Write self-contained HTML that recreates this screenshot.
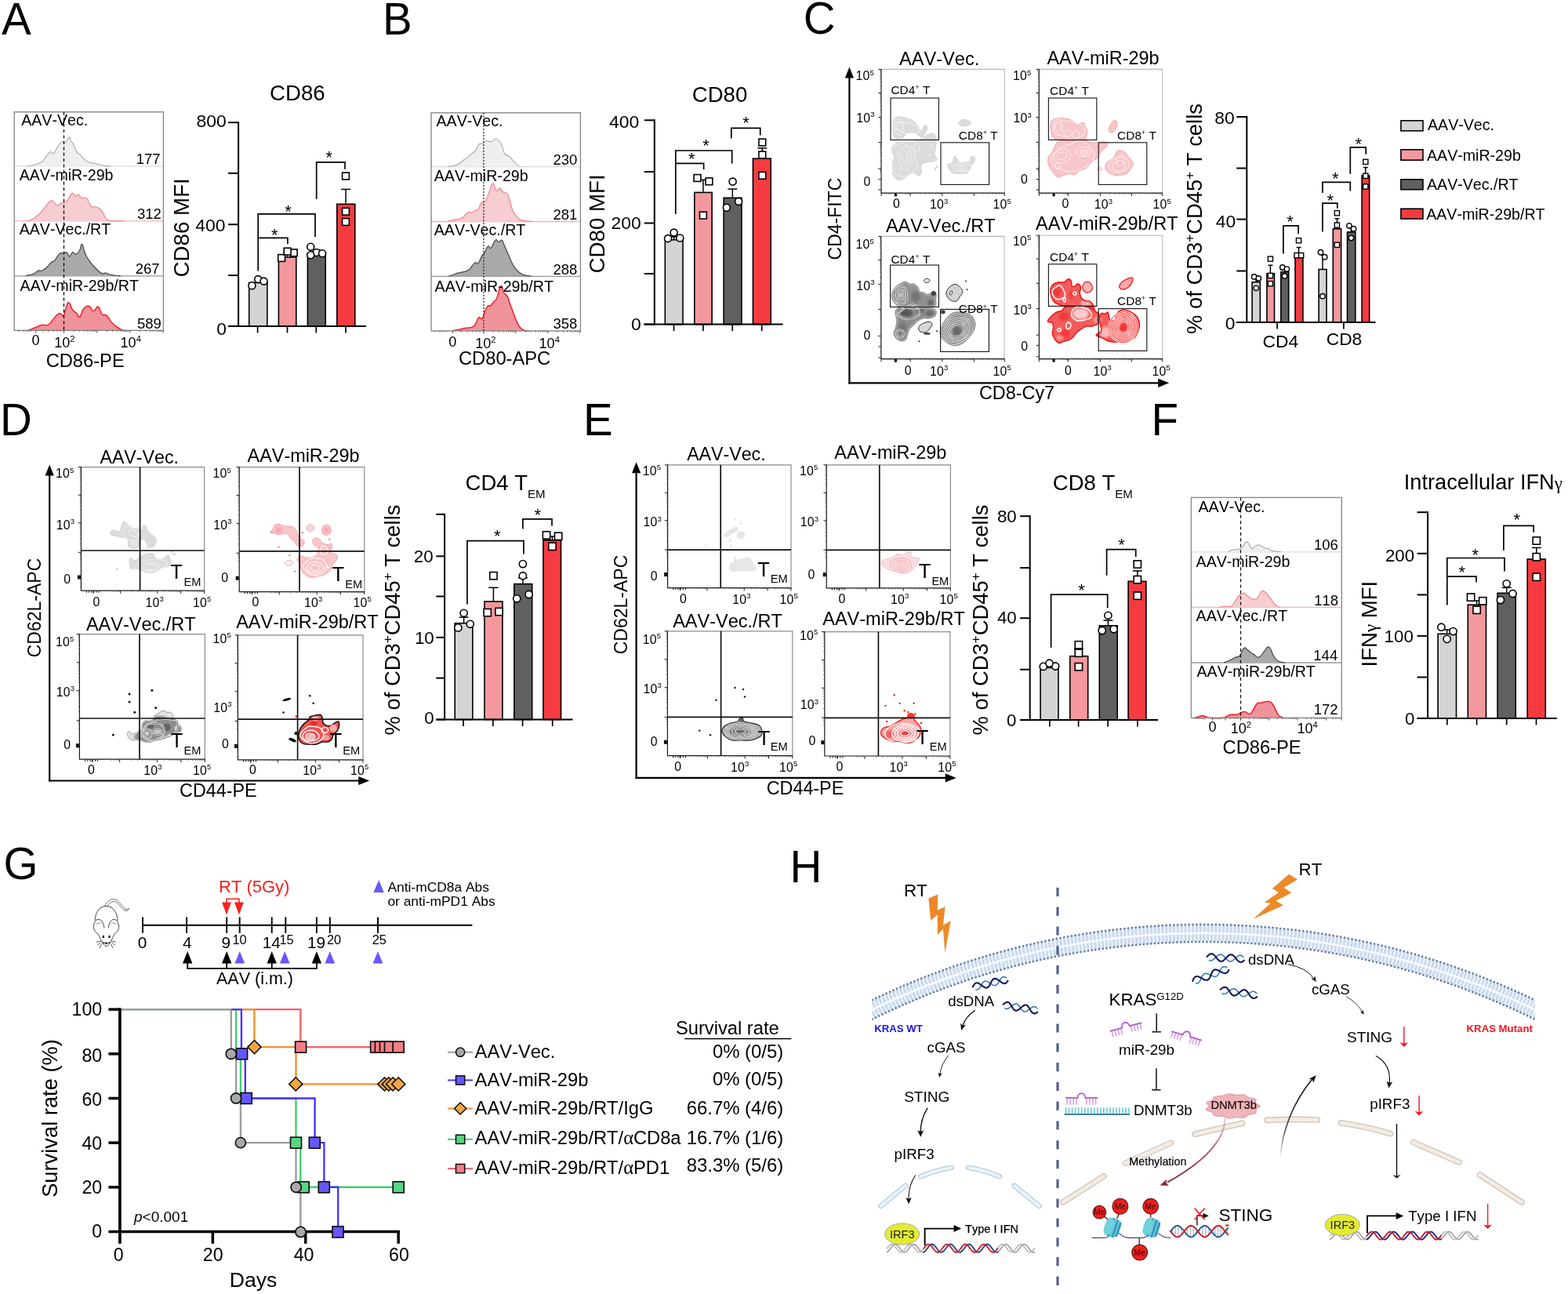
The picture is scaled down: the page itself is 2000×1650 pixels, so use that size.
<!DOCTYPE html>
<html lang="en"><head><meta charset="utf-8"><title>Figure</title>
<style>
html,body{margin:0;padding:0;background:#fff;}
body{width:2000px;height:1650px;overflow:hidden;}
svg{display:block;font-family:'Liberation Sans', Arial, Helvetica, sans-serif;}
text{font-family:'Liberation Sans', Arial, Helvetica, sans-serif;font-kerning:none;}
</style></head><body>
<svg xmlns="http://www.w3.org/2000/svg" width="2000" height="1650" viewBox="0 0 2000 1650">
<defs><filter id="bl1" x="-20%" y="-20%" width="140%" height="140%"><feGaussianBlur stdDeviation="0.7"/></filter><filter id="bl2" x="-30%" y="-30%" width="160%" height="160%"><feGaussianBlur stdDeviation="1.6"/></filter><filter id="bl3" x="-30%" y="-30%" width="160%" height="160%"><feGaussianBlur stdDeviation="2.6"/></filter><linearGradient id="lgO" x1="0" y1="0" x2="1" y2="1"><stop offset="0" stop-color="#e88a2a"/><stop offset="1" stop-color="#ee8a26"/></linearGradient><linearGradient id="lgK" gradientUnits="userSpaceOnUse" x1="1633" y1="1476" x2="1660" y2="1400"><stop offset="0" stop-color="#111" stop-opacity="0"/><stop offset="0.45" stop-color="#111" stop-opacity="0.75"/><stop offset="1" stop-color="#111"/></linearGradient><linearGradient id="lgR" gradientUnits="userSpaceOnUse" x1="1562" y1="1426" x2="1485" y2="1510"><stop offset="0" stop-color="#d88a94" stop-opacity="0.5"/><stop offset="0.35" stop-color="#b04050"/><stop offset="1" stop-color="#8a1c2a"/></linearGradient><clipPath id="cpM"><rect x="1112.4" y="1160" width="845.3" height="160"/></clipPath></defs>
<rect x="0" y="0" width="2000" height="1650" fill="#fff"/>
<text x="1.9" y="44" font-size="56.5">A</text>
<line x1="18.3" y1="211.9" x2="208.4" y2="211.9" stroke="#dcdcdc" stroke-width="1.3"/>
<path d="M35,211.9C37,211.5 38.5,211.6 42.5,210.6C46.5,209.6 46.7,209.6 50,208.1C53.3,206.6 52.7,207.2 55,205C57.3,202.8 56.4,203 58.8,200C61.1,197 61.2,194.9 63.8,193.8C66.2,192.6 65.8,197 68.1,195.6C70.5,194.3 70.3,192.1 72.5,188.8C74.7,185.4 74.4,185.2 76.2,183.1C78.1,181.1 77.4,181.4 79.4,181C81.4,180.6 81.4,183.2 83.8,181.5C86.1,179.8 86.3,175.2 88.1,174.8C90,174.3 89.3,177.8 90.6,180C92,182.2 91.8,180.8 93.1,183.1C94.5,185.5 94.1,185.6 95.6,188.8C97.1,191.9 97.1,192.8 98.8,195C100.4,197.2 99.9,195 101.9,196.9C103.9,198.7 103.4,199.3 106.2,201.9C109.1,204.4 108.8,204.8 112.5,206.5C116.2,208.2 115.3,207 120,208.1C124.7,209.2 124.3,209.6 130,210.6C135.7,211.7 138.2,211.6 141.2,212L141.2,211.9L35.0,211.9Z" fill="#efefef"/>
<path d="M35,211.9C37,211.5 38.5,211.6 42.5,210.6C46.5,209.6 46.7,209.6 50,208.1C53.3,206.6 52.7,207.2 55,205C57.3,202.8 56.4,203 58.8,200C61.1,197 61.2,194.9 63.8,193.8C66.2,192.6 65.8,197 68.1,195.6C70.5,194.3 70.3,192.1 72.5,188.8C74.7,185.4 74.4,185.2 76.2,183.1C78.1,181.1 77.4,181.4 79.4,181C81.4,180.6 81.4,183.2 83.8,181.5C86.1,179.8 86.3,175.2 88.1,174.8C90,174.3 89.3,177.8 90.6,180C92,182.2 91.8,180.8 93.1,183.1C94.5,185.5 94.1,185.6 95.6,188.8C97.1,191.9 97.1,192.8 98.8,195C100.4,197.2 99.9,195 101.9,196.9C103.9,198.7 103.4,199.3 106.2,201.9C109.1,204.4 108.8,204.8 112.5,206.5C116.2,208.2 115.3,207 120,208.1C124.7,209.2 124.3,209.6 130,210.6C135.7,211.7 138.2,211.6 141.2,212" fill="none" stroke="#b4b4b4" stroke-width="1.3" stroke-linejoin="round"/>
<line x1="18.3" y1="281.9" x2="208.4" y2="281.9" stroke="#f3b4ba" stroke-width="1.3"/>
<path d="M33.8,281.9C35.4,281.4 36.3,281.8 40,280C43.7,278.2 44.2,277.5 47.5,275C50.8,272.5 49.5,274 52.5,270.6C55.5,267.3 55.8,266.2 58.8,262.5C61.8,258.8 61.4,258.5 63.8,256.9C66.1,255.3 65,255.1 67.5,256.5C70,257.9 70.5,261.5 73.1,262.2C75.8,263 74.3,260.8 77.5,259.4C80.7,257.9 82,259.2 85,256.9C88,254.5 86.8,253.4 88.8,250.6C90.8,247.9 90.5,246.7 92.5,246.5C94.5,246.3 94.2,249.3 96.2,249.8C98.2,250.2 98,247.5 100,248.1C102,248.8 101.1,251.1 103.8,252.2C106.4,253.4 107.5,251.1 110,252.5C112.5,253.9 111.3,254.6 113.1,257.5C115,260.4 114.2,261.8 116.9,263.5C119.5,265.2 120,262.9 123.1,264C126.3,265.1 126.2,264.9 128.8,267.5C131.2,270.1 130.2,270.2 132.5,273.8C134.8,277.2 133.5,278.6 137.5,280.6C141.5,282.7 142.2,281.1 147.5,281.5C152.8,281.9 154.8,281.9 157.5,282L157.5,281.9L33.8,281.9Z" fill="#f6cdd1"/>
<path d="M33.8,281.9C35.4,281.4 36.3,281.8 40,280C43.7,278.2 44.2,277.5 47.5,275C50.8,272.5 49.5,274 52.5,270.6C55.5,267.3 55.8,266.2 58.8,262.5C61.8,258.8 61.4,258.5 63.8,256.9C66.1,255.3 65,255.1 67.5,256.5C70,257.9 70.5,261.5 73.1,262.2C75.8,263 74.3,260.8 77.5,259.4C80.7,257.9 82,259.2 85,256.9C88,254.5 86.8,253.4 88.8,250.6C90.8,247.9 90.5,246.7 92.5,246.5C94.5,246.3 94.2,249.3 96.2,249.8C98.2,250.2 98,247.5 100,248.1C102,248.8 101.1,251.1 103.8,252.2C106.4,253.4 107.5,251.1 110,252.5C112.5,253.9 111.3,254.6 113.1,257.5C115,260.4 114.2,261.8 116.9,263.5C119.5,265.2 120,262.9 123.1,264C126.3,265.1 126.2,264.9 128.8,267.5C131.2,270.1 130.2,270.2 132.5,273.8C134.8,277.2 133.5,278.6 137.5,280.6C141.5,282.7 142.2,281.1 147.5,281.5C152.8,281.9 154.8,281.9 157.5,282" fill="none" stroke="#ee8a92" stroke-width="1.3" stroke-linejoin="round"/>
<line x1="18.3" y1="351.9" x2="208.4" y2="351.9" stroke="#9a9a9a" stroke-width="1.3"/>
<path d="M32.5,351.5C35.2,350.9 38.2,351 42.5,349.4C46.8,347.7 45.8,346.4 48.8,345.2C51.8,344.1 50.8,346.2 53.8,345C56.8,343.8 56.7,343.6 60,340.6C63.3,337.6 63.8,335.9 66.2,333.8C68.8,331.6 66.7,335.2 69.4,332.5C72,329.8 73.1,326 76.2,323.5C79.4,321 78.9,323.6 81.2,323.1C83.6,322.7 83,320.9 85,321.9C87,322.9 86.8,327 88.8,326.9C90.8,326.8 90.5,322.3 92.5,321.5C94.5,320.7 93.9,324.4 96.2,324C98.6,323.6 99.1,323.3 101.2,320C103.4,316.7 102.7,311.5 104.4,311.5C106,311.5 106,316.1 107.5,320C109,323.9 108,322.5 110,326.2C112,330 112.3,330.4 115,334C117.7,337.6 116.3,336 120,339.8C123.7,343.5 124.8,345.9 128.8,348.1C132.8,350.4 131.3,347.6 135,348.2C138.7,348.9 137.5,349.7 142.5,350.6C147.5,351.6 150.8,351.5 153.8,351.9L153.8,351.9L32.5,351.9Z" fill="#a9a9a9"/>
<path d="M32.5,351.5C35.2,350.9 38.2,351 42.5,349.4C46.8,347.7 45.8,346.4 48.8,345.2C51.8,344.1 50.8,346.2 53.8,345C56.8,343.8 56.7,343.6 60,340.6C63.3,337.6 63.8,335.9 66.2,333.8C68.8,331.6 66.7,335.2 69.4,332.5C72,329.8 73.1,326 76.2,323.5C79.4,321 78.9,323.6 81.2,323.1C83.6,322.7 83,320.9 85,321.9C87,322.9 86.8,327 88.8,326.9C90.8,326.8 90.5,322.3 92.5,321.5C94.5,320.7 93.9,324.4 96.2,324C98.6,323.6 99.1,323.3 101.2,320C103.4,316.7 102.7,311.5 104.4,311.5C106,311.5 106,316.1 107.5,320C109,323.9 108,322.5 110,326.2C112,330 112.3,330.4 115,334C117.7,337.6 116.3,336 120,339.8C123.7,343.5 124.8,345.9 128.8,348.1C132.8,350.4 131.3,347.6 135,348.2C138.7,348.9 137.5,349.7 142.5,350.6C147.5,351.6 150.8,351.5 153.8,351.9" fill="none" stroke="#4c4c4c" stroke-width="1.3" stroke-linejoin="round"/>
<path d="M35,421.9C37.3,420.9 38.8,420.1 43.8,418.1C48.8,416.1 49.1,415.4 53.8,414.4C58.4,413.4 57.6,416.2 61.2,414.4C64.9,412.5 64.2,411.2 67.5,407.5C70.8,403.8 71.1,402.6 73.8,400.6C76.4,398.7 75.5,399.9 77.5,400.2C79.5,400.6 79.2,404.6 81.2,401.9C83.2,399.1 83.2,394.2 85,390C86.8,385.8 86.1,384.9 88.1,386.2C90.1,387.6 90,391.5 92.5,395C95,398.5 95,397 97.5,399.4C100,401.7 99.5,405.1 101.9,403.8C104.2,402.4 103.2,397.9 106.2,394.4C109.2,390.8 109.6,389.8 113.1,390.4C116.6,390.9 116.2,396.3 119.4,396.5C122.5,396.7 122.2,390.1 125,391.2C127.8,392.4 127.5,397.9 130,400.6C132.5,403.4 132,400.2 134.4,401.5C136.7,402.8 136.6,403 138.8,405.6C140.9,408.2 139.5,408.1 142.5,411.2C145.5,414.4 146.3,414.9 150,417.5C153.7,420.1 153.2,419.7 156.2,420.9C159.2,422 159.9,421.6 161.2,421.9L161.2,421.3L35.0,421.3Z" fill="#f1939b"/>
<path d="M35,421.9C37.3,420.9 38.8,420.1 43.8,418.1C48.8,416.1 49.1,415.4 53.8,414.4C58.4,413.4 57.6,416.2 61.2,414.4C64.9,412.5 64.2,411.2 67.5,407.5C70.8,403.8 71.1,402.6 73.8,400.6C76.4,398.7 75.5,399.9 77.5,400.2C79.5,400.6 79.2,404.6 81.2,401.9C83.2,399.1 83.2,394.2 85,390C86.8,385.8 86.1,384.9 88.1,386.2C90.1,387.6 90,391.5 92.5,395C95,398.5 95,397 97.5,399.4C100,401.7 99.5,405.1 101.9,403.8C104.2,402.4 103.2,397.9 106.2,394.4C109.2,390.8 109.6,389.8 113.1,390.4C116.6,390.9 116.2,396.3 119.4,396.5C122.5,396.7 122.2,390.1 125,391.2C127.8,392.4 127.5,397.9 130,400.6C132.5,403.4 132,400.2 134.4,401.5C136.7,402.8 136.6,403 138.8,405.6C140.9,408.2 139.5,408.1 142.5,411.2C145.5,414.4 146.3,414.9 150,417.5C153.7,420.1 153.2,419.7 156.2,420.9C159.2,422 159.9,421.6 161.2,421.9" fill="none" stroke="#f3262c" stroke-width="1.6" stroke-linejoin="round"/>
<rect x="18.3" y="142.8" width="190.1" height="278.5" fill="none" stroke="#8a8a8a" stroke-width="1.4"/>
<line x1="81.5" y1="142.8" x2="81.5" y2="424.3" stroke="#111" stroke-width="1.3" stroke-dasharray="4.2 3.2"/>
<text x="27.2" y="160.4" font-size="19.6">AAV-Vec.</text>
<text x="24.7" y="230.4" font-size="19.6">AAV-miR-29b</text>
<text x="24.7" y="299.4" font-size="19.6">AAV-Vec./RT</text>
<text x="25.6" y="370.6" font-size="19.6">AAV-miR-29b/RT</text>
<text x="204.6" y="209" font-size="18.5" text-anchor="end">177</text>
<text x="205.8" y="279.4" font-size="18.5" text-anchor="end">312</text>
<text x="203.6" y="349.4" font-size="18.5" text-anchor="end">267</text>
<text x="205.8" y="418.8" font-size="18.5" text-anchor="end">589</text>
<path d="M81.5,421.3v3.2M94.2,421.3v1.6M101.6,421.3v1.6M106.9,421.3v1.6M111.0,421.3v1.6M114.3,421.3v1.6M117.2,421.3v1.6M119.6,421.3v1.6M121.8,421.3v1.6M123.7,421.3v3.2M136.4,421.3v1.6M143.8,421.3v1.6M149.1,421.3v1.6M153.2,421.3v1.6M156.5,421.3v1.6M159.4,421.3v1.6M161.8,421.3v1.6M164.0,421.3v1.6M165.9,421.3v3.2M178.6,421.3v1.6M186.0,421.3v1.6M191.3,421.3v1.6M195.4,421.3v1.6M198.7,421.3v1.6M201.6,421.3v1.6M204.0,421.3v1.6M206.2,421.3v1.6M208.1,421.3v3.2M45.6,421.3v3.2M30.0,421.3v1.6M33.0,421.3v1.6M36.0,421.3v1.6M39.0,421.3v1.6M24.0,421.3v1.6M55.0,421.3v1.6M62.0,421.3v1.6M68.0,421.3v1.6M73.0,421.3v1.6M77.0,421.3v1.6" fill="none" stroke="#555" stroke-width="1"/>
<text x="45.6" y="440.2" font-size="18" text-anchor="middle">0</text>
<text x="69.2" y="442.5" font-size="18">10<tspan font-size="11.16" dy="-6.48">2</tspan><tspan dy="6.48" font-size="1">&#8203;</tspan></text>
<text x="153.6" y="442.5" font-size="18">10<tspan font-size="11.16" dy="-6.48">4</tspan><tspan dy="6.48" font-size="1">&#8203;</tspan></text>
<text x="108.7" y="468.4" font-size="23.7" text-anchor="middle">CD86-PE</text>
<rect x="317.7" y="360.4" width="23.1" height="55.5" fill="#d4d4d4" stroke="#000" stroke-width="1.6"/>
<rect x="355.4" y="327.9" width="22.4" height="88" fill="#f3999e" stroke="#000" stroke-width="1.6"/>
<rect x="392.4" y="323" width="22.8" height="92.9" fill="#606060" stroke="#000" stroke-width="1.6"/>
<rect x="429.8" y="260.3" width="23" height="155.6" fill="#f53b40" stroke="#000" stroke-width="1.6"/>
<line x1="441" y1="241.4" x2="441" y2="259.5" stroke="#000" stroke-width="1.5"/>
<line x1="435" y1="241.4" x2="447" y2="241.4" stroke="#000" stroke-width="1.5"/>
<line x1="366.5" y1="322" x2="366.5" y2="327" stroke="#000" stroke-width="1.5"/>
<line x1="361.5" y1="322" x2="371.5" y2="322" stroke="#000" stroke-width="1.5"/>
<line x1="403.7" y1="318.5" x2="403.7" y2="322.2" stroke="#000" stroke-width="1.5"/>
<line x1="398.7" y1="318.5" x2="408.7" y2="318.5" stroke="#000" stroke-width="1.5"/>
<line x1="329.2" y1="357" x2="329.2" y2="359.6" stroke="#000" stroke-width="1.5"/>
<line x1="324.2" y1="357" x2="334.2" y2="357" stroke="#000" stroke-width="1.5"/>
<line x1="304.1" y1="155.2" x2="304.1" y2="416.9" stroke="#000" stroke-width="2"/>
<line x1="290.9" y1="415.9" x2="467" y2="415.9" stroke="#000" stroke-width="2"/>
<line x1="291.1" y1="156.2" x2="304.1" y2="156.2" stroke="#000" stroke-width="2"/>
<text x="288.8" y="162.1" font-size="22.9" text-anchor="end">800</text>
<line x1="291.1" y1="220.9" x2="304.1" y2="220.9" stroke="#000" stroke-width="2"/>
<line x1="291.1" y1="286.2" x2="304.1" y2="286.2" stroke="#000" stroke-width="2"/>
<text x="287.5" y="294.6" font-size="22.9" text-anchor="end">400</text>
<line x1="291.1" y1="351.1" x2="304.1" y2="351.1" stroke="#000" stroke-width="2"/>
<line x1="291.1" y1="415.9" x2="304.1" y2="415.9" stroke="#000" stroke-width="2"/>
<text x="289.1" y="427.2" font-size="22.9" text-anchor="end">0</text>
<line x1="328.6" y1="415.9" x2="328.6" y2="424.4" stroke="#000" stroke-width="1.7"/>
<line x1="366.5" y1="415.9" x2="366.5" y2="424.4" stroke="#000" stroke-width="1.7"/>
<line x1="403.3" y1="415.9" x2="403.3" y2="424.4" stroke="#000" stroke-width="1.7"/>
<line x1="441" y1="415.9" x2="441" y2="424.4" stroke="#000" stroke-width="1.7"/>
<circle cx="321.4" cy="364.2" r="4.5" fill="#fff" stroke="#000" stroke-width="1.6"/>
<circle cx="329.2" cy="356.1" r="4.5" fill="#fff" stroke="#000" stroke-width="1.6"/>
<circle cx="336.6" cy="358.6" r="4.5" fill="#fff" stroke="#000" stroke-width="1.6"/>
<rect x="354.7" y="324.6" width="8.8" height="8.8" fill="#fff" stroke="#000" stroke-width="1.6"/>
<rect x="370.3" y="317.9" width="8.8" height="8.8" fill="#fff" stroke="#000" stroke-width="1.6"/>
<rect x="362.2" y="316.2" width="8.8" height="8.8" fill="#fff" stroke="#000" stroke-width="1.6"/>
<circle cx="403.7" cy="322" r="4.5" fill="#fff" stroke="#000" stroke-width="1.6"/>
<circle cx="396.2" cy="314.8" r="4.5" fill="#fff" stroke="#000" stroke-width="1.6"/>
<circle cx="396.2" cy="325.2" r="4.5" fill="#fff" stroke="#000" stroke-width="1.6"/>
<circle cx="411.1" cy="323.2" r="4.5" fill="#fff" stroke="#000" stroke-width="1.6"/>
<rect x="436.6" y="220.1" width="8.8" height="8.8" fill="#fff" stroke="#000" stroke-width="1.6"/>
<rect x="436.6" y="265.3" width="8.8" height="8.8" fill="#fff" stroke="#000" stroke-width="1.6"/>
<rect x="436.6" y="278.6" width="8.8" height="8.8" fill="#fff" stroke="#000" stroke-width="1.6"/>
<polyline points="329.2,345.6 329.2,272.9 402,272.9 402,302.1" fill="none" stroke="#000" stroke-width="1.7"/>
<polyline points="329.2,303.3 366.9,303.3 366.9,310.9" fill="none" stroke="#000" stroke-width="1.7"/>
<polyline points="403.7,253.8 403.7,206.9 440,206.9 440,215.7" fill="none" stroke="#000" stroke-width="1.7"/>
<text x="350.4" y="306.9" font-size="22" text-anchor="middle">*</text>
<text x="367.6" y="276.5" font-size="22" text-anchor="middle">*</text>
<text x="419.8" y="208.2" font-size="22" text-anchor="middle">*</text>
<text x="241.5" y="290.3" font-size="27.7" text-anchor="middle" transform="rotate(-90 241.5 290.3)">CD86 MFI</text>
<text x="379.4" y="128" font-size="27.6" text-anchor="middle">CD86</text>
<text x="488" y="44" font-size="56.5">B</text>
<line x1="550" y1="212.5" x2="740.4" y2="212.5" stroke="#dcdcdc" stroke-width="1.3"/>
<path d="M571.2,212.5C573.6,212.2 576,212.4 580,211.2C584,210.1 582.9,210.3 586.2,208.1C589.6,206 589.8,205 592.5,203.1C595.2,201.2 593.6,203.2 596.2,201C598.9,198.8 599.8,197.3 602.5,195C605.2,192.7 603.9,195.5 606.2,192.5C608.6,189.5 608.9,186.2 611.2,183.8C613.6,181.2 612.7,184.2 615,183.1C617.3,182.1 617.3,180.4 620,179.8C622.7,179.1 622.7,180.6 625,180.6C627.3,180.7 626.9,181 628.8,180C630.6,179 629.9,177 631.9,176.9C633.9,176.7 634.4,177.9 636.2,179.4C638.1,180.9 637.4,180 638.8,182.5C640.1,185 639.9,185.1 641.2,188.8C642.6,192.4 642.1,193.8 643.8,196.2C645.4,198.8 645.2,196.5 647.5,198.1C649.8,199.8 649.8,199.8 652.5,202.5C655.2,205.2 654.8,205.5 657.5,208.1C660.2,210.7 661.2,211.2 662.5,212.2L662.5,212.5L571.2,212.5Z" fill="#efefef"/>
<path d="M571.2,212.5C573.6,212.2 576,212.4 580,211.2C584,210.1 582.9,210.3 586.2,208.1C589.6,206 589.8,205 592.5,203.1C595.2,201.2 593.6,203.2 596.2,201C598.9,198.8 599.8,197.3 602.5,195C605.2,192.7 603.9,195.5 606.2,192.5C608.6,189.5 608.9,186.2 611.2,183.8C613.6,181.2 612.7,184.2 615,183.1C617.3,182.1 617.3,180.4 620,179.8C622.7,179.1 622.7,180.6 625,180.6C627.3,180.7 626.9,181 628.8,180C630.6,179 629.9,177 631.9,176.9C633.9,176.7 634.4,177.9 636.2,179.4C638.1,180.9 637.4,180 638.8,182.5C640.1,185 639.9,185.1 641.2,188.8C642.6,192.4 642.1,193.8 643.8,196.2C645.4,198.8 645.2,196.5 647.5,198.1C649.8,199.8 649.8,199.8 652.5,202.5C655.2,205.2 654.8,205.5 657.5,208.1C660.2,210.7 661.2,211.2 662.5,212.2" fill="none" stroke="#b4b4b4" stroke-width="1.3" stroke-linejoin="round"/>
<line x1="550" y1="282.5" x2="740.4" y2="282.5" stroke="#f3b4ba" stroke-width="1.3"/>
<path d="M571.2,282.5C573.6,281.8 575.3,281.2 580,280C584.7,278.8 585.1,279.8 588.8,278.1C592.4,276.5 591.4,275.8 593.8,273.8C596.1,271.8 595.3,271.3 597.5,270.6C599.7,270 599.5,271.9 601.9,271.2C604.2,270.6 604.1,269.3 606.2,268.1C608.4,267 608,269.4 610,266.9C612,264.4 611.8,261.2 613.8,258.8C615.8,256.2 615.5,259.2 617.5,257.5C619.5,255.8 619.2,256.7 621.2,252.5C623.2,248.3 623,246.8 625,241.9C627,236.9 626.6,233.7 628.8,234C630.9,234.3 630.8,241.5 633.1,243.1C635.5,244.7 635,239.3 637.5,240C640,240.7 640,243.8 642.5,245.6C645,247.5 644.9,244.4 646.9,246.9C648.9,249.4 648.3,249.8 650,255C651.7,260.2 651.5,261.6 653.1,266.2C654.8,270.9 654.1,269.3 656.2,272.5C658.4,275.7 658.2,275.7 661.2,278.1C664.2,280.5 662.8,280.3 667.5,281.5C672.2,282.7 675.8,282.2 678.8,282.5L678.8,282.5L571.2,282.5Z" fill="#f6cdd1"/>
<path d="M571.2,282.5C573.6,281.8 575.3,281.2 580,280C584.7,278.8 585.1,279.8 588.8,278.1C592.4,276.5 591.4,275.8 593.8,273.8C596.1,271.8 595.3,271.3 597.5,270.6C599.7,270 599.5,271.9 601.9,271.2C604.2,270.6 604.1,269.3 606.2,268.1C608.4,267 608,269.4 610,266.9C612,264.4 611.8,261.2 613.8,258.8C615.8,256.2 615.5,259.2 617.5,257.5C619.5,255.8 619.2,256.7 621.2,252.5C623.2,248.3 623,246.8 625,241.9C627,236.9 626.6,233.7 628.8,234C630.9,234.3 630.8,241.5 633.1,243.1C635.5,244.7 635,239.3 637.5,240C640,240.7 640,243.8 642.5,245.6C645,247.5 644.9,244.4 646.9,246.9C648.9,249.4 648.3,249.8 650,255C651.7,260.2 651.5,261.6 653.1,266.2C654.8,270.9 654.1,269.3 656.2,272.5C658.4,275.7 658.2,275.7 661.2,278.1C664.2,280.5 662.8,280.3 667.5,281.5C672.2,282.7 675.8,282.2 678.8,282.5" fill="none" stroke="#ee8a92" stroke-width="1.3" stroke-linejoin="round"/>
<line x1="550" y1="352.3" x2="740.4" y2="352.3" stroke="#9a9a9a" stroke-width="1.3"/>
<path d="M572.5,352.2C574.2,351.6 575.8,351.1 578.8,350C581.8,348.9 580.8,349 583.8,348.1C586.8,347.3 586.3,347.9 590,346.9C593.7,345.9 594.2,346.5 597.5,344.4C600.8,342.2 600.2,341.3 602.5,338.8C604.8,336.2 604.2,335.6 606.2,334.8C608.2,333.9 607.7,338.1 610,335.6C612.3,333.2 613,329 615,325.6C617,322.3 615.5,326.2 617.5,323.1C619.5,320 620.2,315.8 622.5,314C624.8,312.2 623.8,318.3 626.2,316.2C628.8,314.2 629.2,308.3 631.9,306.2C634.5,304.2 634.1,308.5 636.2,308.5C638.4,308.5 638.2,305.2 640,306.2C641.8,307.3 641.1,308.2 643.1,312.5C645.1,316.8 645.3,317.5 647.5,322.5C649.7,327.5 648.9,326.4 651.2,331.2C653.6,336.1 653.2,336.3 656.2,340.6C659.2,345 659.2,344.8 662.5,347.5C665.8,350.2 664.8,349.4 668.8,350.6C672.8,351.9 675.2,351.8 677.5,352.2L677.5,352.3L572.5,352.3Z" fill="#a9a9a9"/>
<path d="M572.5,352.2C574.2,351.6 575.8,351.1 578.8,350C581.8,348.9 580.8,349 583.8,348.1C586.8,347.3 586.3,347.9 590,346.9C593.7,345.9 594.2,346.5 597.5,344.4C600.8,342.2 600.2,341.3 602.5,338.8C604.8,336.2 604.2,335.6 606.2,334.8C608.2,333.9 607.7,338.1 610,335.6C612.3,333.2 613,329 615,325.6C617,322.3 615.5,326.2 617.5,323.1C619.5,320 620.2,315.8 622.5,314C624.8,312.2 623.8,318.3 626.2,316.2C628.8,314.2 629.2,308.3 631.9,306.2C634.5,304.2 634.1,308.5 636.2,308.5C638.4,308.5 638.2,305.2 640,306.2C641.8,307.3 641.1,308.2 643.1,312.5C645.1,316.8 645.3,317.5 647.5,322.5C649.7,327.5 648.9,326.4 651.2,331.2C653.6,336.1 653.2,336.3 656.2,340.6C659.2,345 659.2,344.8 662.5,347.5C665.8,350.2 664.8,349.4 668.8,350.6C672.8,351.9 675.2,351.8 677.5,352.2" fill="none" stroke="#4c4c4c" stroke-width="1.3" stroke-linejoin="round"/>
<path d="M576.2,421.9C578.2,421.5 579.4,421.5 583.8,420.6C588.1,419.7 587.5,419.5 592.5,418.5C597.5,417.5 598.7,418.5 602.5,416.9C606.3,415.3 604.7,415.7 606.9,412.5C609,409.3 608.5,406.7 610.6,405C612.8,403.3 612.8,408.6 615,406.2C617.2,403.9 616.8,400.6 618.8,396.2C620.8,391.9 620.7,391.7 622.5,390C624.3,388.3 623.6,391.2 625.6,389.8C627.6,388.2 627.8,387 630,384.4C632.2,381.8 631.4,385.2 633.8,380C636.1,374.8 636.4,366.8 638.8,365C641.1,363.2 640.3,369.8 642.5,373.1C644.7,376.5 644.9,374 646.9,377.5C648.9,381 648.2,381.2 650,386.2C651.8,391.2 651.8,390.9 653.8,396.2C655.8,401.6 655.5,401.4 657.5,406.2C659.5,411.1 659.2,411 661.2,414.4C663.2,417.8 662.7,417.1 665,419C667.3,420.9 667.3,420.7 670,421.5C672.7,422.3 673.7,422 675,422.1L675.0,421.9L576.2,421.9Z" fill="#f1939b"/>
<path d="M576.2,421.9C578.2,421.5 579.4,421.5 583.8,420.6C588.1,419.7 587.5,419.5 592.5,418.5C597.5,417.5 598.7,418.5 602.5,416.9C606.3,415.3 604.7,415.7 606.9,412.5C609,409.3 608.5,406.7 610.6,405C612.8,403.3 612.8,408.6 615,406.2C617.2,403.9 616.8,400.6 618.8,396.2C620.8,391.9 620.7,391.7 622.5,390C624.3,388.3 623.6,391.2 625.6,389.8C627.6,388.2 627.8,387 630,384.4C632.2,381.8 631.4,385.2 633.8,380C636.1,374.8 636.4,366.8 638.8,365C641.1,363.2 640.3,369.8 642.5,373.1C644.7,376.5 644.9,374 646.9,377.5C648.9,381 648.2,381.2 650,386.2C651.8,391.2 651.8,390.9 653.8,396.2C655.8,401.6 655.5,401.4 657.5,406.2C659.5,411.1 659.2,411 661.2,414.4C663.2,417.8 662.7,417.1 665,419C667.3,420.9 667.3,420.7 670,421.5C672.7,422.3 673.7,422 675,422.1" fill="none" stroke="#f3262c" stroke-width="1.6" stroke-linejoin="round"/>
<rect x="550" y="143.8" width="190.4" height="278.1" fill="none" stroke="#8a8a8a" stroke-width="1.4"/>
<line x1="616.9" y1="143.8" x2="616.9" y2="424.9" stroke="#333" stroke-width="1.3" stroke-dasharray="2.2 1.8"/>
<text x="556.5" y="161.3" font-size="19.6">AAV-Vec.</text>
<text x="553.8" y="231" font-size="19.6">AAV-miR-29b</text>
<text x="553.8" y="300.3" font-size="19.6">AAV-Vec./RT</text>
<text x="554.6" y="371.5" font-size="19.6">AAV-miR-29b/RT</text>
<text x="736.3" y="209.6" font-size="18.5" text-anchor="end">230</text>
<text x="736.3" y="280" font-size="18.5" text-anchor="end">281</text>
<text x="736.3" y="350.3" font-size="18.5" text-anchor="end">288</text>
<text x="736.3" y="419" font-size="18.5" text-anchor="end">358</text>
<path d="M616.9,421.9v3.2M629.2,421.9v1.6M636.5,421.9v1.6M641.6,421.9v1.6M645.6,421.9v1.6M648.8,421.9v1.6M651.5,421.9v1.6M653.9,421.9v1.6M656.0,421.9v1.6M657.9,421.9v3.2M670.2,421.9v1.6M677.5,421.9v1.6M682.6,421.9v1.6M686.6,421.9v1.6M689.8,421.9v1.6M692.5,421.9v1.6M694.9,421.9v1.6M697.0,421.9v1.6M698.9,421.9v3.2M711.2,421.9v1.6M718.5,421.9v1.6M723.6,421.9v1.6M727.6,421.9v1.6M730.8,421.9v1.6M733.5,421.9v1.6M735.9,421.9v1.6M738.0,421.9v1.6M739.9,421.9v3.2M577.3,421.9v3.2M560.0,421.9v1.6M563.0,421.9v1.6M566.0,421.9v1.6M569.0,421.9v1.6M555.0,421.9v1.6M588.0,421.9v1.6M596.0,421.9v1.6M603.0,421.9v1.6M608.0,421.9v1.6M612.0,421.9v1.6" fill="none" stroke="#555" stroke-width="1"/>
<text x="577.3" y="442" font-size="18" text-anchor="middle">0</text>
<text x="606.3" y="443.5" font-size="18">10<tspan font-size="11.16" dy="-6.48">2</tspan><tspan dy="6.48" font-size="1">&#8203;</tspan></text>
<text x="687.6" y="443.5" font-size="18">10<tspan font-size="11.16" dy="-6.48">4</tspan><tspan dy="6.48" font-size="1">&#8203;</tspan></text>
<text x="643.6" y="465" font-size="23.7" text-anchor="middle">CD80-APC</text>
<rect x="848.3" y="305.8" width="22.7" height="107.8" fill="#d4d4d4" stroke="#000" stroke-width="1.6"/>
<rect x="885.8" y="245.4" width="22.3" height="168.2" fill="#f3999e" stroke="#000" stroke-width="1.6"/>
<rect x="923.1" y="252.3" width="22.8" height="161.3" fill="#606060" stroke="#000" stroke-width="1.6"/>
<rect x="960.4" y="202.2" width="22.8" height="211.4" fill="#f53b40" stroke="#000" stroke-width="1.6"/>
<line x1="896.9" y1="229.4" x2="896.9" y2="244.6" stroke="#000" stroke-width="1.5"/>
<line x1="890.9" y1="229.4" x2="902.9" y2="229.4" stroke="#000" stroke-width="1.5"/>
<line x1="934.3" y1="241" x2="934.3" y2="251.5" stroke="#000" stroke-width="1.5"/>
<line x1="928.3" y1="241" x2="940.3" y2="241" stroke="#000" stroke-width="1.5"/>
<line x1="972.3" y1="188.8" x2="972.3" y2="201.4" stroke="#000" stroke-width="1.5"/>
<line x1="966.3" y1="188.8" x2="978.3" y2="188.8" stroke="#000" stroke-width="1.5"/>
<line x1="859.6" y1="302" x2="859.6" y2="305" stroke="#000" stroke-width="1.5"/>
<line x1="854.6" y1="302" x2="864.6" y2="302" stroke="#000" stroke-width="1.5"/>
<line x1="834.8" y1="152.3" x2="834.8" y2="414.6" stroke="#000" stroke-width="2"/>
<line x1="821.2" y1="413.6" x2="998.6" y2="413.6" stroke="#000" stroke-width="2"/>
<line x1="821.8" y1="153.3" x2="834.8" y2="153.3" stroke="#000" stroke-width="2"/>
<text x="815.2" y="163" font-size="22.9" text-anchor="end">400</text>
<line x1="821.8" y1="219" x2="834.8" y2="219" stroke="#000" stroke-width="2"/>
<line x1="821.8" y1="284.5" x2="834.8" y2="284.5" stroke="#000" stroke-width="2"/>
<text x="817.8" y="292.4" font-size="22.9" text-anchor="end">200</text>
<line x1="821.8" y1="349" x2="834.8" y2="349" stroke="#000" stroke-width="2"/>
<line x1="821.8" y1="413.6" x2="834.8" y2="413.6" stroke="#000" stroke-width="2"/>
<text x="817.8" y="421.4" font-size="22.9" text-anchor="end">0</text>
<line x1="859.5" y1="413.6" x2="859.5" y2="422.1" stroke="#000" stroke-width="1.7"/>
<line x1="896.9" y1="413.6" x2="896.9" y2="422.1" stroke="#000" stroke-width="1.7"/>
<line x1="934.2" y1="413.6" x2="934.2" y2="422.1" stroke="#000" stroke-width="1.7"/>
<line x1="971.7" y1="413.6" x2="971.7" y2="422.1" stroke="#000" stroke-width="1.7"/>
<circle cx="852" cy="304.1" r="4.5" fill="#fff" stroke="#000" stroke-width="1.6"/>
<circle cx="867.3" cy="303.5" r="4.5" fill="#fff" stroke="#000" stroke-width="1.6"/>
<circle cx="859.6" cy="296.6" r="4.5" fill="#fff" stroke="#000" stroke-width="1.6"/>
<rect x="885.1" y="222.6" width="8.8" height="8.8" fill="#fff" stroke="#000" stroke-width="1.6"/>
<rect x="900" y="226.9" width="8.8" height="8.8" fill="#fff" stroke="#000" stroke-width="1.6"/>
<rect x="892.5" y="270.2" width="8.8" height="8.8" fill="#fff" stroke="#000" stroke-width="1.6"/>
<circle cx="934.6" cy="231.6" r="4.5" fill="#fff" stroke="#000" stroke-width="1.6"/>
<circle cx="942.1" cy="256.9" r="4.5" fill="#fff" stroke="#000" stroke-width="1.6"/>
<circle cx="926.8" cy="264.8" r="4.5" fill="#fff" stroke="#000" stroke-width="1.6"/>
<rect x="967.9" y="177.1" width="8.8" height="8.8" fill="#fff" stroke="#000" stroke-width="1.6"/>
<rect x="967.9" y="193.1" width="8.8" height="8.8" fill="#fff" stroke="#000" stroke-width="1.6"/>
<rect x="967.9" y="219.4" width="8.8" height="8.8" fill="#fff" stroke="#000" stroke-width="1.6"/>
<polyline points="861.8,272.9 861.8,192 933.7,192 933.7,208.6" fill="none" stroke="#000" stroke-width="1.7"/>
<polyline points="861.8,208.3 897.6,208.3 897.6,216.1" fill="none" stroke="#000" stroke-width="1.7"/>
<polyline points="932.8,176.4 932.8,163.3 969.7,163.3 969.7,172.5" fill="none" stroke="#000" stroke-width="1.7"/>
<text x="882.2" y="209.5" font-size="22" text-anchor="middle">*</text>
<text x="900.5" y="192.9" font-size="22" text-anchor="middle">*</text>
<text x="951.5" y="164.3" font-size="22" text-anchor="middle">*</text>
<text x="771.5" y="285.4" font-size="27.7" text-anchor="middle" transform="rotate(-90 771.5 285.4)">CD80 MFI</text>
<text x="918" y="129.6" font-size="27.6" text-anchor="middle">CD80</text>
<text x="1024.7" y="43.2" font-size="56.5">C</text>
<line x1="1083.4" y1="98.6" x2="1083.4" y2="489.4" stroke="#000" stroke-width="2.2"/>
<polygon points="1083.4,85.6 1077.8,99.6 1089,99.6" fill="#000"/>
<line x1="1082.3" y1="488.3" x2="1478.2" y2="488.3" stroke="#000" stroke-width="2.2"/>
<polygon points="1491.2,488.3 1477.2,482.7 1477.2,493.9" fill="#000"/>
<text x="1073" y="279" font-size="23" text-anchor="middle" transform="rotate(-90 1073 279)">CD4-FITC</text>
<text x="1297" y="509" font-size="23.4" text-anchor="middle">CD8-Cy7</text>
<path d="M1139.2,154.4C1139.9,152.2 1141.2,150.5 1142.8,149.6C1144.4,148.7 1146.6,148.8 1148.8,149C1151,149.2 1153.6,150.1 1156,150.8C1158.4,151.5 1161.2,152.2 1163.2,153.2C1165.2,154.2 1166.6,155.2 1168,156.8C1169.4,158.4 1170.4,161.1 1171.6,162.8C1172.8,164.5 1174,167.4 1175.2,167C1176.4,166.6 1177.7,161.6 1178.8,160.4C1179.9,159.2 1181.2,159 1181.8,159.8C1182.4,160.6 1182.7,163.5 1182.4,165.2C1182.1,166.9 1181.2,168.4 1180,170C1178.8,171.6 1177.2,174.8 1175.2,174.8C1173.2,174.8 1170.2,171 1168,170C1165.8,169 1164,168.8 1162,168.8C1160,168.8 1157.6,169 1156,170C1154.4,171 1154.4,173.7 1152.4,174.8C1150.4,175.9 1146.1,177 1144,176.6C1141.9,176.2 1140.7,174.7 1139.8,172.4C1138.9,170.1 1138.7,165.8 1138.6,162.8C1138.5,159.8 1138.5,156.6 1139.2,154.4Z" fill="#dcdcdc" stroke="#cfcfcf" stroke-width="0.8" stroke-linejoin="round"/>
<path d="M1136.8,191.6C1137,188.8 1139.2,185 1141.6,183.2C1144,181.4 1147.8,181 1151.2,180.8C1154.6,180.6 1159.2,182.2 1162,182C1164.8,181.8 1165.8,180.4 1168,179.6C1170.2,178.8 1173,178.4 1175.2,177.2C1177.4,176 1179.2,173.6 1181.2,172.4C1183.2,171.2 1185.4,170.2 1187.2,170C1189,169.8 1190.8,169.6 1192,171.2C1193.2,172.8 1194.2,176.6 1194.4,179.6C1194.6,182.6 1193.6,186.2 1193.2,189.2C1192.8,192.2 1191.6,195.4 1192,197.6C1192.4,199.8 1195.8,201 1195.6,202.4C1195.4,203.8 1193.2,205.2 1190.8,206C1188.4,206.8 1183.8,206.4 1181.2,207.2C1178.6,208 1176.2,208.6 1175.2,210.8C1174.2,213 1175.8,218.2 1175.2,220.4C1174.6,222.6 1173.2,224 1171.6,224C1170,224 1167.8,220.6 1165.6,220.4C1163.4,220.2 1160.8,221.4 1158.4,222.8C1156,224.2 1153.6,227.8 1151.2,228.8C1148.8,229.8 1146,229.8 1144,228.8C1142,227.8 1140.2,226 1139.2,222.8C1138.2,219.6 1137.8,213.4 1138,209.6C1138.2,205.8 1140.6,203 1140.4,200C1140.2,197 1136.6,194.4 1136.8,191.6Z" fill="#dcdcdc" stroke="#cfcfcf" stroke-width="0.8" stroke-linejoin="round"/>
<path d="M1208.8,209.6C1209.4,208 1213.4,208.9 1214.8,207.2C1216.2,205.5 1216.2,200.2 1217.2,199.4C1218.2,198.6 1219.6,201.1 1220.8,202.4C1222,203.7 1222.6,206.4 1224.4,207.2C1226.2,208 1229.6,207.4 1231.6,207.2C1233.6,207 1235.2,207.2 1236.4,206C1237.6,204.8 1237.8,201 1238.8,200C1239.8,199 1241.6,199.2 1242.4,200C1243.2,200.8 1244.2,202.8 1243.6,204.8C1243,206.8 1240.4,209.4 1238.8,212C1237.2,214.6 1236.2,218.8 1234,220.4C1231.8,222 1228.6,221.5 1225.6,221.6C1222.6,221.7 1218.4,221.8 1216,221C1213.6,220.2 1212.4,218.7 1211.2,216.8C1210,214.9 1208.2,211.2 1208.8,209.6Z" fill="#dcdcdc" stroke="#cfcfcf" stroke-width="0.8" stroke-linejoin="round"/>
<path d="M1238.4,156.6C1238.4,157.4 1238.2,158.4 1237.3,159.1C1236.4,159.7 1234.5,160.2 1232.9,160.5C1231.4,160.7 1229.3,160.9 1227.8,160.6C1226.2,160.4 1224.3,159.8 1223.4,159.1C1222.6,158.4 1222.6,157.4 1222.7,156.6C1222.9,155.8 1223.5,155 1224.3,154.3C1225.1,153.6 1226.2,152.6 1227.6,152.3C1229.1,152 1231.3,152.4 1232.9,152.8C1234.4,153.1 1235.9,153.6 1236.8,154.2C1237.8,154.9 1238.3,155.8 1238.4,156.6Z" fill="#dcdcdc" stroke="#cfcfcf" stroke-width="0.8" stroke-linejoin="round"/>
<path d="M1152.6,161.6C1152.7,163.6 1152.7,166.2 1152,167.9C1151.4,169.6 1149.8,171.2 1148.5,171.7C1147.3,172.2 1145.7,171.6 1144.4,170.9C1143.2,170.2 1141.8,169.1 1141.1,167.6C1140.3,166 1139.9,163.6 1139.9,161.6C1139.8,159.6 1140.2,157.2 1140.9,155.5C1141.7,153.8 1143,151.9 1144.3,151.5C1145.5,151 1147.1,151.8 1148.3,152.5C1149.5,153.3 1150.6,154.5 1151.3,156.1C1152.1,157.6 1152.5,159.6 1152.6,161.6Z" fill="none" stroke="#f6f6f6" stroke-width="0.8" stroke-linejoin="round"/>
<path d="M1150.8,161C1150.8,162.2 1150.5,163.8 1150,164.6C1149.5,165.5 1148.5,165.8 1147.7,166.1C1147,166.3 1146.3,166.4 1145.5,166.1C1144.8,165.9 1143.8,165.4 1143.4,164.6C1142.9,163.7 1142.6,162.2 1142.7,161C1142.7,159.8 1143,158.4 1143.5,157.5C1143.9,156.6 1144.8,156 1145.5,155.7C1146.2,155.3 1147.1,155.1 1147.9,155.4C1148.6,155.7 1149.3,156.6 1149.8,157.6C1150.3,158.5 1150.7,159.8 1150.8,161Z" fill="none" stroke="#f6f6f6" stroke-width="0.8" stroke-linejoin="round"/>
<path d="M1172.6,167.3C1172.3,168.6 1170.9,169.9 1168.7,170.4C1166.5,171 1162.9,171.1 1159.6,170.6C1156.3,170.2 1151.8,169.2 1148.8,167.9C1145.7,166.7 1142.9,164.7 1141.2,163C1139.5,161.4 1137.8,159.2 1138.4,158.1C1139,157 1142.6,156.7 1145,156.2C1147.4,155.8 1149.6,155.2 1152.6,155.4C1155.7,155.7 1160.2,156.5 1163.2,157.7C1166.2,158.9 1169,161 1170.6,162.6C1172.1,164.2 1172.9,166 1172.6,167.3Z" fill="none" stroke="#f6f6f6" stroke-width="0.8" stroke-linejoin="round"/>
<path d="M1162.6,200.6C1163,203 1163.4,205.8 1163,207.9C1162.6,210 1161.4,211.8 1160.2,213.2C1159.1,214.6 1157.7,216 1156.2,216.4C1154.8,216.7 1152.8,216.3 1151.4,215.1C1150.1,213.9 1148.9,211.3 1148.1,209.3C1147.2,207.3 1146.7,205.3 1146.2,202.9C1145.6,200.6 1144.5,197.4 1144.9,195.4C1145.3,193.3 1147.1,191.8 1148.3,190.6C1149.5,189.5 1150.8,188.8 1152.3,188.3C1153.8,187.8 1155.8,186.7 1157.2,187.5C1158.6,188.4 1160,191.5 1160.9,193.6C1161.8,195.8 1162.3,198.2 1162.6,200.6Z" fill="none" stroke="#f6f6f6" stroke-width="0.8" stroke-linejoin="round"/>
<path d="M1159.3,201.1C1159.5,202.7 1159.2,204.6 1158.9,206.1C1158.5,207.5 1157.8,209.2 1157,209.9C1156.1,210.5 1154.8,210.4 1153.8,209.9C1152.8,209.5 1151.7,208.4 1150.9,207.1C1150.1,205.9 1149.3,204.3 1149,202.5C1148.6,200.8 1148.3,198.4 1148.7,196.8C1149.1,195.2 1150.2,193.8 1151.2,193.1C1152.2,192.4 1153.6,192.1 1154.7,192.6C1155.8,193.2 1156.8,194.9 1157.6,196.3C1158.4,197.7 1159.1,199.5 1159.3,201.1Z" fill="none" stroke="#f6f6f6" stroke-width="0.8" stroke-linejoin="round"/>
<path d="M1156.8,201.2C1156.8,202.4 1156.5,203.9 1156.1,204.8C1155.6,205.6 1154.8,206.2 1154.2,206.2C1153.6,206.2 1152.8,205.6 1152.3,204.8C1151.9,203.9 1151.6,202.4 1151.6,201.2C1151.6,200 1151.9,198.5 1152.3,197.6C1152.8,196.8 1153.6,196.2 1154.2,196.2C1154.8,196.2 1155.6,196.8 1156.1,197.6C1156.5,198.5 1156.8,200 1156.8,201.2Z" fill="none" stroke="#f6f6f6" stroke-width="0.8" stroke-linejoin="round"/>
<path d="M1149.9,215.6C1149.9,216 1149.8,216.5 1149.6,216.9C1149.4,217.2 1149,217.5 1148.7,217.7C1148.4,217.8 1148,217.8 1147.7,217.7C1147.4,217.5 1147,217.2 1146.8,216.9C1146.7,216.5 1146.5,216 1146.5,215.6C1146.5,215.2 1146.7,214.7 1146.8,214.3C1147,214 1147.4,213.7 1147.7,213.6C1148,213.4 1148.4,213.4 1148.7,213.6C1149,213.7 1149.4,214 1149.6,214.3C1149.8,214.7 1149.9,215.2 1149.9,215.6Z" fill="none" stroke="#f6f6f6" stroke-width="0.8" stroke-linejoin="round"/>
<path d="M1173,188C1173,189 1172.8,190.2 1172.3,191C1171.9,191.8 1171.1,192.5 1170.4,192.8C1169.7,193.1 1168.7,193.1 1168,192.8C1167.3,192.5 1166.5,191.8 1166.1,191C1165.7,190.2 1165.4,189 1165.4,188C1165.4,187 1165.7,185.8 1166.1,185C1166.5,184.2 1167.3,183.5 1168,183.2C1168.7,182.9 1169.7,182.9 1170.4,183.2C1171.1,183.5 1171.9,184.2 1172.3,185C1172.8,185.8 1173,187 1173,188Z" fill="none" stroke="#f6f6f6" stroke-width="0.8" stroke-linejoin="round"/>
<path d="M1190.8,186.6C1190.8,187 1190.6,187.6 1190.3,188C1190.1,188.4 1189.6,188.7 1189.1,188.8C1188.7,189 1188.1,189 1187.7,188.8C1187.2,188.7 1186.7,188.4 1186.5,188C1186.2,187.6 1186,187 1186,186.6C1186,186.1 1186.2,185.5 1186.5,185.2C1186.7,184.8 1187.2,184.4 1187.7,184.3C1188.1,184.1 1188.7,184.1 1189.1,184.3C1189.6,184.4 1190.1,184.8 1190.3,185.2C1190.6,185.5 1190.8,186.1 1190.8,186.6Z" fill="none" stroke="#f6f6f6" stroke-width="0.8" stroke-linejoin="round"/>
<path d="M1187.1,197.6C1187.1,197.9 1186.9,198.2 1186.7,198.5C1186.5,198.7 1186.1,198.9 1185.8,199C1185.4,199.1 1184.9,199.1 1184.6,199C1184.2,198.9 1183.8,198.7 1183.6,198.5C1183.4,198.2 1183.2,197.9 1183.2,197.6C1183.2,197.3 1183.4,197 1183.6,196.8C1183.8,196.5 1184.2,196.3 1184.6,196.2C1184.9,196.1 1185.4,196.1 1185.8,196.2C1186.1,196.3 1186.5,196.5 1186.7,196.8C1186.9,197 1187.1,197.3 1187.1,197.6Z" fill="none" stroke="#f6f6f6" stroke-width="0.8" stroke-linejoin="round"/>
<path d="M1166.8,201.7C1167.6,205.2 1170,209.3 1169.7,212.2C1169.3,215.1 1166.1,216.7 1164.6,219.1C1163.1,221.5 1162.6,225.6 1160.7,226.7C1158.9,227.7 1155.8,226 1153.5,225.4C1151.2,224.8 1149.2,224.4 1146.9,223.3C1144.6,222.2 1141,221.2 1139.5,218.7C1138.1,216.1 1138.6,211.3 1138,207.9C1137.5,204.4 1135.9,200.9 1136.1,197.9C1136.4,194.8 1137.9,191.8 1139.3,189.5C1140.7,187.2 1142.5,185.2 1144.5,184C1146.4,182.8 1148.9,181.9 1151.2,182.4C1153.4,182.8 1155.6,185 1157.9,186.5C1160.1,188 1163.4,188.8 1164.9,191.4C1166.4,193.9 1166,198.3 1166.8,201.7Z" fill="none" stroke="#f6f6f6" stroke-width="0.8" stroke-linejoin="round"/>
<path d="M1238.7,213.8C1238.7,214.8 1238.2,216 1237.2,216.8C1236.1,217.7 1234.2,218.4 1232.5,218.8C1230.8,219.2 1228.6,219.4 1226.8,219.3C1225,219.3 1223.3,218.8 1221.6,218.4C1219.9,218 1217.7,217.5 1216.7,216.8C1215.7,216 1215.5,214.8 1215.5,213.8C1215.4,212.8 1215.6,211.6 1216.5,210.8C1217.5,210 1219.5,209.4 1221.2,208.9C1222.9,208.4 1225,207.8 1226.8,207.8C1228.7,207.8 1230.6,208.5 1232.3,209C1234,209.5 1236.1,210 1237.2,210.8C1238.2,211.6 1238.7,212.8 1238.7,213.8Z" fill="none" stroke="#f6f6f6" stroke-width="0.8" stroke-linejoin="round"/>
<path d="M1233.9,213.8C1233.9,214.5 1233.2,215.3 1232.4,215.8C1231.6,216.4 1230.4,217.1 1229.1,217.3C1227.8,217.5 1226,217.3 1224.7,217.1C1223.3,216.9 1221.8,216.5 1221,215.9C1220.1,215.4 1219.7,214.5 1219.7,213.8C1219.7,213.1 1220.4,212.4 1221.2,211.8C1222.1,211.2 1223.3,210.6 1224.6,210.4C1225.9,210.2 1227.6,210.3 1228.9,210.5C1230.3,210.8 1231.8,211.2 1232.6,211.7C1233.4,212.2 1233.9,213.1 1233.9,213.8Z" fill="none" stroke="#f6f6f6" stroke-width="0.8" stroke-linejoin="round"/>
<path d="M1230.2,213.8C1230.2,214.1 1229.9,214.5 1229.5,214.8C1229.1,215.1 1228.5,215.3 1227.8,215.4C1227.2,215.5 1226.4,215.5 1225.8,215.4C1225.1,215.3 1224.5,215.1 1224.1,214.8C1223.7,214.5 1223.4,214.1 1223.4,213.8C1223.4,213.5 1223.7,213.1 1224.1,212.8C1224.5,212.6 1225.1,212.3 1225.8,212.2C1226.4,212.1 1227.2,212.1 1227.8,212.2C1228.5,212.3 1229.1,212.6 1229.5,212.8C1229.9,213.1 1230.2,213.5 1230.2,213.8Z" fill="none" stroke="#f6f6f6" stroke-width="0.8" stroke-linejoin="round"/>
<line x1="1192" y1="217" x2="1196" y2="211" stroke="#bdbdbd" stroke-width="1.3"/>
<path d="M1341.2,154.4C1342.4,152.8 1345,151.4 1347.2,150.8C1349.4,150.2 1351.6,150.4 1354.4,150.6C1357.2,150.8 1361.4,151.2 1364,152C1366.6,152.8 1368.4,154.4 1370,155.6C1371.6,156.8 1371.6,159.1 1373.6,159.2C1375.6,159.3 1380.2,155.8 1382,156.2C1383.8,156.6 1383.6,159.9 1384.4,161.6C1385.2,163.3 1386.6,164.2 1386.8,166.4C1387,168.6 1386.4,172.8 1385.6,174.8C1384.8,176.8 1383.6,177.6 1382,178.4C1380.4,179.2 1379,179.5 1376,179.6C1373,179.7 1368,179.2 1364,179C1360,178.8 1355.4,178.9 1352,178.4C1348.6,177.9 1345.5,177.8 1343.6,176C1341.7,174.2 1341.2,170.2 1340.6,167.6C1340,165 1339.9,162.6 1340,160.4C1340.1,158.2 1340,156 1341.2,154.4Z" fill="#f7c6ca" stroke="#f3a3a9" stroke-width="0.9" stroke-linejoin="round"/>
<path d="M1337.6,200C1338.6,197.6 1340.8,195.6 1342.4,192.8C1344,190 1345.6,185.4 1347.2,183.2C1348.8,181 1349.2,180.2 1352,179.6C1354.8,179 1360,179.5 1364,179.6C1368,179.7 1372.4,180.2 1376,180.2C1379.6,180.2 1382.8,179.3 1385.6,179.6C1388.4,179.9 1390.4,181.6 1392.8,182C1395.2,182.4 1397.6,182.2 1400,182C1402.4,181.8 1405.1,180.7 1407.2,180.8C1409.3,180.9 1412,181.4 1412.6,182.6C1413.2,183.8 1412.1,186.3 1410.8,188C1409.5,189.7 1406.6,190.6 1404.8,192.8C1403,195 1401.6,199.2 1400,201.2C1398.4,203.2 1396.8,203.4 1395.2,204.8C1393.6,206.2 1392,208 1390.4,209.6C1388.8,211.2 1388,213 1385.6,214.4C1383.2,215.8 1378.4,216.6 1376,218C1373.6,219.4 1373.2,222.2 1371.2,222.8C1369.2,223.4 1366.6,221.4 1364,221.6C1361.4,221.8 1358,223.3 1355.6,224C1353.2,224.7 1351.6,226.4 1349.6,225.8C1347.6,225.2 1345.4,222.5 1343.6,220.4C1341.8,218.3 1340,215.4 1338.8,213.2C1337.6,211 1336.6,209.4 1336.4,207.2C1336.2,205 1336.6,202.4 1337.6,200Z" fill="#f7c6ca" stroke="#f3a3a9" stroke-width="0.9" stroke-linejoin="round"/>
<path d="M1409.6,212C1409.8,210 1411.4,207.8 1413.2,206C1415,204.2 1418.6,203.2 1420.4,201.2C1422.2,199.2 1422.8,195.6 1424,194C1425.2,192.4 1425.8,191.6 1427.6,191.6C1429.4,191.6 1433,192.8 1434.8,194C1436.6,195.2 1437,197 1438.4,198.8C1439.8,200.6 1442,203 1443.2,204.8C1444.4,206.6 1445.8,207.8 1445.6,209.6C1445.4,211.4 1443.2,213.8 1442,215.6C1440.8,217.4 1440,219.2 1438.4,220.4C1436.8,221.6 1434.8,222.2 1432.4,222.8C1430,223.4 1426.6,224.2 1424,224C1421.4,223.8 1418.8,222.6 1416.8,221.6C1414.8,220.6 1413.2,219.6 1412,218C1410.8,216.4 1409.4,214 1409.6,212Z" fill="#f7c6ca" stroke="#f3a3a9" stroke-width="0.9" stroke-linejoin="round"/>
<path d="M1423.8,163.2C1423.1,164.7 1422.1,166.5 1421.1,167.4C1420.1,168.4 1418.7,168.9 1417.8,169C1416.8,169.2 1415.7,168.9 1415.1,168.1C1414.5,167.3 1414.1,165.8 1414.3,164.3C1414.4,162.9 1415.2,161 1416,159.6C1416.7,158.1 1417.6,156.9 1418.6,155.8C1419.7,154.7 1421.1,153.2 1422,153.1C1423,153 1423.8,154.1 1424.3,155C1424.8,155.9 1425.1,157.2 1425,158.6C1424.9,159.9 1424.4,161.7 1423.8,163.2Z" fill="#f7c6ca" stroke="#f3a3a9" stroke-width="0.9" stroke-linejoin="round"/>
<path d="M1355.3,161.6C1355.4,163.7 1355.3,166.5 1354.7,168.3C1354.1,170.1 1352.7,171.8 1351.5,172.3C1350.4,172.8 1349,172.2 1347.8,171.5C1346.7,170.7 1345.4,169.6 1344.8,167.9C1344.1,166.3 1343.7,163.7 1343.7,161.6C1343.6,159.5 1344,156.9 1344.6,155.1C1345.3,153.3 1346.5,151.4 1347.7,150.9C1348.8,150.3 1350.3,151.2 1351.3,152C1352.4,152.8 1353.4,154.1 1354.1,155.7C1354.7,157.3 1355.1,159.5 1355.3,161.6Z" fill="none" stroke="#fff4f4" stroke-width="0.9" stroke-linejoin="round"/>
<path d="M1352.7,161.6C1352.8,162.9 1352.5,164.7 1352.1,165.7C1351.8,166.7 1351.1,167.3 1350.5,167.6C1349.9,167.9 1349.3,168 1348.7,167.6C1348.1,167.3 1347.5,166.6 1347.1,165.6C1346.7,164.6 1346.5,162.9 1346.5,161.6C1346.5,160.3 1346.8,158.7 1347.1,157.7C1347.5,156.6 1348.1,155.8 1348.7,155.4C1349.3,155 1350,154.9 1350.5,155.3C1351.1,155.6 1351.7,156.6 1352.1,157.7C1352.4,158.7 1352.7,160.3 1352.7,161.6Z" fill="none" stroke="#fff4f4" stroke-width="0.9" stroke-linejoin="round"/>
<path d="M1366.3,170C1366.3,171 1365.8,172.3 1365,173C1364.2,173.7 1362.7,174.1 1361.6,174.2C1360.5,174.2 1359,173.7 1358.2,173C1357.4,172.3 1356.7,171 1356.7,170C1356.8,169 1357.5,167.8 1358.4,167.2C1359.2,166.5 1360.5,166 1361.6,166C1362.7,166 1364.3,166.3 1365.1,166.9C1365.9,167.6 1366.3,169 1366.3,170Z" fill="none" stroke="#fff4f4" stroke-width="0.9" stroke-linejoin="round"/>
<path d="M1376.5,171.8C1376.5,173.1 1375.9,174.6 1375.3,175.5C1374.6,176.4 1373.4,177.1 1372.4,177.1C1371.5,177.2 1370.2,176.4 1369.5,175.5C1368.9,174.6 1368.4,173 1368.4,171.8C1368.4,170.6 1368.8,169 1369.5,168C1370.1,167.1 1371.4,166.2 1372.4,166.2C1373.4,166.2 1374.8,166.9 1375.5,167.9C1376.1,168.8 1376.5,170.5 1376.5,171.8Z" fill="none" stroke="#fff4f4" stroke-width="0.9" stroke-linejoin="round"/>
<path d="M1383.9,168.7C1383.6,170.3 1382.4,172 1380.8,173.1C1379.2,174.2 1376.5,174.6 1374.2,175.4C1371.8,176.2 1369.4,178 1366.7,177.8C1364.1,177.6 1361,175.4 1358.2,174.4C1355.4,173.4 1352.4,173 1349.9,171.8C1347.5,170.6 1344.3,168.7 1343.5,167C1342.8,165.4 1345.1,163.6 1345.6,162C1346.1,160.3 1345.4,158.4 1346.6,157.1C1347.8,155.7 1350.2,154.4 1352.8,154C1355.3,153.5 1358.8,154.3 1361.7,154.5C1364.6,154.8 1367.4,154.7 1370.2,155.3C1373.1,155.9 1376.6,157 1378.7,158.4C1380.7,159.7 1381.9,161.8 1382.8,163.5C1383.7,165.3 1384.3,167.1 1383.9,168.7Z" fill="none" stroke="#fff4f4" stroke-width="0.9" stroke-linejoin="round"/>
<path d="M1365.4,194.8C1366,196 1366.1,197.9 1365.6,199.4C1365.2,200.9 1364.1,202.6 1362.7,204C1361.4,205.3 1359.4,206.7 1357.5,207.4C1355.6,208.1 1353.3,208.1 1351.4,208C1349.5,207.9 1347,207.7 1345.9,206.7C1344.8,205.8 1345.1,203.8 1344.7,202.3C1344.3,200.9 1343.6,199.7 1343.8,198.2C1344,196.8 1344.6,194.7 1345.9,193.5C1347.1,192.2 1349.5,191.4 1351.4,190.7C1353.4,190 1355.8,189.1 1357.5,189.3C1359.2,189.5 1360.3,191.1 1361.6,192C1363,193 1364.7,193.6 1365.4,194.8Z" fill="none" stroke="#fff4f4" stroke-width="0.9" stroke-linejoin="round"/>
<path d="M1361,196.4C1361.3,197.3 1361.2,198.6 1360.7,199.5C1360.2,200.5 1358.9,201.5 1357.8,202.2C1356.7,202.8 1355.2,203.3 1354,203.4C1352.8,203.4 1351.7,203.1 1350.7,202.7C1349.7,202.3 1348.4,201.9 1348,201.1C1347.6,200.4 1348,199.1 1348.5,198.1C1349,197.1 1349.8,195.9 1350.8,195.3C1351.9,194.6 1353.5,194.3 1354.8,194.2C1356.1,194 1357.7,193.8 1358.7,194.2C1359.7,194.6 1360.6,195.5 1361,196.4Z" fill="none" stroke="#fff4f4" stroke-width="0.9" stroke-linejoin="round"/>
<path d="M1391.3,193.4C1391.3,194.4 1390.5,195.5 1389.7,196.5C1389,197.5 1388.2,198.8 1386.9,199.3C1385.7,199.8 1383.6,199.5 1382,199.4C1380.4,199.4 1378.5,199.6 1377.2,199.2C1375.8,198.7 1374.6,197.6 1373.9,196.6C1373.3,195.7 1373.3,194.5 1373.3,193.4C1373.2,192.3 1372.9,191 1373.7,190.1C1374.4,189.2 1376.3,188.8 1377.6,188.2C1379,187.7 1380.5,186.9 1382,186.9C1383.5,186.9 1385.1,187.6 1386.4,188.2C1387.7,188.8 1388.8,189.5 1389.6,190.4C1390.5,191.2 1391.2,192.4 1391.3,193.4Z" fill="none" stroke="#fff4f4" stroke-width="0.9" stroke-linejoin="round"/>
<path d="M1387.3,194C1387.3,194.7 1387.2,195.6 1386.7,196.1C1386.1,196.6 1385,196.9 1384,197.1C1383.1,197.3 1381.9,197.5 1381.1,197.3C1380.2,197.1 1379.4,196.4 1378.9,195.9C1378.4,195.4 1378,194.7 1377.9,194C1377.9,193.3 1378,192.4 1378.5,191.9C1379.1,191.4 1380.2,191.1 1381.2,190.9C1382.1,190.7 1383.2,190.6 1384.1,190.8C1385,191 1385.9,191.5 1386.5,192C1387,192.6 1387.2,193.3 1387.3,194Z" fill="none" stroke="#fff4f4" stroke-width="0.9" stroke-linejoin="round"/>
<path d="M1384.8,194C1384.8,194.3 1384.6,194.7 1384.4,195C1384.1,195.3 1383.7,195.5 1383.3,195.6C1382.9,195.7 1382.3,195.7 1381.9,195.6C1381.5,195.5 1381.1,195.3 1380.9,195C1380.6,194.7 1380.4,194.3 1380.4,194C1380.4,193.7 1380.6,193.3 1380.9,193C1381.1,192.8 1381.5,192.5 1381.9,192.4C1382.3,192.3 1382.9,192.3 1383.3,192.4C1383.7,192.5 1384.1,192.8 1384.4,193C1384.6,193.3 1384.8,193.7 1384.8,194Z" fill="none" stroke="#fff4f4" stroke-width="0.9" stroke-linejoin="round"/>
<path d="M1351.6,211.4C1351.6,212.3 1351.4,213.4 1351.1,214.1C1350.8,214.8 1350.3,215.5 1349.8,215.7C1349.3,216 1348.7,216 1348.2,215.7C1347.7,215.5 1347.2,214.8 1346.9,214.1C1346.6,213.4 1346.4,212.3 1346.4,211.4C1346.4,210.5 1346.6,209.4 1346.9,208.7C1347.2,208 1347.7,207.3 1348.2,207.1C1348.7,206.8 1349.3,206.8 1349.8,207.1C1350.3,207.3 1350.8,208 1351.1,208.7C1351.4,209.4 1351.6,210.5 1351.6,211.4Z" fill="none" stroke="#fff4f4" stroke-width="0.9" stroke-linejoin="round"/>
<path d="M1395.2,192.9C1396.2,194.9 1395.9,197.6 1395.5,200.1C1395.1,202.5 1394.9,205.7 1392.8,207.9C1390.8,210.1 1386.4,211.7 1383.2,213.2C1380,214.8 1376.9,216.4 1373.5,217.4C1370.1,218.4 1366,219.3 1362.8,219.1C1359.6,218.9 1357,217.2 1354.2,216.3C1351.4,215.3 1348,214.8 1345.9,213.3C1343.8,211.8 1342.3,209.6 1341.5,207.3C1340.6,205.1 1339.7,202.3 1340.8,199.9C1342,197.6 1346.1,195.5 1348.5,193.4C1350.8,191.2 1352.2,188.8 1354.9,187.2C1357.5,185.6 1361.2,185.2 1364.5,184C1367.9,182.8 1371.7,180.4 1375.1,180C1378.5,179.7 1382.5,180.7 1385,182C1387.4,183.3 1387.9,186.1 1389.6,188C1391.3,189.8 1394.2,190.9 1395.2,192.9Z" fill="none" stroke="#fff4f4" stroke-width="0.9" stroke-linejoin="round"/>
<path d="M1439.3,206.3C1439.9,207.9 1440.3,209.7 1439.8,211.4C1439.3,213.1 1438,215.3 1436.4,216.5C1434.7,217.8 1432.1,218.6 1430.1,219.2C1428,219.7 1426,219.9 1424,219.9C1422,219.9 1419.6,219.8 1418.1,219C1416.7,218.2 1415.9,216.6 1415.2,215.1C1414.4,213.6 1413.4,211.8 1413.9,210.2C1414.3,208.5 1416,206.5 1417.6,205C1419.2,203.6 1421.5,202.3 1423.7,201.6C1425.8,200.9 1428.3,200.5 1430.4,200.6C1432.5,200.7 1434.9,201.2 1436.4,202.1C1437.9,203.1 1438.8,204.8 1439.3,206.3Z" fill="none" stroke="#fff4f4" stroke-width="0.9" stroke-linejoin="round"/>
<path d="M1435.1,208.5C1435.5,209.4 1436,210.6 1435.7,211.7C1435.4,212.8 1434.4,214.1 1433.3,215.1C1432.2,216.1 1430.7,217.3 1429.3,217.7C1427.9,218.1 1426.1,217.8 1424.8,217.6C1423.4,217.4 1422,217.3 1421.1,216.7C1420.1,216.1 1419.5,215.2 1419.1,214.3C1418.8,213.3 1418.8,212.2 1419.1,211.2C1419.3,210.1 1419.7,208.6 1420.6,207.7C1421.6,206.8 1423.6,206.5 1425,206C1426.5,205.5 1428.1,204.7 1429.4,204.7C1430.7,204.8 1432,205.5 1432.9,206.1C1433.8,206.8 1434.6,207.6 1435.1,208.5Z" fill="none" stroke="#fff4f4" stroke-width="0.9" stroke-linejoin="round"/>
<path d="M1433,206.3C1432.5,207.7 1432,209.4 1431.1,210.3C1430.2,211.3 1428.9,211.8 1427.8,212C1426.8,212.1 1425.4,212 1424.7,211.3C1424.1,210.5 1424,208.7 1423.9,207.3C1423.9,206 1424.1,204.6 1424.5,203.2C1424.9,201.9 1425.6,200.2 1426.5,199.3C1427.4,198.3 1428.8,197.7 1429.8,197.6C1430.8,197.6 1431.7,198.4 1432.4,199.1C1433.1,199.8 1434,200.9 1434.1,202.1C1434.2,203.3 1433.5,204.9 1433,206.3Z" fill="none" stroke="#fff4f4" stroke-width="0.9" stroke-linejoin="round"/>
<path d="M1405.6,215.6C1405.6,216 1405.4,216.4 1405.1,216.7C1404.7,217 1404.1,217.2 1403.6,217.3C1403,217.4 1402.3,217.4 1401.7,217.3C1401.2,217.2 1400.6,217 1400.2,216.7C1399.9,216.4 1399.6,216 1399.6,215.6C1399.6,215.3 1399.9,214.8 1400.2,214.5C1400.6,214.3 1401.2,214 1401.7,213.9C1402.3,213.8 1403,213.8 1403.6,213.9C1404.1,214 1404.7,214.3 1405.1,214.5C1405.4,214.8 1405.6,215.3 1405.6,215.6Z" fill="none" stroke="#f19aa0" stroke-width="0.9" stroke-linejoin="round"/>
<path d="M1207,373.2C1207.4,371 1209.3,367.8 1211.2,366C1213.1,364.2 1216.2,362.4 1218.4,362.4C1220.6,362.4 1222.8,364.4 1224.4,366C1226,367.6 1228,370 1228,372C1228,374 1225.6,376.1 1224.4,378C1223.2,379.9 1222.4,382.4 1220.8,383.4C1219.2,384.4 1216.8,384.7 1214.8,384C1212.8,383.3 1210.1,381 1208.8,379.2C1207.5,377.4 1206.6,375.4 1207,373.2Z" fill="#d2d2d2" stroke="#2a2a2a" stroke-width="1" stroke-linejoin="round"/>
<path d="M1171.6,417.6C1172,415.9 1174.2,414 1176.4,412.8C1178.6,411.6 1182.7,410.3 1184.8,410.4C1186.9,410.5 1188.8,412 1189,413.4C1189.2,414.8 1187.3,417.1 1186,418.8C1184.7,420.5 1183.2,422.9 1181.2,423.6C1179.2,424.3 1175.6,424 1174,423C1172.4,422 1171.2,419.3 1171.6,417.6Z" fill="#d6d6d6" stroke="#2a2a2a" stroke-width="1" stroke-linejoin="round"/>
<path d="M1138,374.4C1138.6,371.6 1140.8,368.2 1142.8,366C1144.8,363.8 1148,362.3 1150,361.2C1152,360.1 1153,359.2 1154.8,359.4C1156.6,359.6 1159,361.9 1160.8,362.4C1162.6,362.9 1164,361.8 1165.6,362.4C1167.2,363 1169.2,364.4 1170.4,366C1171.6,367.6 1171.6,370.8 1172.8,372C1174,373.2 1176,372.6 1177.6,373.2C1179.2,373.8 1180.8,375.4 1182.4,375.6C1184,375.8 1185.8,375 1187.2,374.4C1188.6,373.8 1189.7,371.8 1190.8,372C1191.9,372.2 1193.4,374 1193.8,375.6C1194.2,377.2 1193.3,379.4 1193.2,381.6C1193.1,383.8 1194.2,387.2 1193.2,388.8C1192.2,390.4 1190.4,390.8 1187.2,391.2C1184,391.6 1177.2,391.4 1174,391.2C1170.8,391 1169.6,390.5 1168,390C1166.4,389.5 1165.8,388.2 1164.4,388.2C1163,388.2 1161.8,389.5 1159.6,390C1157.4,390.5 1153.8,391.4 1151.2,391.2C1148.6,391 1146,390.2 1144,388.8C1142,387.4 1140.2,385.2 1139.2,382.8C1138.2,380.4 1137.4,377.2 1138,374.4Z" fill="#909090" stroke-linejoin="round"/>
<path d="M1142.8,396C1143.4,394.4 1144.2,393.2 1146.4,392.4C1148.6,391.6 1152.4,391.3 1156,391.2C1159.6,391.1 1164,391.6 1168,391.8C1172,392 1176.4,392.1 1180,392.4C1183.6,392.7 1187.3,392.8 1189.6,393.6C1191.9,394.4 1193.4,395.6 1193.8,397.2C1194.2,398.8 1193.5,401.8 1192,403.2C1190.5,404.6 1187.2,405.2 1184.8,405.6C1182.4,406 1180,405 1177.6,405.6C1175.2,406.2 1172.6,407.6 1170.4,409.2C1168.2,410.8 1166.2,413.4 1164.4,415.2C1162.6,417 1160.8,418 1159.6,420C1158.4,422 1158,425 1157.2,427.2C1156.4,429.4 1156.2,432 1154.8,433.2C1153.4,434.4 1150.8,434.8 1148.8,434.4C1146.8,434 1144.2,432.4 1142.8,430.8C1141.4,429.2 1140.4,427 1140.4,424.8C1140.4,422.6 1142.2,420.2 1142.8,417.6C1143.4,415 1144,411.8 1144,409.2C1144,406.6 1143,404.2 1142.8,402C1142.6,399.8 1142.2,397.6 1142.8,396Z" fill="#8a8a8a" stroke-linejoin="round"/>
<path d="M1199.2,424.8C1199,422.2 1200.6,419 1201.6,416.4C1202.6,413.8 1203.6,411.6 1205.2,409.2C1206.8,406.8 1209,403.8 1211.2,402C1213.4,400.2 1215.6,398.9 1218.4,398.4C1221.2,397.9 1225,398.6 1228,399C1231,399.4 1234.2,399.7 1236.4,400.8C1238.6,401.9 1240,403.4 1241.2,405.6C1242.4,407.8 1243.6,411.2 1243.6,414C1243.6,416.8 1242.6,419.6 1241.2,422.4C1239.8,425.2 1237.4,428.3 1235.2,430.8C1233,433.3 1230.8,435.8 1228,437.4C1225.2,439 1221.4,440.3 1218.4,440.4C1215.4,440.5 1212.6,439.4 1210,438C1207.4,436.6 1204.6,434.2 1202.8,432C1201,429.8 1199.4,427.4 1199.2,424.8Z" fill="#a0a0a0" stroke-linejoin="round"/>
<ellipse cx="1156" cy="399.01" rx="8.4" ry="4.8" fill="#4a4a4a" filter="url(#bl2)" opacity="0.8"/>
<ellipse cx="1174" cy="396.01" rx="4.8" ry="3.36" fill="#555" filter="url(#bl2)" opacity="0.7"/>
<ellipse cx="1187.21" cy="385.8" rx="4.2" ry="3.6" fill="#555" filter="url(#bl2)" opacity="0.7"/>
<ellipse cx="1151.2" cy="417.61" rx="4.8" ry="6" fill="#666" filter="url(#bl2)" opacity="0.6"/>
<ellipse cx="1220.81" cy="422.41" rx="6" ry="6.6" fill="#5a5a5a" filter="url(#bl2)" opacity="0.8"/>
<ellipse cx="1168" cy="378" rx="6" ry="7.2" fill="#666" filter="url(#bl2)" opacity="0.6"/>
<ellipse cx="1186.01" cy="399.61" rx="4.8" ry="3.6" fill="#555" filter="url(#bl2)" opacity="0.6"/>
<ellipse cx="1148.2" cy="425.41" rx="3" ry="3" fill="#777" filter="url(#bl2)" opacity="0.6"/>
<ellipse cx="1148.8" cy="376.2" rx="3.36" ry="3.6" fill="#cfcfcf" filter="url(#bl2)" opacity="0.9"/>
<path d="M1138,374.4C1138.6,371.6 1140.8,368.2 1142.8,366C1144.8,363.8 1148,362.3 1150,361.2C1152,360.1 1153,359.2 1154.8,359.4C1156.6,359.6 1159,361.9 1160.8,362.4C1162.6,362.9 1164,361.8 1165.6,362.4C1167.2,363 1169.2,364.4 1170.4,366C1171.6,367.6 1171.6,370.8 1172.8,372C1174,373.2 1176,372.6 1177.6,373.2C1179.2,373.8 1180.8,375.4 1182.4,375.6C1184,375.8 1185.8,375 1187.2,374.4C1188.6,373.8 1189.7,371.8 1190.8,372C1191.9,372.2 1193.4,374 1193.8,375.6C1194.2,377.2 1193.3,379.4 1193.2,381.6C1193.1,383.8 1194.2,387.2 1193.2,388.8C1192.2,390.4 1190.4,390.8 1187.2,391.2C1184,391.6 1177.2,391.4 1174,391.2C1170.8,391 1169.6,390.5 1168,390C1166.4,389.5 1165.8,388.2 1164.4,388.2C1163,388.2 1161.8,389.5 1159.6,390C1157.4,390.5 1153.8,391.4 1151.2,391.2C1148.6,391 1146,390.2 1144,388.8C1142,387.4 1140.2,385.2 1139.2,382.8C1138.2,380.4 1137.4,377.2 1138,374.4Z" fill="none" stroke="#d0d0d0" stroke-width="2.4" opacity="0.9"/>
<path d="M1138,374.4C1138.6,371.6 1140.8,368.2 1142.8,366C1144.8,363.8 1148,362.3 1150,361.2C1152,360.1 1153,359.2 1154.8,359.4C1156.6,359.6 1159,361.9 1160.8,362.4C1162.6,362.9 1164,361.8 1165.6,362.4C1167.2,363 1169.2,364.4 1170.4,366C1171.6,367.6 1171.6,370.8 1172.8,372C1174,373.2 1176,372.6 1177.6,373.2C1179.2,373.8 1180.8,375.4 1182.4,375.6C1184,375.8 1185.8,375 1187.2,374.4C1188.6,373.8 1189.7,371.8 1190.8,372C1191.9,372.2 1193.4,374 1193.8,375.6C1194.2,377.2 1193.3,379.4 1193.2,381.6C1193.1,383.8 1194.2,387.2 1193.2,388.8C1192.2,390.4 1190.4,390.8 1187.2,391.2C1184,391.6 1177.2,391.4 1174,391.2C1170.8,391 1169.6,390.5 1168,390C1166.4,389.5 1165.8,388.2 1164.4,388.2C1163,388.2 1161.8,389.5 1159.6,390C1157.4,390.5 1153.8,391.4 1151.2,391.2C1148.6,391 1146,390.2 1144,388.8C1142,387.4 1140.2,385.2 1139.2,382.8C1138.2,380.4 1137.4,377.2 1138,374.4Z" fill="none" stroke="#333" stroke-width="0.9" stroke-dasharray="1.1 0.7"/>
<path d="M1142.8,396C1143.4,394.4 1144.2,393.2 1146.4,392.4C1148.6,391.6 1152.4,391.3 1156,391.2C1159.6,391.1 1164,391.6 1168,391.8C1172,392 1176.4,392.1 1180,392.4C1183.6,392.7 1187.3,392.8 1189.6,393.6C1191.9,394.4 1193.4,395.6 1193.8,397.2C1194.2,398.8 1193.5,401.8 1192,403.2C1190.5,404.6 1187.2,405.2 1184.8,405.6C1182.4,406 1180,405 1177.6,405.6C1175.2,406.2 1172.6,407.6 1170.4,409.2C1168.2,410.8 1166.2,413.4 1164.4,415.2C1162.6,417 1160.8,418 1159.6,420C1158.4,422 1158,425 1157.2,427.2C1156.4,429.4 1156.2,432 1154.8,433.2C1153.4,434.4 1150.8,434.8 1148.8,434.4C1146.8,434 1144.2,432.4 1142.8,430.8C1141.4,429.2 1140.4,427 1140.4,424.8C1140.4,422.6 1142.2,420.2 1142.8,417.6C1143.4,415 1144,411.8 1144,409.2C1144,406.6 1143,404.2 1142.8,402C1142.6,399.8 1142.2,397.6 1142.8,396Z" fill="none" stroke="#d0d0d0" stroke-width="2.4" opacity="0.9"/>
<path d="M1142.8,396C1143.4,394.4 1144.2,393.2 1146.4,392.4C1148.6,391.6 1152.4,391.3 1156,391.2C1159.6,391.1 1164,391.6 1168,391.8C1172,392 1176.4,392.1 1180,392.4C1183.6,392.7 1187.3,392.8 1189.6,393.6C1191.9,394.4 1193.4,395.6 1193.8,397.2C1194.2,398.8 1193.5,401.8 1192,403.2C1190.5,404.6 1187.2,405.2 1184.8,405.6C1182.4,406 1180,405 1177.6,405.6C1175.2,406.2 1172.6,407.6 1170.4,409.2C1168.2,410.8 1166.2,413.4 1164.4,415.2C1162.6,417 1160.8,418 1159.6,420C1158.4,422 1158,425 1157.2,427.2C1156.4,429.4 1156.2,432 1154.8,433.2C1153.4,434.4 1150.8,434.8 1148.8,434.4C1146.8,434 1144.2,432.4 1142.8,430.8C1141.4,429.2 1140.4,427 1140.4,424.8C1140.4,422.6 1142.2,420.2 1142.8,417.6C1143.4,415 1144,411.8 1144,409.2C1144,406.6 1143,404.2 1142.8,402C1142.6,399.8 1142.2,397.6 1142.8,396Z" fill="none" stroke="#333" stroke-width="0.9" stroke-dasharray="1.1 0.7"/>
<path d="M1199.2,424.8C1199,422.2 1200.6,419 1201.6,416.4C1202.6,413.8 1203.6,411.6 1205.2,409.2C1206.8,406.8 1209,403.8 1211.2,402C1213.4,400.2 1215.6,398.9 1218.4,398.4C1221.2,397.9 1225,398.6 1228,399C1231,399.4 1234.2,399.7 1236.4,400.8C1238.6,401.9 1240,403.4 1241.2,405.6C1242.4,407.8 1243.6,411.2 1243.6,414C1243.6,416.8 1242.6,419.6 1241.2,422.4C1239.8,425.2 1237.4,428.3 1235.2,430.8C1233,433.3 1230.8,435.8 1228,437.4C1225.2,439 1221.4,440.3 1218.4,440.4C1215.4,440.5 1212.6,439.4 1210,438C1207.4,436.6 1204.6,434.2 1202.8,432C1201,429.8 1199.4,427.4 1199.2,424.8Z" fill="none" stroke="#d0d0d0" stroke-width="2.4" opacity="0.9"/>
<path d="M1199.2,424.8C1199,422.2 1200.6,419 1201.6,416.4C1202.6,413.8 1203.6,411.6 1205.2,409.2C1206.8,406.8 1209,403.8 1211.2,402C1213.4,400.2 1215.6,398.9 1218.4,398.4C1221.2,397.9 1225,398.6 1228,399C1231,399.4 1234.2,399.7 1236.4,400.8C1238.6,401.9 1240,403.4 1241.2,405.6C1242.4,407.8 1243.6,411.2 1243.6,414C1243.6,416.8 1242.6,419.6 1241.2,422.4C1239.8,425.2 1237.4,428.3 1235.2,430.8C1233,433.3 1230.8,435.8 1228,437.4C1225.2,439 1221.4,440.3 1218.4,440.4C1215.4,440.5 1212.6,439.4 1210,438C1207.4,436.6 1204.6,434.2 1202.8,432C1201,429.8 1199.4,427.4 1199.2,424.8Z" fill="none" stroke="#333" stroke-width="0.9" stroke-dasharray="1.1 0.7"/>
<path d="M1156.7,376.2C1156.8,378.1 1157.1,380.5 1156.5,382.2C1155.9,383.9 1154.5,385.7 1153.2,386.5C1151.9,387.3 1150.2,387.2 1148.8,387.2C1147.4,387.1 1145.8,387 1144.6,386.1C1143.4,385.2 1142.3,383.5 1141.6,381.9C1140.9,380.2 1140.3,378.1 1140.2,376.2C1140.1,374.3 1140.4,371.8 1141.2,370.2C1142,368.7 1143.6,367.7 1144.9,367C1146.1,366.2 1147.4,365.9 1148.8,365.7C1150.2,365.5 1152,365 1153.2,365.8C1154.4,366.6 1155.4,368.8 1156,370.6C1156.6,372.3 1156.6,374.3 1156.7,376.2Z" fill="none" stroke="#ffffff" stroke-width="2.2" stroke-linejoin="round"/>
<path d="M1156.7,376.2C1156.8,378.1 1157.1,380.5 1156.5,382.2C1155.9,383.9 1154.5,385.7 1153.2,386.5C1151.9,387.3 1150.2,387.2 1148.8,387.2C1147.4,387.1 1145.8,387 1144.6,386.1C1143.4,385.2 1142.3,383.5 1141.6,381.9C1140.9,380.2 1140.3,378.1 1140.2,376.2C1140.1,374.3 1140.4,371.8 1141.2,370.2C1142,368.7 1143.6,367.7 1144.9,367C1146.1,366.2 1147.4,365.9 1148.8,365.7C1150.2,365.5 1152,365 1153.2,365.8C1154.4,366.6 1155.4,368.8 1156,370.6C1156.6,372.3 1156.6,374.3 1156.7,376.2Z" fill="none" stroke="#222" stroke-width="0.8" stroke-linejoin="round"/>
<path d="M1154.1,376.2C1154.1,377.5 1153.7,379.3 1153.1,380.3C1152.4,381.3 1151.3,381.9 1150.3,382.2C1149.3,382.5 1148.3,382.6 1147.3,382.2C1146.4,381.9 1145.2,381.2 1144.6,380.2C1144,379.2 1143.6,377.5 1143.6,376.2C1143.7,374.9 1144.1,373.3 1144.7,372.3C1145.3,371.2 1146.3,370.4 1147.3,370C1148.2,369.6 1149.4,369.5 1150.4,369.9C1151.3,370.2 1152.3,371.2 1152.9,372.3C1153.5,373.3 1154.1,374.9 1154.1,376.2Z" fill="none" stroke="#ffffff" stroke-width="2.2" stroke-linejoin="round"/>
<path d="M1154.1,376.2C1154.1,377.5 1153.7,379.3 1153.1,380.3C1152.4,381.3 1151.3,381.9 1150.3,382.2C1149.3,382.5 1148.3,382.6 1147.3,382.2C1146.4,381.9 1145.2,381.2 1144.6,380.2C1144,379.2 1143.6,377.5 1143.6,376.2C1143.7,374.9 1144.1,373.3 1144.7,372.3C1145.3,371.2 1146.3,370.4 1147.3,370C1148.2,369.6 1149.4,369.5 1150.4,369.9C1151.3,370.2 1152.3,371.2 1152.9,372.3C1153.5,373.3 1154.1,374.9 1154.1,376.2Z" fill="none" stroke="#222" stroke-width="0.8" stroke-linejoin="round"/>
<path d="M1173,397.7C1173.1,398.8 1173.7,399.9 1173,400.9C1172.4,401.9 1170.5,402.9 1169,403.8C1167.4,404.7 1165.8,405.7 1163.9,406.3C1161.9,406.8 1159.3,407.3 1157.3,407.2C1155.4,407.1 1153.8,406.3 1152.3,405.7C1150.9,405.2 1150,404.6 1148.6,403.9C1147.3,403.3 1144.4,402.7 1144.2,401.8C1143.9,400.8 1146,399.4 1147.1,398.4C1148.1,397.4 1149.2,396.6 1150.5,395.6C1151.9,394.5 1153.1,392.9 1155,392.3C1156.8,391.8 1159.6,392.3 1161.8,392.3C1164,392.2 1166.7,391.8 1168.4,392.2C1170.1,392.6 1171.2,393.8 1171.9,394.7C1172.7,395.6 1172.8,396.7 1173,397.7Z" fill="none" stroke="#ffffff" stroke-width="2.2" stroke-linejoin="round"/>
<path d="M1173,397.7C1173.1,398.8 1173.7,399.9 1173,400.9C1172.4,401.9 1170.5,402.9 1169,403.8C1167.4,404.7 1165.8,405.7 1163.9,406.3C1161.9,406.8 1159.3,407.3 1157.3,407.2C1155.4,407.1 1153.8,406.3 1152.3,405.7C1150.9,405.2 1150,404.6 1148.6,403.9C1147.3,403.3 1144.4,402.7 1144.2,401.8C1143.9,400.8 1146,399.4 1147.1,398.4C1148.1,397.4 1149.2,396.6 1150.5,395.6C1151.9,394.5 1153.1,392.9 1155,392.3C1156.8,391.8 1159.6,392.3 1161.8,392.3C1164,392.2 1166.7,391.8 1168.4,392.2C1170.1,392.6 1171.2,393.8 1171.9,394.7C1172.7,395.6 1172.8,396.7 1173,397.7Z" fill="none" stroke="#222" stroke-width="0.8" stroke-linejoin="round"/>
<path d="M1152.8,425.4C1152.8,426.3 1152.4,427.5 1151.9,428.2C1151.4,429 1150.5,429.7 1149.6,430C1148.8,430.3 1147.6,430.3 1146.8,430C1145.9,429.7 1145,429 1144.5,428.2C1144,427.5 1143.6,426.3 1143.6,425.4C1143.6,424.5 1144,423.3 1144.5,422.6C1145,421.8 1145.9,421.1 1146.8,420.8C1147.6,420.6 1148.8,420.6 1149.6,420.8C1150.5,421.1 1151.4,421.8 1151.9,422.6C1152.4,423.3 1152.8,424.5 1152.8,425.4Z" fill="none" stroke="#ffffff" stroke-width="2.2" stroke-linejoin="round"/>
<path d="M1152.8,425.4C1152.8,426.3 1152.4,427.5 1151.9,428.2C1151.4,429 1150.5,429.7 1149.6,430C1148.8,430.3 1147.6,430.3 1146.8,430C1145.9,429.7 1145,429 1144.5,428.2C1144,427.5 1143.6,426.3 1143.6,425.4C1143.6,424.5 1144,423.3 1144.5,422.6C1145,421.8 1145.9,421.1 1146.8,420.8C1147.6,420.6 1148.8,420.6 1149.6,420.8C1150.5,421.1 1151.4,421.8 1151.9,422.6C1152.4,423.3 1152.8,424.5 1152.8,425.4Z" fill="none" stroke="#222" stroke-width="0.8" stroke-linejoin="round"/>
<path d="M1236.1,409.3C1237.5,411.2 1238.1,413.8 1238.4,416.2C1238.7,418.6 1238.8,421.5 1238,423.9C1237.1,426.3 1235.2,428.7 1233.3,430.6C1231.3,432.5 1228.9,434 1226.4,435.2C1224,436.3 1221.2,437.2 1218.6,437.5C1215.9,437.7 1212.7,437.6 1210.4,436.6C1208.1,435.5 1206,433.4 1204.6,431.3C1203.2,429.3 1202.1,426.6 1202,424.1C1201.9,421.5 1203,418.7 1203.9,416.2C1204.9,413.7 1206,411 1207.9,409C1209.7,407 1212.5,405.5 1215,404.5C1217.6,403.5 1220.4,402.9 1223,403C1225.6,403 1228.2,403.7 1230.4,404.7C1232.6,405.8 1234.8,407.4 1236.1,409.3Z" fill="none" stroke="#ffffff" stroke-width="2.2" stroke-linejoin="round"/>
<path d="M1236.1,409.3C1237.5,411.2 1238.1,413.8 1238.4,416.2C1238.7,418.6 1238.8,421.5 1238,423.9C1237.1,426.3 1235.2,428.7 1233.3,430.6C1231.3,432.5 1228.9,434 1226.4,435.2C1224,436.3 1221.2,437.2 1218.6,437.5C1215.9,437.7 1212.7,437.6 1210.4,436.6C1208.1,435.5 1206,433.4 1204.6,431.3C1203.2,429.3 1202.1,426.6 1202,424.1C1201.9,421.5 1203,418.7 1203.9,416.2C1204.9,413.7 1206,411 1207.9,409C1209.7,407 1212.5,405.5 1215,404.5C1217.6,403.5 1220.4,402.9 1223,403C1225.6,403 1228.2,403.7 1230.4,404.7C1232.6,405.8 1234.8,407.4 1236.1,409.3Z" fill="none" stroke="#222" stroke-width="0.8" stroke-linejoin="round"/>
<path d="M1233.2,411.9C1234.3,413.3 1235,415.2 1235.2,417C1235.4,418.9 1235,421.1 1234.2,423C1233.5,424.9 1232.2,427.1 1230.7,428.6C1229.1,430.2 1226.9,431.4 1224.9,432.4C1222.8,433.3 1220.4,434.3 1218.4,434.2C1216.5,434.2 1214.7,432.9 1213.1,432.1C1211.5,431.2 1209.7,430.5 1208.6,429.2C1207.4,427.9 1206.3,426.1 1206.1,424.2C1206,422.4 1206.8,420.2 1207.6,418.3C1208.4,416.3 1209.4,414.1 1211,412.6C1212.6,411.2 1215,410.4 1217,409.6C1219,408.7 1221.1,407.7 1223.1,407.6C1225,407.5 1227,408.2 1228.7,408.9C1230.4,409.6 1232.2,410.5 1233.2,411.9Z" fill="none" stroke="#ffffff" stroke-width="2.2" stroke-linejoin="round"/>
<path d="M1233.2,411.9C1234.3,413.3 1235,415.2 1235.2,417C1235.4,418.9 1235,421.1 1234.2,423C1233.5,424.9 1232.2,427.1 1230.7,428.6C1229.1,430.2 1226.9,431.4 1224.9,432.4C1222.8,433.3 1220.4,434.3 1218.4,434.2C1216.5,434.2 1214.7,432.9 1213.1,432.1C1211.5,431.2 1209.7,430.5 1208.6,429.2C1207.4,427.9 1206.3,426.1 1206.1,424.2C1206,422.4 1206.8,420.2 1207.6,418.3C1208.4,416.3 1209.4,414.1 1211,412.6C1212.6,411.2 1215,410.4 1217,409.6C1219,408.7 1221.1,407.7 1223.1,407.6C1225,407.5 1227,408.2 1228.7,408.9C1230.4,409.6 1232.2,410.5 1233.2,411.9Z" fill="none" stroke="#222" stroke-width="0.8" stroke-linejoin="round"/>
<path d="M1229.9,414.8C1230.7,415.9 1231.2,417.5 1231,419C1230.9,420.4 1230.1,422.2 1229.1,423.6C1228.1,425.1 1226.6,426.5 1225.2,427.4C1223.7,428.4 1221.9,429 1220.3,429.4C1218.6,429.8 1216.7,430.2 1215.3,429.9C1213.9,429.6 1212.8,428.5 1212,427.4C1211.2,426.3 1210.5,424.9 1210.7,423.4C1210.8,422 1211.7,420.3 1212.6,418.8C1213.5,417.3 1214.8,415.6 1216.2,414.6C1217.7,413.6 1219.6,413.1 1221.3,412.8C1223,412.4 1225,412 1226.4,412.4C1227.8,412.7 1229.1,413.7 1229.9,414.8Z" fill="none" stroke="#ffffff" stroke-width="2.2" stroke-linejoin="round"/>
<path d="M1229.9,414.8C1230.7,415.9 1231.2,417.5 1231,419C1230.9,420.4 1230.1,422.2 1229.1,423.6C1228.1,425.1 1226.6,426.5 1225.2,427.4C1223.7,428.4 1221.9,429 1220.3,429.4C1218.6,429.8 1216.7,430.2 1215.3,429.9C1213.9,429.6 1212.8,428.5 1212,427.4C1211.2,426.3 1210.5,424.9 1210.7,423.4C1210.8,422 1211.7,420.3 1212.6,418.8C1213.5,417.3 1214.8,415.6 1216.2,414.6C1217.7,413.6 1219.6,413.1 1221.3,412.8C1223,412.4 1225,412 1226.4,412.4C1227.8,412.7 1229.1,413.7 1229.9,414.8Z" fill="none" stroke="#222" stroke-width="0.8" stroke-linejoin="round"/>
<path d="M1169.2,391.2C1169.2,391.8 1168.6,392.5 1167.8,392.9C1167,393.3 1165.5,393.6 1164.4,393.6C1163.3,393.6 1161.8,393.3 1161,392.9C1160.2,392.5 1159.6,391.8 1159.6,391.2C1159.6,390.6 1160.2,389.9 1161,389.5C1161.8,389.1 1163.3,388.8 1164.4,388.8C1165.5,388.8 1167,389.1 1167.8,389.5C1168.6,389.9 1169.2,390.6 1169.2,391.2Z" fill="none" stroke="#ffffff" stroke-width="2.2" stroke-linejoin="round"/>
<path d="M1169.2,391.2C1169.2,391.8 1168.6,392.5 1167.8,392.9C1167,393.3 1165.5,393.6 1164.4,393.6C1163.3,393.6 1161.8,393.3 1161,392.9C1160.2,392.5 1159.6,391.8 1159.6,391.2C1159.6,390.6 1160.2,389.9 1161,389.5C1161.8,389.1 1163.3,388.8 1164.4,388.8C1165.5,388.8 1167,389.1 1167.8,389.5C1168.6,389.9 1169.2,390.6 1169.2,391.2Z" fill="none" stroke="#222" stroke-width="0.8" stroke-linejoin="round"/>
<path d="M1185.8,357.8C1185.8,358.4 1185.5,359 1185.1,359.4C1184.7,359.8 1183.9,360.2 1183.3,360.4C1182.6,360.5 1181.7,360.5 1181.1,360.4C1180.4,360.2 1179.7,359.8 1179.3,359.4C1178.8,359 1178.6,358.4 1178.6,357.8C1178.6,357.3 1178.8,356.7 1179.3,356.3C1179.7,355.9 1180.4,355.5 1181.1,355.3C1181.7,355.2 1182.6,355.2 1183.3,355.3C1183.9,355.5 1184.7,355.9 1185.1,356.3C1185.5,356.7 1185.8,357.3 1185.8,357.8Z" fill="#e8e8e8" stroke="#333" stroke-width="1" stroke-linejoin="round"/>
<path d="M1214.4,373.9C1214.2,374.4 1213.9,375 1213.6,375.3C1213.3,375.6 1212.9,375.9 1212.6,376C1212.3,376 1211.9,375.9 1211.7,375.7C1211.5,375.4 1211.4,375 1211.4,374.5C1211.4,374.1 1211.5,373.4 1211.7,373C1211.8,372.5 1212.1,371.9 1212.4,371.6C1212.7,371.3 1213.1,371 1213.4,370.9C1213.8,370.9 1214.1,371 1214.3,371.2C1214.5,371.5 1214.6,371.9 1214.6,372.4C1214.6,372.8 1214.5,373.5 1214.4,373.9Z" fill="#fff" stroke="#222" stroke-width="1" stroke-linejoin="round"/>
<ellipse cx="1190.81" cy="374.16" rx="3.12" ry="2.88" fill="#444" filter="url(#bl1)"/>
<ellipse cx="1202.81" cy="397.81" rx="2.88" ry="2.64" fill="#444" filter="url(#bl1)"/>
<ellipse cx="1182.4" cy="425.41" rx="4.32" ry="1.44" fill="#444" filter="url(#bl1)"/>
<circle cx="1231.85" cy="358.44" r="1" fill="#222"/>
<circle cx="1233.65" cy="369.36" r="1" fill="#222"/>
<circle cx="1195.01" cy="422.17" r="1" fill="#222"/>
<circle cx="1172.56" cy="435.25" r="1" fill="#222"/>
<path d="M1340,369.6C1340.2,367.2 1340.8,365.2 1342.4,363.6C1344,362 1347.2,360.6 1349.6,360C1352,359.4 1354.6,360.7 1356.8,360C1359,359.3 1361.2,356 1362.8,355.8C1364.4,355.6 1365.7,357.3 1366.4,358.8C1367.1,360.3 1366.2,363.8 1367,364.8C1367.8,365.8 1369.9,365.3 1371.2,364.8C1372.5,364.3 1373.6,361.6 1374.8,361.8C1376,362 1378,364.1 1378.4,366C1378.8,367.9 1377,370.8 1377.2,373.2C1377.4,375.6 1378.4,378.7 1379.6,380.4C1380.8,382.1 1382.6,382.7 1384.4,383.4C1386.2,384.1 1388.8,383.7 1390.4,384.6C1392,385.5 1393.2,387.1 1394,388.8C1394.8,390.5 1396.2,394.4 1395.2,394.8C1394.2,395.2 1391.2,391.9 1388,391.2C1384.8,390.5 1380,390.8 1376,390.6C1372,390.4 1367,390.1 1364,390C1361,389.9 1360,390.2 1358,390C1356,389.8 1354.2,389.6 1352,388.8C1349.8,388 1346.6,387 1344.8,385.2C1343,383.4 1342,380.6 1341.2,378C1340.4,375.4 1339.8,372 1340,369.6Z" fill="#f35c5c" stroke="#f41d1d" stroke-width="1.3" stroke-linejoin="round"/>
<path d="M1336.4,409.8C1336.2,408.4 1339.4,405.1 1341.2,403.2C1343,401.3 1345,399.6 1347.2,398.4C1349.4,397.2 1352.4,397.2 1354.4,396C1356.4,394.8 1356.6,392.1 1359.2,391.2C1361.8,390.3 1366.2,390.7 1370,390.6C1373.8,390.5 1378,390.5 1382,390.6C1386,390.7 1391.5,390.1 1394,391.2C1396.5,392.3 1395.8,395.8 1397,397.2C1398.2,398.6 1400.7,398 1401.2,399.6C1401.7,401.2 1400.2,404.6 1400,406.8C1399.8,409 1401.2,411.3 1400,412.8C1398.8,414.3 1395.2,415.3 1392.8,415.8C1390.4,416.3 1388,415.1 1385.6,415.8C1383.2,416.5 1380.4,418.7 1378.4,420C1376.4,421.3 1375.2,422 1373.6,423.6C1372,425.2 1370.4,428 1368.8,429.6C1367.2,431.2 1366,432.3 1364,433.2C1362,434.1 1359,434.3 1356.8,435C1354.6,435.7 1352.6,437.7 1350.8,437.4C1349,437.1 1347.4,435.1 1346,433.2C1344.6,431.3 1342.8,428.6 1342.4,426C1342,423.4 1343.6,420 1343.6,417.6C1343.6,415.2 1343.6,412.9 1342.4,411.6C1341.2,410.3 1336.6,411.2 1336.4,409.8Z" fill="#f35c5c" stroke="#f41d1d" stroke-width="1.3" stroke-linejoin="round"/>
<path d="M1398.2,427.2C1397.8,425.7 1403.9,424.6 1404.8,422.4C1405.7,420.2 1404,416.8 1403.6,414C1403.2,411.2 1402.2,408 1402.4,405.6C1402.6,403.2 1403.6,400.5 1404.8,399.6C1406,398.7 1408.2,400.4 1409.6,400.2C1411,400 1412.2,397.1 1413.2,398.4C1414.2,399.7 1414.2,406.4 1415.6,408C1417,409.6 1420.2,409.2 1421.6,408C1423,406.8 1422.8,402.8 1424,400.8C1425.2,398.8 1426.8,396.9 1428.8,396C1430.8,395.1 1433.4,394.9 1436,395.4C1438.6,395.9 1442,397.5 1444.4,399C1446.8,400.5 1448.9,402.1 1450.4,404.4C1451.9,406.7 1453.2,409.8 1453.4,412.8C1453.6,415.8 1452.7,419.4 1451.6,422.4C1450.5,425.4 1449.2,428.6 1446.8,430.8C1444.4,433 1440.6,434.7 1437.2,435.6C1433.8,436.5 1430.2,436.3 1426.4,436.2C1422.6,436.1 1417.6,435.8 1414.4,435C1411.2,434.2 1409.9,432.7 1407.2,431.4C1404.5,430.1 1398.6,428.7 1398.2,427.2Z" fill="#f35c5c" stroke="#f41d1d" stroke-width="1.3" stroke-linejoin="round"/>
<path d="M1380.8,366C1381,364.4 1382,361.7 1383.2,360.6C1384.4,359.5 1386.5,359 1388,359.4C1389.5,359.8 1391.3,361.6 1392.2,363C1393.1,364.4 1393.7,366.3 1393.4,367.8C1393.1,369.3 1391.7,371.1 1390.4,372C1389.1,372.9 1387,373.5 1385.6,373.2C1384.2,372.9 1382.8,371.4 1382,370.2C1381.2,369 1380.6,367.6 1380.8,366Z" fill="#f7b4b4" stroke="#f41d1d" stroke-width="1.3" stroke-linejoin="round"/>
<path d="M1427.6,364.8C1428,363.4 1429.6,360.9 1431.2,359.4C1432.8,357.9 1435.2,356.7 1437.2,355.8C1439.2,354.9 1441.9,353.8 1443.2,354C1444.5,354.2 1445.2,355.5 1445,357C1444.8,358.5 1443.3,361.2 1442,363C1440.7,364.8 1438.8,366.8 1437.2,367.8C1435.6,368.8 1433.8,369 1432.4,369C1431,369 1429.6,368.5 1428.8,367.8C1428,367.1 1427.2,366.2 1427.6,364.8Z" fill="#f7a8a8" stroke="#f41d1d" stroke-width="1.3" stroke-linejoin="round"/>
<ellipse cx="1378.4" cy="400.21" rx="10.2" ry="7.2" fill="#fbd4d4" filter="url(#bl2)" opacity="0.95"/>
<ellipse cx="1385.6" cy="386.4" rx="7.2" ry="4.8" fill="#f9c0c0" filter="url(#bl2)" opacity="0.8"/>
<ellipse cx="1409.61" cy="423.61" rx="7.2" ry="7.2" fill="#f9c4c4" filter="url(#bl2)" opacity="0.9"/>
<ellipse cx="1400" cy="408.01" rx="4.8" ry="4.8" fill="#f9c4c4" filter="url(#bl2)" opacity="0.7"/>
<ellipse cx="1348.4" cy="372" rx="4.8" ry="6" fill="#f02020" filter="url(#bl2)" opacity="0.7"/>
<ellipse cx="1356.8" cy="403.21" rx="7.2" ry="6" fill="#f02828" filter="url(#bl2)" opacity="0.6"/>
<ellipse cx="1358" cy="426.01" rx="7.2" ry="6" fill="#f02828" filter="url(#bl2)" opacity="0.6"/>
<ellipse cx="1433.01" cy="417.61" rx="4.2" ry="5.4" fill="#f02020" filter="url(#bl2)" opacity="0.7"/>
<ellipse cx="1352" cy="430.81" rx="4.8" ry="3.6" fill="#f8b0b0" filter="url(#bl2)" opacity="0.7"/>
<ellipse cx="1366.4" cy="375.6" rx="3" ry="4.8" fill="#f02020" filter="url(#bl2)" opacity="0.6"/>
<path d="M1340,369.6C1340.2,367.2 1340.8,365.2 1342.4,363.6C1344,362 1347.2,360.6 1349.6,360C1352,359.4 1354.6,360.7 1356.8,360C1359,359.3 1361.2,356 1362.8,355.8C1364.4,355.6 1365.7,357.3 1366.4,358.8C1367.1,360.3 1366.2,363.8 1367,364.8C1367.8,365.8 1369.9,365.3 1371.2,364.8C1372.5,364.3 1373.6,361.6 1374.8,361.8C1376,362 1378,364.1 1378.4,366C1378.8,367.9 1377,370.8 1377.2,373.2C1377.4,375.6 1378.4,378.7 1379.6,380.4C1380.8,382.1 1382.6,382.7 1384.4,383.4C1386.2,384.1 1388.8,383.7 1390.4,384.6C1392,385.5 1393.2,387.1 1394,388.8C1394.8,390.5 1396.2,394.4 1395.2,394.8C1394.2,395.2 1391.2,391.9 1388,391.2C1384.8,390.5 1380,390.8 1376,390.6C1372,390.4 1367,390.1 1364,390C1361,389.9 1360,390.2 1358,390C1356,389.8 1354.2,389.6 1352,388.8C1349.8,388 1346.6,387 1344.8,385.2C1343,383.4 1342,380.6 1341.2,378C1340.4,375.4 1339.8,372 1340,369.6Z" fill="none" stroke="#f41d1d" stroke-width="1.4" stroke-linejoin="round"/>
<path d="M1336.4,409.8C1336.2,408.4 1339.4,405.1 1341.2,403.2C1343,401.3 1345,399.6 1347.2,398.4C1349.4,397.2 1352.4,397.2 1354.4,396C1356.4,394.8 1356.6,392.1 1359.2,391.2C1361.8,390.3 1366.2,390.7 1370,390.6C1373.8,390.5 1378,390.5 1382,390.6C1386,390.7 1391.5,390.1 1394,391.2C1396.5,392.3 1395.8,395.8 1397,397.2C1398.2,398.6 1400.7,398 1401.2,399.6C1401.7,401.2 1400.2,404.6 1400,406.8C1399.8,409 1401.2,411.3 1400,412.8C1398.8,414.3 1395.2,415.3 1392.8,415.8C1390.4,416.3 1388,415.1 1385.6,415.8C1383.2,416.5 1380.4,418.7 1378.4,420C1376.4,421.3 1375.2,422 1373.6,423.6C1372,425.2 1370.4,428 1368.8,429.6C1367.2,431.2 1366,432.3 1364,433.2C1362,434.1 1359,434.3 1356.8,435C1354.6,435.7 1352.6,437.7 1350.8,437.4C1349,437.1 1347.4,435.1 1346,433.2C1344.6,431.3 1342.8,428.6 1342.4,426C1342,423.4 1343.6,420 1343.6,417.6C1343.6,415.2 1343.6,412.9 1342.4,411.6C1341.2,410.3 1336.6,411.2 1336.4,409.8Z" fill="none" stroke="#f41d1d" stroke-width="1.4" stroke-linejoin="round"/>
<path d="M1398.2,427.2C1397.8,425.7 1403.9,424.6 1404.8,422.4C1405.7,420.2 1404,416.8 1403.6,414C1403.2,411.2 1402.2,408 1402.4,405.6C1402.6,403.2 1403.6,400.5 1404.8,399.6C1406,398.7 1408.2,400.4 1409.6,400.2C1411,400 1412.2,397.1 1413.2,398.4C1414.2,399.7 1414.2,406.4 1415.6,408C1417,409.6 1420.2,409.2 1421.6,408C1423,406.8 1422.8,402.8 1424,400.8C1425.2,398.8 1426.8,396.9 1428.8,396C1430.8,395.1 1433.4,394.9 1436,395.4C1438.6,395.9 1442,397.5 1444.4,399C1446.8,400.5 1448.9,402.1 1450.4,404.4C1451.9,406.7 1453.2,409.8 1453.4,412.8C1453.6,415.8 1452.7,419.4 1451.6,422.4C1450.5,425.4 1449.2,428.6 1446.8,430.8C1444.4,433 1440.6,434.7 1437.2,435.6C1433.8,436.5 1430.2,436.3 1426.4,436.2C1422.6,436.1 1417.6,435.8 1414.4,435C1411.2,434.2 1409.9,432.7 1407.2,431.4C1404.5,430.1 1398.6,428.7 1398.2,427.2Z" fill="none" stroke="#f41d1d" stroke-width="1.4" stroke-linejoin="round"/>
<path d="M1356.9,370.8C1357.5,372.2 1358.7,373.8 1358.7,375.3C1358.8,376.7 1357.9,378.6 1356.9,379.6C1356,380.6 1354.4,380.8 1353.1,381.2C1351.8,381.5 1350.5,382.1 1349.2,381.9C1347.9,381.6 1346.6,380.6 1345.5,379.7C1344.4,378.7 1343.2,377.4 1342.6,376C1342,374.6 1341.5,372.5 1341.8,371.2C1342.1,369.8 1343.5,368.7 1344.5,367.8C1345.4,366.9 1346.3,366.4 1347.5,365.7C1348.6,365 1350,363.7 1351.3,363.8C1352.5,364 1354,365.6 1354.9,366.8C1355.9,367.9 1356.3,369.4 1356.9,370.8Z" fill="none" stroke="#ffffff" stroke-width="1.5" stroke-linejoin="round"/>
<path d="M1392.5,401.4C1392.5,402.7 1391.9,404.4 1390.8,405.4C1389.6,406.4 1387.3,406.8 1385.7,407.4C1384.1,407.9 1382.6,408.3 1380.9,408.6C1379.2,408.9 1377,409.5 1375.3,409.2C1373.5,408.9 1371.6,407.8 1370.2,406.8C1368.9,405.8 1367.6,404.5 1367,403.2C1366.5,401.9 1366.7,400.5 1366.8,399.1C1367,397.8 1367,396.4 1367.8,395.2C1368.7,394.1 1370.2,393.1 1371.7,392.4C1373.2,391.7 1375.2,391.1 1376.9,391.1C1378.7,391.1 1380.6,391.7 1382.4,392.2C1384.1,392.6 1386,393.1 1387.4,394C1388.7,394.8 1389.6,396.1 1390.5,397.4C1391.3,398.6 1392.4,400 1392.5,401.4Z" fill="none" stroke="#ffffff" stroke-width="1.5" stroke-linejoin="round"/>
<path d="M1365.8,415.7C1365.6,416.6 1365.2,417.5 1364.8,418.1C1364.3,418.7 1363.6,419.3 1363,419.4C1362.4,419.6 1361.7,419.4 1361.2,419.1C1360.7,418.7 1360.2,418 1360,417.3C1359.8,416.6 1359.7,415.5 1359.8,414.7C1360,413.9 1360.4,412.9 1360.9,412.3C1361.3,411.7 1362,411.2 1362.6,411C1363.2,410.8 1363.9,411 1364.4,411.3C1364.9,411.7 1365.4,412.4 1365.6,413.1C1365.9,413.9 1365.9,414.9 1365.8,415.7Z" fill="none" stroke="#ffffff" stroke-width="1.5" stroke-linejoin="round"/>
<path d="M1353.4,420.7C1353.4,421.1 1353.3,421.7 1353,422C1352.7,422.3 1352.2,422.6 1351.8,422.8C1351.3,422.9 1350.7,422.9 1350.3,422.8C1349.9,422.6 1349.4,422.3 1349.1,422C1348.8,421.7 1348.6,421.1 1348.6,420.7C1348.6,420.3 1348.8,419.8 1349.1,419.5C1349.4,419.1 1349.9,418.8 1350.3,418.7C1350.7,418.5 1351.3,418.5 1351.8,418.7C1352.2,418.8 1352.7,419.1 1353,419.5C1353.3,419.8 1353.4,420.3 1353.4,420.7Z" fill="none" stroke="#ffffff" stroke-width="1.5" stroke-linejoin="round"/>
<path d="M1373,374.2C1373,374.5 1372.8,375 1372.6,375.3C1372.3,375.6 1371.9,375.9 1371.5,376C1371.1,376.1 1370.6,376.1 1370.2,376C1369.8,375.9 1369.3,375.6 1369.1,375.3C1368.8,375 1368.7,374.5 1368.7,374.2C1368.7,373.8 1368.8,373.3 1369.1,373C1369.3,372.7 1369.8,372.5 1370.2,372.3C1370.6,372.2 1371.1,372.2 1371.5,372.3C1371.9,372.5 1372.3,372.7 1372.6,373C1372.8,373.3 1373,373.8 1373,374.2Z" fill="none" stroke="#ffffff" stroke-width="1.5" stroke-linejoin="round"/>
<path d="M1359.2,382.2C1359.2,382.8 1359.1,383.4 1358.9,383.9C1358.8,384.4 1358.5,384.8 1358.2,384.9C1357.9,385.1 1357.6,385.1 1357.3,384.9C1357,384.8 1356.8,384.4 1356.6,383.9C1356.4,383.4 1356.3,382.8 1356.3,382.2C1356.3,381.6 1356.4,381 1356.6,380.5C1356.8,380.1 1357,379.6 1357.3,379.5C1357.6,379.3 1357.9,379.3 1358.2,379.5C1358.5,379.6 1358.8,380.1 1358.9,380.5C1359.1,381 1359.2,381.6 1359.2,382.2Z" fill="none" stroke="#ffffff" stroke-width="1.5" stroke-linejoin="round"/>
<path d="M1450.1,422C1449.4,424.7 1447.8,427.4 1446.1,429.6C1444.4,431.8 1442.2,433.9 1439.8,435.1C1437.4,436.3 1434.5,436.7 1431.9,436.6C1429.3,436.5 1426.6,435.7 1424.4,434.5C1422.1,433.3 1419.9,431.5 1418.2,429.3C1416.6,427.2 1415.2,424.4 1414.7,421.6C1414.2,418.8 1414.5,415.4 1415.3,412.6C1416.1,409.8 1417.5,406.8 1419.4,404.7C1421.2,402.5 1423.8,401 1426.3,399.8C1428.8,398.6 1431.6,397.6 1434.1,397.6C1436.7,397.7 1439.5,398.7 1441.8,400C1444,401.3 1446.1,403.3 1447.6,405.6C1449,407.8 1450,410.6 1450.5,413.4C1450.9,416.1 1450.8,419.3 1450.1,422Z" fill="none" stroke="#ffffff" stroke-width="2.6" stroke-linejoin="round"/>
<path d="M1450.1,422C1449.4,424.7 1447.8,427.4 1446.1,429.6C1444.4,431.8 1442.2,433.9 1439.8,435.1C1437.4,436.3 1434.5,436.7 1431.9,436.6C1429.3,436.5 1426.6,435.7 1424.4,434.5C1422.1,433.3 1419.9,431.5 1418.2,429.3C1416.6,427.2 1415.2,424.4 1414.7,421.6C1414.2,418.8 1414.5,415.4 1415.3,412.6C1416.1,409.8 1417.5,406.8 1419.4,404.7C1421.2,402.5 1423.8,401 1426.3,399.8C1428.8,398.6 1431.6,397.6 1434.1,397.6C1436.7,397.7 1439.5,398.7 1441.8,400C1444,401.3 1446.1,403.3 1447.6,405.6C1449,407.8 1450,410.6 1450.5,413.4C1450.9,416.1 1450.8,419.3 1450.1,422Z" fill="none" stroke="#f41d1d" stroke-width="1" stroke-linejoin="round"/>
<path d="M1446.5,421C1445.9,423.1 1444.7,425.2 1443.3,427C1442,428.7 1440.2,430.4 1438.3,431.3C1436.5,432.3 1434.2,432.6 1432.1,432.6C1430.1,432.5 1428,431.8 1426.2,430.9C1424.4,429.9 1422.7,428.5 1421.4,426.8C1420.1,425.1 1419,422.9 1418.6,420.7C1418.2,418.5 1418.5,415.9 1419.1,413.6C1419.7,411.4 1420.8,409.1 1422.3,407.4C1423.7,405.7 1425.8,404.5 1427.7,403.5C1429.7,402.6 1431.9,401.8 1433.9,401.8C1435.9,401.8 1438.1,402.6 1439.9,403.7C1441.7,404.7 1443.3,406.3 1444.5,408.1C1445.6,409.8 1446.4,412.1 1446.7,414.2C1447.1,416.4 1447,418.8 1446.5,421Z" fill="none" stroke="#ffffff" stroke-width="2.6" stroke-linejoin="round"/>
<path d="M1446.5,421C1445.9,423.1 1444.7,425.2 1443.3,427C1442,428.7 1440.2,430.4 1438.3,431.3C1436.5,432.3 1434.2,432.6 1432.1,432.6C1430.1,432.5 1428,431.8 1426.2,430.9C1424.4,429.9 1422.7,428.5 1421.4,426.8C1420.1,425.1 1419,422.9 1418.6,420.7C1418.2,418.5 1418.5,415.9 1419.1,413.6C1419.7,411.4 1420.8,409.1 1422.3,407.4C1423.7,405.7 1425.8,404.5 1427.7,403.5C1429.7,402.6 1431.9,401.8 1433.9,401.8C1435.9,401.8 1438.1,402.6 1439.9,403.7C1441.7,404.7 1443.3,406.3 1444.5,408.1C1445.6,409.8 1446.4,412.1 1446.7,414.2C1447.1,416.4 1447,418.8 1446.5,421Z" fill="none" stroke="#f41d1d" stroke-width="1" stroke-linejoin="round"/>
<path d="M1443,420.1C1442.6,421.7 1441.7,423.3 1440.7,424.6C1439.7,425.9 1438.4,427.2 1437,427.9C1435.6,428.6 1433.8,428.9 1432.3,428.8C1430.8,428.8 1429.2,428.3 1427.9,427.6C1426.6,426.8 1425.3,425.8 1424.3,424.5C1423.4,423.2 1422.5,421.5 1422.2,419.9C1421.9,418.2 1422.2,416.3 1422.6,414.6C1423.1,412.9 1423.9,411.1 1425,409.9C1426.1,408.6 1427.6,407.7 1429.1,407C1430.5,406.3 1432.2,405.6 1433.7,405.7C1435.2,405.7 1436.9,406.3 1438.2,407C1439.5,407.8 1440.7,409 1441.6,410.3C1442.4,411.6 1443,413.3 1443.3,415C1443.5,416.6 1443.5,418.5 1443,420.1Z" fill="none" stroke="#ffffff" stroke-width="2.6" stroke-linejoin="round"/>
<path d="M1443,420.1C1442.6,421.7 1441.7,423.3 1440.7,424.6C1439.7,425.9 1438.4,427.2 1437,427.9C1435.6,428.6 1433.8,428.9 1432.3,428.8C1430.8,428.8 1429.2,428.3 1427.9,427.6C1426.6,426.8 1425.3,425.8 1424.3,424.5C1423.4,423.2 1422.5,421.5 1422.2,419.9C1421.9,418.2 1422.2,416.3 1422.6,414.6C1423.1,412.9 1423.9,411.1 1425,409.9C1426.1,408.6 1427.6,407.7 1429.1,407C1430.5,406.3 1432.2,405.6 1433.7,405.7C1435.2,405.7 1436.9,406.3 1438.2,407C1439.5,407.8 1440.7,409 1441.6,410.3C1442.4,411.6 1443,413.3 1443.3,415C1443.5,416.6 1443.5,418.5 1443,420.1Z" fill="none" stroke="#f41d1d" stroke-width="1" stroke-linejoin="round"/>
<path d="M1439.6,419.1C1439.3,420.2 1438.7,421.3 1438.1,422.2C1437.4,423.1 1436.5,423.9 1435.6,424.4C1434.7,424.9 1433.5,425.1 1432.5,425.1C1431.5,425 1430.5,424.7 1429.6,424.2C1428.7,423.8 1427.9,423.1 1427.2,422.2C1426.6,421.3 1426.1,420.2 1425.9,419.1C1425.7,418 1425.9,416.7 1426.2,415.5C1426.5,414.4 1427,413.2 1427.8,412.3C1428.5,411.5 1429.5,410.9 1430.5,410.4C1431.4,409.9 1432.5,409.5 1433.5,409.5C1434.5,409.5 1435.6,409.9 1436.5,410.4C1437.3,410.9 1438.1,411.7 1438.7,412.6C1439.2,413.5 1439.6,414.6 1439.8,415.7C1439.9,416.8 1439.9,418.1 1439.6,419.1Z" fill="none" stroke="#ffffff" stroke-width="2.6" stroke-linejoin="round"/>
<path d="M1439.6,419.1C1439.3,420.2 1438.7,421.3 1438.1,422.2C1437.4,423.1 1436.5,423.9 1435.6,424.4C1434.7,424.9 1433.5,425.1 1432.5,425.1C1431.5,425 1430.5,424.7 1429.6,424.2C1428.7,423.8 1427.9,423.1 1427.2,422.2C1426.6,421.3 1426.1,420.2 1425.9,419.1C1425.7,418 1425.9,416.7 1426.2,415.5C1426.5,414.4 1427,413.2 1427.8,412.3C1428.5,411.5 1429.5,410.9 1430.5,410.4C1431.4,409.9 1432.5,409.5 1433.5,409.5C1434.5,409.5 1435.6,409.9 1436.5,410.4C1437.3,410.9 1438.1,411.7 1438.7,412.6C1439.2,413.5 1439.6,414.6 1439.8,415.7C1439.9,416.8 1439.9,418.1 1439.6,419.1Z" fill="none" stroke="#f41d1d" stroke-width="1" stroke-linejoin="round"/>
<polyline points="1124,88.4 1281.3,88.4 1281.3,246.2" fill="none" stroke="#b9b9b9" stroke-width="1.1"/>
<polyline points="1124,87.9 1124,246.2 1281.8,246.2" fill="none" stroke="#1a1a1a" stroke-width="1.2"/>
<path d="M1124,88.4h-3.8M1124,118.4h-3.8M1124,149.6h-3.8M1124,181.4h-3.8M1124,215h-3.8M1124,228.8h-3.8M1124,242h-3.8M1124,246.2v3.8M1142.3,246.2v3.8M1161.2,246.2v3.8M1201.9,246.2v3.8M1242.4,246.2v3.8M1281.3,246.2v3.8" fill="none" stroke="#222" stroke-width="1"/>
<path d="M1124,109.4h-1.8M1124,104.1h-1.8M1124,100.3h-1.8M1124,97.4h-1.8M1124,95.1h-1.8M1124,93h-1.8M1124,91.3h-1.8M1124,89.8h-1.8M1124,140.2h-1.8M1124,134.7h-1.8M1124,130.8h-1.8M1124,127.8h-1.8M1124,125.3h-1.8M1124,123.2h-1.8M1124,121.4h-1.8M1124,119.8h-1.8M1124,171.8h-1.8M1124,166.2h-1.8M1124,162.3h-1.8M1124,159.2h-1.8M1124,156.7h-1.8M1124,154.5h-1.8M1124,152.7h-1.8M1124,151.1h-1.8M1124,204.9h-1.8M1124,199h-1.8M1124,194.8h-1.8M1124,191.5h-1.8M1124,188.9h-1.8M1124,186.6h-1.8M1124,184.7h-1.8M1124,182.9h-1.8M1124,219.2h-1.8M1124,217.6h-1.8M1124,216.5h-1.8M1124,215.7h-1.8M1127,246.2v1.8M1130.1,246.2v1.8M1133.2,246.2v1.8M1136.2,246.2v1.8M1139.2,246.2v1.8M1155.5,246.2v1.8M1157.7,246.2v1.8M1159.2,246.2v1.8M1160.3,246.2v1.8M1173.5,246.2v1.8M1180.6,246.2v1.8M1185.7,246.2v1.8M1189.6,246.2v1.8M1192.9,246.2v1.8M1195.6,246.2v1.8M1198,246.2v1.8M1200,246.2v1.8M1214.1,246.2v1.8M1221.2,246.2v1.8M1226.3,246.2v1.8M1230.2,246.2v1.8M1233.4,246.2v1.8M1236.1,246.2v1.8M1238.5,246.2v1.8M1240.5,246.2v1.8M1254.1,246.2v1.8M1261,246.2v1.8M1265.8,246.2v1.8M1269.6,246.2v1.8M1272.7,246.2v1.8M1275.3,246.2v1.8M1277.5,246.2v1.8M1279.5,246.2v1.8" fill="none" stroke="#555" stroke-width="0.7"/>
<rect x="1140.8" y="246.7" width="3.2" height="3.6" fill="#111"/>
<polyline points="1325.3,88.4 1482.6,88.4 1482.6,246.2" fill="none" stroke="#b9b9b9" stroke-width="1.1"/>
<polyline points="1325.3,87.9 1325.3,246.2 1483.1,246.2" fill="none" stroke="#1a1a1a" stroke-width="1.2"/>
<path d="M1325.3,88.4h-3.8M1325.3,118.4h-3.8M1325.3,149.6h-3.8M1325.3,181.4h-3.8M1325.3,215h-3.8M1325.3,228.8h-3.8M1325.3,242h-3.8M1325.3,246.2v3.8M1344,246.2v3.8M1362.4,246.2v3.8M1403.4,246.2v3.8M1443.4,246.2v3.8M1482.4,246.2v3.8" fill="none" stroke="#222" stroke-width="1"/>
<path d="M1325.3,109.4h-1.8M1325.3,104.1h-1.8M1325.3,100.3h-1.8M1325.3,97.4h-1.8M1325.3,95.1h-1.8M1325.3,93h-1.8M1325.3,91.3h-1.8M1325.3,89.8h-1.8M1325.3,140.2h-1.8M1325.3,134.7h-1.8M1325.3,130.8h-1.8M1325.3,127.8h-1.8M1325.3,125.3h-1.8M1325.3,123.2h-1.8M1325.3,121.4h-1.8M1325.3,119.8h-1.8M1325.3,171.8h-1.8M1325.3,166.2h-1.8M1325.3,162.3h-1.8M1325.3,159.2h-1.8M1325.3,156.7h-1.8M1325.3,154.5h-1.8M1325.3,152.7h-1.8M1325.3,151.1h-1.8M1325.3,204.9h-1.8M1325.3,199h-1.8M1325.3,194.8h-1.8M1325.3,191.5h-1.8M1325.3,188.9h-1.8M1325.3,186.6h-1.8M1325.3,184.7h-1.8M1325.3,182.9h-1.8M1325.3,219.2h-1.8M1325.3,217.6h-1.8M1325.3,216.5h-1.8M1325.3,215.7h-1.8M1328.4,246.2v1.8M1331.5,246.2v1.8M1334.7,246.2v1.8M1337.8,246.2v1.8M1340.9,246.2v1.8M1356.8,246.2v1.8M1359,246.2v1.8M1360.4,246.2v1.8M1361.5,246.2v1.8M1374.7,246.2v1.8M1382,246.2v1.8M1387.1,246.2v1.8M1391.1,246.2v1.8M1394.3,246.2v1.8M1397,246.2v1.8M1399.4,246.2v1.8M1401.5,246.2v1.8M1415.4,246.2v1.8M1422.5,246.2v1.8M1427.5,246.2v1.8M1431.4,246.2v1.8M1434.5,246.2v1.8M1437.2,246.2v1.8M1439.5,246.2v1.8M1441.6,246.2v1.8M1455.1,246.2v1.8M1462,246.2v1.8M1466.9,246.2v1.8M1470.7,246.2v1.8M1473.7,246.2v1.8M1476.4,246.2v1.8M1478.6,246.2v1.8M1480.6,246.2v1.8" fill="none" stroke="#555" stroke-width="0.7"/>
<rect x="1342.5" y="246.7" width="3.2" height="3.6" fill="#111"/>
<polyline points="1123.8,301.4 1281,301.4 1281,457.6" fill="none" stroke="#b9b9b9" stroke-width="1.1"/>
<polyline points="1123.8,300.9 1123.8,457.6 1281.5,457.6" fill="none" stroke="#1a1a1a" stroke-width="1.2"/>
<path d="M1123.8,301.4h-3.8M1123.8,331.4h-3.8M1123.8,362.4h-3.8M1123.8,394.4h-3.8M1123.8,428.4h-3.8M1123.8,442h-3.8M1123.8,456h-3.8M1124,457.6v3.8M1142.3,457.6v3.8M1161.2,457.6v3.8M1201.9,457.6v3.8M1242.4,457.6v3.8M1281.3,457.6v3.8" fill="none" stroke="#222" stroke-width="1"/>
<path d="M1123.8,322.4h-1.8M1123.8,317.1h-1.8M1123.8,313.3h-1.8M1123.8,310.4h-1.8M1123.8,308.1h-1.8M1123.8,306h-1.8M1123.8,304.3h-1.8M1123.8,302.8h-1.8M1123.8,353.1h-1.8M1123.8,347.6h-1.8M1123.8,343.7h-1.8M1123.8,340.7h-1.8M1123.8,338.3h-1.8M1123.8,336.2h-1.8M1123.8,334.4h-1.8M1123.8,332.8h-1.8M1123.8,384.8h-1.8M1123.8,379.1h-1.8M1123.8,375.1h-1.8M1123.8,372h-1.8M1123.8,369.5h-1.8M1123.8,367.4h-1.8M1123.8,365.5h-1.8M1123.8,363.9h-1.8M1123.8,404.7h-1.8M1123.8,400.7h-1.8M1123.8,398h-1.8M1123.8,396h-1.8M1127,457.6v1.8M1130.1,457.6v1.8M1133.2,457.6v1.8M1136.2,457.6v1.8M1139.2,457.6v1.8M1155.5,457.6v1.8M1157.7,457.6v1.8M1159.2,457.6v1.8M1160.3,457.6v1.8M1173.5,457.6v1.8M1180.6,457.6v1.8M1185.7,457.6v1.8M1189.6,457.6v1.8M1192.9,457.6v1.8M1195.6,457.6v1.8M1198,457.6v1.8M1200,457.6v1.8M1214.1,457.6v1.8M1221.2,457.6v1.8M1226.3,457.6v1.8M1230.2,457.6v1.8M1233.4,457.6v1.8M1236.1,457.6v1.8M1238.5,457.6v1.8M1240.5,457.6v1.8M1254.1,457.6v1.8M1261,457.6v1.8M1265.8,457.6v1.8M1269.6,457.6v1.8M1272.7,457.6v1.8M1275.3,457.6v1.8M1277.5,457.6v1.8M1279.5,457.6v1.8" fill="none" stroke="#555" stroke-width="0.7"/>
<rect x="1140.8" y="458.1" width="3.2" height="3.6" fill="#111"/>
<polyline points="1325.4,300.2 1482.8,300.2 1482.8,457.6" fill="none" stroke="#b9b9b9" stroke-width="1.1"/>
<polyline points="1325.4,299.7 1325.4,457.6 1483.3,457.6" fill="none" stroke="#1a1a1a" stroke-width="1.2"/>
<path d="M1325.4,300.2h-3.8M1325.4,330h-3.8M1325.4,361.2h-3.8M1325.4,393.6h-3.8M1325.4,427.2h-3.8M1325.4,440.4h-3.8M1325.4,454.8h-3.8M1325.3,457.6v3.8M1344,457.6v3.8M1362.4,457.6v3.8M1403.4,457.6v3.8M1443.4,457.6v3.8M1482.4,457.6v3.8" fill="none" stroke="#222" stroke-width="1"/>
<path d="M1325.4,321h-1.8M1325.4,315.8h-1.8M1325.4,312.1h-1.8M1325.4,309.2h-1.8M1325.4,306.8h-1.8M1325.4,304.8h-1.8M1325.4,303.1h-1.8M1325.4,301.6h-1.8M1325.4,351.8h-1.8M1325.4,346.3h-1.8M1325.4,342.4h-1.8M1325.4,339.4h-1.8M1325.4,336.9h-1.8M1325.4,334.8h-1.8M1325.4,333h-1.8M1325.4,331.4h-1.8M1325.4,383.8h-1.8M1325.4,378.1h-1.8M1325.4,374.1h-1.8M1325.4,371h-1.8M1325.4,368.4h-1.8M1325.4,366.2h-1.8M1325.4,364.3h-1.8M1325.4,362.7h-1.8M1325.4,403.8h-1.8M1325.4,399.8h-1.8M1325.4,397.2h-1.8M1325.4,395.2h-1.8M1328.4,457.6v1.8M1331.5,457.6v1.8M1334.7,457.6v1.8M1337.8,457.6v1.8M1340.9,457.6v1.8M1356.8,457.6v1.8M1359,457.6v1.8M1360.4,457.6v1.8M1361.5,457.6v1.8M1374.7,457.6v1.8M1382,457.6v1.8M1387.1,457.6v1.8M1391.1,457.6v1.8M1394.3,457.6v1.8M1397,457.6v1.8M1399.4,457.6v1.8M1401.5,457.6v1.8M1415.4,457.6v1.8M1422.5,457.6v1.8M1427.5,457.6v1.8M1431.4,457.6v1.8M1434.5,457.6v1.8M1437.2,457.6v1.8M1439.5,457.6v1.8M1441.6,457.6v1.8M1455.1,457.6v1.8M1462,457.6v1.8M1466.9,457.6v1.8M1470.7,457.6v1.8M1473.7,457.6v1.8M1476.4,457.6v1.8M1478.6,457.6v1.8M1480.6,457.6v1.8" fill="none" stroke="#555" stroke-width="0.7"/>
<rect x="1342.5" y="458.1" width="3.2" height="3.6" fill="#111"/>
<rect x="1136" y="125" width="61.4" height="53.4" fill="none" stroke="#1a1a1a" stroke-width="1.15"/>
<rect x="1200" y="181.8" width="61.6" height="53.6" fill="none" stroke="#1a1a1a" stroke-width="1.15"/>
<rect x="1337.4" y="125" width="61.4" height="53.4" fill="none" stroke="#1a1a1a" stroke-width="1.15"/>
<rect x="1401.2" y="181.8" width="61.6" height="53.6" fill="none" stroke="#1a1a1a" stroke-width="1.15"/>
<rect x="1135.6" y="338" width="61.8" height="53.4" fill="none" stroke="#1a1a1a" stroke-width="1.15"/>
<rect x="1199.6" y="394.4" width="61.8" height="54" fill="none" stroke="#1a1a1a" stroke-width="1.15"/>
<rect x="1337.4" y="336.8" width="61.4" height="53.6" fill="none" stroke="#1a1a1a" stroke-width="1.15"/>
<rect x="1401.2" y="393.6" width="61.6" height="53.8" fill="none" stroke="#1a1a1a" stroke-width="1.15"/>
<text x="1136.4" y="119.6" font-size="15.3" letter-spacing="0.15">CD4<tspan font-size="8.42" dy="-5.51">+</tspan><tspan dy="5.51" font-size="1">&#8203;</tspan> T</text>
<text x="1222.8" y="177.8" font-size="15.3" letter-spacing="0.15">CD8<tspan font-size="8.42" dy="-5.51">+</tspan><tspan dy="5.51" font-size="1">&#8203;</tspan> T</text>
<text x="1339" y="120.8" font-size="15.3" letter-spacing="0.15">CD4<tspan font-size="8.42" dy="-5.51">+</tspan><tspan dy="5.51" font-size="1">&#8203;</tspan> T</text>
<text x="1425" y="177.8" font-size="15.3" letter-spacing="0.15">CD8<tspan font-size="8.42" dy="-5.51">+</tspan><tspan dy="5.51" font-size="1">&#8203;</tspan> T</text>
<text x="1136.4" y="335.8" font-size="15.3" letter-spacing="0.15">CD4<tspan font-size="8.42" dy="-5.51">+</tspan><tspan dy="5.51" font-size="1">&#8203;</tspan> T</text>
<text x="1222.8" y="399.4" font-size="15.3" letter-spacing="0.15">CD8<tspan font-size="8.42" dy="-5.51">+</tspan><tspan dy="5.51" font-size="1">&#8203;</tspan> T</text>
<text x="1339" y="333" font-size="15.3" letter-spacing="0.15">CD4<tspan font-size="8.42" dy="-5.51">+</tspan><tspan dy="5.51" font-size="1">&#8203;</tspan> T</text>
<text x="1425" y="388.6" font-size="15.3" letter-spacing="0.15">CD8<tspan font-size="8.42" dy="-5.51">+</tspan><tspan dy="5.51" font-size="1">&#8203;</tspan> T</text>
<text x="1198.2" y="83.4" font-size="23.6" text-anchor="middle">AAV-Vec.</text>
<text x="1407" y="81.8" font-size="23.4" text-anchor="middle">AAV-miR-29b</text>
<text x="1199.8" y="295.6" font-size="23.5" text-anchor="middle">AAV-Vec./RT</text>
<text x="1411.8" y="293.2" font-size="23.5" text-anchor="middle">AAV-miR-29b/RT</text>
<text x="1091.6" y="102.2" font-size="15.8" letter-spacing="0.2">10<tspan font-size="9.48" dy="-6.64">5</tspan><tspan dy="6.64" font-size="1">&#8203;</tspan></text>
<text x="1092.2" y="155.6" font-size="15.8" letter-spacing="0.2">10<tspan font-size="9.48" dy="-6.64">3</tspan><tspan dy="6.64" font-size="1">&#8203;</tspan></text>
<text x="1105.9" y="236.6" font-size="15.8" text-anchor="middle">0</text>
<text x="1292" y="102.2" font-size="15.8" letter-spacing="0.2">10<tspan font-size="9.48" dy="-6.64">5</tspan><tspan dy="6.64" font-size="1">&#8203;</tspan></text>
<text x="1292.6" y="156.2" font-size="15.8" letter-spacing="0.2">10<tspan font-size="9.48" dy="-6.64">3</tspan><tspan dy="6.64" font-size="1">&#8203;</tspan></text>
<text x="1306.3" y="234.2" font-size="15.8" text-anchor="middle">0</text>
<text x="1091.6" y="317.2" font-size="15.8" letter-spacing="0.2">10<tspan font-size="9.48" dy="-6.64">5</tspan><tspan dy="6.64" font-size="1">&#8203;</tspan></text>
<text x="1092.2" y="369.6" font-size="15.8" letter-spacing="0.2">10<tspan font-size="9.48" dy="-6.64">3</tspan><tspan dy="6.64" font-size="1">&#8203;</tspan></text>
<text x="1105.9" y="433.4" font-size="15.8" text-anchor="middle">0</text>
<text x="1292" y="312.6" font-size="15.8" letter-spacing="0.2">10<tspan font-size="9.48" dy="-6.64">5</tspan><tspan dy="6.64" font-size="1">&#8203;</tspan></text>
<text x="1292.6" y="400.6" font-size="15.8" letter-spacing="0.2">10<tspan font-size="9.48" dy="-6.64">3</tspan><tspan dy="6.64" font-size="1">&#8203;</tspan></text>
<text x="1306.6" y="447" font-size="15.8" text-anchor="middle">0</text>
<text x="1143.3" y="265.2" font-size="15.8" text-anchor="middle">0</text>
<text x="1186" y="266.2" font-size="15.8" letter-spacing="0.2">10<tspan font-size="9.48" dy="-6.64">3</tspan><tspan dy="6.64" font-size="1">&#8203;</tspan></text>
<text x="1266.5" y="266.2" font-size="15.8" letter-spacing="0.2">10<tspan font-size="9.48" dy="-6.64">5</tspan><tspan dy="6.64" font-size="1">&#8203;</tspan></text>
<text x="1359" y="265.2" font-size="15.8" text-anchor="middle">0</text>
<text x="1395.8" y="266.2" font-size="15.8" letter-spacing="0.2">10<tspan font-size="9.48" dy="-6.64">3</tspan><tspan dy="6.64" font-size="1">&#8203;</tspan></text>
<text x="1470.5" y="266.2" font-size="15.8" letter-spacing="0.2">10<tspan font-size="9.48" dy="-6.64">5</tspan><tspan dy="6.64" font-size="1">&#8203;</tspan></text>
<text x="1158.2" y="478" font-size="15.8" text-anchor="middle">0</text>
<text x="1186" y="479" font-size="15.8" letter-spacing="0.2">10<tspan font-size="9.48" dy="-6.64">3</tspan><tspan dy="6.64" font-size="1">&#8203;</tspan></text>
<text x="1266.5" y="479" font-size="15.8" letter-spacing="0.2">10<tspan font-size="9.48" dy="-6.64">5</tspan><tspan dy="6.64" font-size="1">&#8203;</tspan></text>
<text x="1362.4" y="478" font-size="15.8" text-anchor="middle">0</text>
<text x="1394.6" y="479" font-size="15.8" letter-spacing="0.2">10<tspan font-size="9.48" dy="-6.64">3</tspan><tspan dy="6.64" font-size="1">&#8203;</tspan></text>
<text x="1469.4" y="479" font-size="15.8" letter-spacing="0.2">10<tspan font-size="9.48" dy="-6.64">5</tspan><tspan dy="6.64" font-size="1">&#8203;</tspan></text>
<rect x="1597.1" y="359.7" width="10.2" height="51.3" fill="#d4d4d4" stroke="#000" stroke-width="1.6"/>
<rect x="1615.9" y="348.8" width="9.6" height="62.2" fill="#f3999e" stroke="#000" stroke-width="1.6"/>
<rect x="1633.8" y="346.7" width="9.9" height="64.3" fill="#606060" stroke="#000" stroke-width="1.6"/>
<rect x="1652" y="327.3" width="9.9" height="83.7" fill="#f53b40" stroke="#000" stroke-width="1.6"/>
<rect x="1682.1" y="343.5" width="9.9" height="67.5" fill="#d4d4d4" stroke="#000" stroke-width="1.6"/>
<rect x="1700.3" y="291.8" width="10.3" height="119.2" fill="#f3999e" stroke="#000" stroke-width="1.6"/>
<rect x="1718.5" y="295.9" width="10.3" height="115.1" fill="#606060" stroke="#000" stroke-width="1.6"/>
<rect x="1737.1" y="224" width="9.6" height="187" fill="#f53b40" stroke="#000" stroke-width="1.6"/>
<line x1="1620.4" y1="338.2" x2="1620.4" y2="348" stroke="#000" stroke-width="1.5"/>
<line x1="1617.4" y1="338.2" x2="1623.4" y2="338.2" stroke="#000" stroke-width="1.5"/>
<line x1="1656.5" y1="315.5" x2="1656.5" y2="326.5" stroke="#000" stroke-width="1.5"/>
<line x1="1653.5" y1="315.5" x2="1659.5" y2="315.5" stroke="#000" stroke-width="1.5"/>
<line x1="1687" y1="325" x2="1687" y2="342.7" stroke="#000" stroke-width="1.5"/>
<line x1="1684" y1="325" x2="1690" y2="325" stroke="#000" stroke-width="1.5"/>
<line x1="1705.4" y1="278.7" x2="1705.4" y2="291" stroke="#000" stroke-width="1.5"/>
<line x1="1702.4" y1="278.7" x2="1708.4" y2="278.7" stroke="#000" stroke-width="1.5"/>
<line x1="1741.8" y1="213.5" x2="1741.8" y2="223.2" stroke="#000" stroke-width="1.5"/>
<line x1="1738.8" y1="213.5" x2="1744.8" y2="213.5" stroke="#000" stroke-width="1.5"/>
<line x1="1723.4" y1="291" x2="1723.4" y2="295.1" stroke="#000" stroke-width="1.5"/>
<line x1="1720.4" y1="291" x2="1726.4" y2="291" stroke="#000" stroke-width="1.5"/>
<line x1="1638.6" y1="343" x2="1638.6" y2="345.9" stroke="#000" stroke-width="1.5"/>
<line x1="1635.6" y1="343" x2="1641.6" y2="343" stroke="#000" stroke-width="1.5"/>
<line x1="1602.2" y1="355" x2="1602.2" y2="358.9" stroke="#000" stroke-width="1.5"/>
<line x1="1599.2" y1="355" x2="1605.2" y2="355" stroke="#000" stroke-width="1.5"/>
<line x1="1590.3" y1="148" x2="1590.3" y2="412" stroke="#000" stroke-width="2"/>
<line x1="1576.7" y1="411" x2="1754.5" y2="411" stroke="#000" stroke-width="2"/>
<line x1="1577.3" y1="149" x2="1590.3" y2="149" stroke="#000" stroke-width="2"/>
<text x="1574.7" y="157.5" font-size="22.8" text-anchor="end">80</text>
<line x1="1577.3" y1="214.5" x2="1590.3" y2="214.5" stroke="#000" stroke-width="2"/>
<line x1="1577.3" y1="279.6" x2="1590.3" y2="279.6" stroke="#000" stroke-width="2"/>
<text x="1576.1" y="289.8" font-size="22.8" text-anchor="end">40</text>
<line x1="1577.3" y1="345.5" x2="1590.3" y2="345.5" stroke="#000" stroke-width="2"/>
<line x1="1577.3" y1="411" x2="1590.3" y2="411" stroke="#000" stroke-width="2"/>
<text x="1575.4" y="420.1" font-size="22.8" text-anchor="end">0</text>
<line x1="1629.1" y1="411" x2="1629.1" y2="419.5" stroke="#000" stroke-width="1.7"/>
<line x1="1713.9" y1="411" x2="1713.9" y2="419.5" stroke="#000" stroke-width="1.7"/>
<circle cx="1599.7" cy="352.9" r="3.2" fill="#fff" stroke="#000" stroke-width="1.4"/>
<circle cx="1605.3" cy="355" r="3.2" fill="#fff" stroke="#000" stroke-width="1.4"/>
<circle cx="1602.2" cy="367.3" r="3.2" fill="#fff" stroke="#000" stroke-width="1.4"/>
<rect x="1617.3" y="327" width="6.2" height="6.2" fill="#fff" stroke="#000" stroke-width="1.4"/>
<rect x="1617.3" y="348.4" width="6.2" height="6.2" fill="#fff" stroke="#000" stroke-width="1.4"/>
<rect x="1617.3" y="358.6" width="6.2" height="6.2" fill="#fff" stroke="#000" stroke-width="1.4"/>
<circle cx="1635.8" cy="341" r="3.2" fill="#fff" stroke="#000" stroke-width="1.4"/>
<circle cx="1641.4" cy="343.1" r="3.2" fill="#fff" stroke="#000" stroke-width="1.4"/>
<circle cx="1638.6" cy="351.9" r="3.2" fill="#fff" stroke="#000" stroke-width="1.4"/>
<rect x="1653.4" y="303.6" width="6.2" height="6.2" fill="#fff" stroke="#000" stroke-width="1.4"/>
<rect x="1650.9" y="322.5" width="6.2" height="6.2" fill="#fff" stroke="#000" stroke-width="1.4"/>
<rect x="1656.5" y="322.5" width="6.2" height="6.2" fill="#fff" stroke="#000" stroke-width="1.4"/>
<circle cx="1684.5" cy="321.7" r="3.2" fill="#fff" stroke="#000" stroke-width="1.4"/>
<circle cx="1689.7" cy="327.7" r="3.2" fill="#fff" stroke="#000" stroke-width="1.4"/>
<circle cx="1687" cy="377.7" r="3.2" fill="#fff" stroke="#000" stroke-width="1.4"/>
<rect x="1702.3" y="268.6" width="6.2" height="6.2" fill="#fff" stroke="#000" stroke-width="1.4"/>
<rect x="1702.3" y="284" width="6.2" height="6.2" fill="#fff" stroke="#000" stroke-width="1.4"/>
<rect x="1702.3" y="309.2" width="6.2" height="6.2" fill="#fff" stroke="#000" stroke-width="1.4"/>
<circle cx="1720.9" cy="287.8" r="3.2" fill="#fff" stroke="#000" stroke-width="1.4"/>
<circle cx="1726.5" cy="291.7" r="3.2" fill="#fff" stroke="#000" stroke-width="1.4"/>
<circle cx="1723.4" cy="303.5" r="3.2" fill="#fff" stroke="#000" stroke-width="1.4"/>
<rect x="1738.7" y="203.3" width="6.2" height="6.2" fill="#fff" stroke="#000" stroke-width="1.4"/>
<rect x="1738.7" y="221.2" width="6.2" height="6.2" fill="#fff" stroke="#000" stroke-width="1.4"/>
<rect x="1738.7" y="234.8" width="6.2" height="6.2" fill="#fff" stroke="#000" stroke-width="1.4"/>
<polyline points="1636.9,323.5 1636.9,287.8 1656.1,287.8 1656.1,298.3" fill="none" stroke="#000" stroke-width="1.7"/>
<polyline points="1686.9,295.5 1686.9,259.1 1705.8,259.1 1705.8,265.7" fill="none" stroke="#000" stroke-width="1.7"/>
<polyline points="1686.9,246 1686.9,232.4 1722.3,232.4 1722.3,243.5" fill="none" stroke="#000" stroke-width="1.7"/>
<polyline points="1722.3,221.8 1722.3,187.9 1742.2,187.9 1742.2,196.7" fill="none" stroke="#000" stroke-width="1.7"/>
<text x="1645.6" y="289.8" font-size="22" text-anchor="middle">*</text>
<text x="1696.7" y="262.7" font-size="22" text-anchor="middle">*</text>
<text x="1703.3" y="235.4" font-size="22" text-anchor="middle">*</text>
<text x="1732.7" y="191" font-size="22" text-anchor="middle">*</text>
<text x="1533.3" y="279" font-size="27.4" text-anchor="middle" transform="rotate(-90 1533.3 279)">% of CD3<tspan font-size="17" dy="-10">+</tspan><tspan dy="10" font-size="1">&#8203;</tspan>CD45<tspan font-size="17" dy="-10">+</tspan><tspan dy="10" font-size="1">&#8203;</tspan> T cells</text>
<text x="1633.3" y="442.5" font-size="22.8" text-anchor="middle">CD4</text>
<text x="1714.5" y="440.4" font-size="22.8" text-anchor="middle">CD8</text>
<rect x="1786.9" y="153.8" width="28.1" height="13" fill="#d4d4d4" stroke="#000" stroke-width="1.6"/>
<text x="1821" y="166.2" font-size="19.6">AAV-Vec.</text>
<rect x="1786.9" y="190.8" width="28.1" height="13.4" fill="#f3999e" stroke="#000" stroke-width="1.6"/>
<text x="1820" y="204.7" font-size="19.6">AAV-miR-29b</text>
<rect x="1786.9" y="228.8" width="28.1" height="12.9" fill="#606060" stroke="#000" stroke-width="1.6"/>
<text x="1820" y="241.8" font-size="19.6">AAV-Vec./RT</text>
<rect x="1786.9" y="266.2" width="28.1" height="12.8" fill="#f53b40" stroke="#000" stroke-width="1.6"/>
<text x="1819.2" y="279.8" font-size="19.6">AAV-miR-29b/RT</text>
<text x="0" y="555" font-size="56.5">D</text>
<line x1="63.2" y1="605.6" x2="63.2" y2="996.6" stroke="#000" stroke-width="2.2"/>
<polygon points="63.2,592.6 57.6,606.6 68.8,606.6" fill="#000"/>
<line x1="62.1" y1="995.5" x2="458.2" y2="995.5" stroke="#000" stroke-width="2.2"/>
<polygon points="471.2,995.5 457.2,989.9 457.2,1001.1" fill="#000"/>
<text x="52" y="775" font-size="23" text-anchor="middle" transform="rotate(-90 52 775)">CD62L-APC</text>
<text x="278.3" y="1016" font-size="23.3" text-anchor="middle">CD44-PE</text>
<path d="M140.8,678.8C141.2,677.7 142.8,675.9 144.4,675.8C146,675.7 148.8,678.3 150.4,678.2C152,678.1 153.2,676.9 154,675.2C154.8,673.5 154.4,669.7 155.2,668C156,666.3 157.4,664.8 158.8,665C160.2,665.2 161.8,667.9 163.6,669.2C165.4,670.5 167.6,672 169.6,672.8C171.6,673.6 173.6,673.6 175.6,674C177.6,674.4 180.4,675.9 181.6,675.2C182.8,674.5 182.1,670.6 182.8,669.8C183.5,669 184.8,669.1 185.8,670.4C186.8,671.7 187.3,675.6 188.8,677.6C190.3,679.6 193.1,680.8 194.8,682.4C196.5,684 198.4,685.4 199,687.2C199.6,689 199.1,691.4 198.4,693.2C197.7,695 196.4,697.2 194.8,698C193.2,698.8 190.2,699.2 188.8,698C187.4,696.8 187.6,692.6 186.4,690.8C185.2,689 183,687 181.6,687.2C180.2,687.4 178.8,690.2 178,692C177.2,693.8 178.2,696.8 176.8,698C175.4,699.2 171.8,699.4 169.6,699.2C167.4,699 164.6,698.4 163.6,696.8C162.6,695.2 164.2,691.4 163.6,689.6C163,687.8 161.6,686.8 160,686C158.4,685.2 156,685.2 154,684.8C152,684.4 150,684 148,683.6C146,683.2 143.2,683.2 142,682.4C140.8,681.6 140.4,679.9 140.8,678.8Z" fill="#dcdcdc" stroke="#cfcfcf" stroke-width="0.8" stroke-linejoin="round"/>
<path d="M164.8,713.6C165.1,712.3 166,711.6 167.2,711.8C168.4,712 170,715.1 172,714.8C174,714.5 176.8,711.4 179.2,710C181.6,708.6 183.8,707.1 186.4,706.4C189,705.7 192.6,704.8 194.8,705.8C197,706.8 197.4,711.3 199.6,712.4C201.8,713.5 205.8,713.2 208,712.4C210.2,711.6 211.5,708.2 212.8,707.6C214.1,707 215,707.4 215.8,708.8C216.6,710.2 217.7,713.8 217.6,716C217.5,718.2 217.2,720.6 215.2,722C213.2,723.4 208,723.4 205.6,724.4C203.2,725.4 202.8,727 200.8,728C198.8,729 196.4,730.2 193.6,730.4C190.8,730.6 187,730 184,729.2C181,728.4 178.4,726.2 175.6,725.6C172.8,725 168.9,726.6 167.2,725.6C165.5,724.6 165.8,721.6 165.4,719.6C165,717.6 164.5,714.9 164.8,713.6Z" fill="#dcdcdc" stroke="#cfcfcf" stroke-width="0.8" stroke-linejoin="round"/>
<path d="M175.9,685C175.3,686.3 174.9,688.2 173.6,688.9C172.4,689.6 170,689.8 168.3,689.5C166.6,689.2 164.8,687.9 163.2,686.9C161.6,685.9 159.9,684.9 158.9,683.6C157.9,682.3 157.3,680.5 157.1,679C156.9,677.4 156.9,675.7 157.6,674.4C158.2,673.1 159.4,671.7 160.9,671.2C162.3,670.8 164.6,671.4 166.3,671.7C167.9,672.1 169.4,672.7 171,673.4C172.6,674.2 175,674.9 176.1,676.2C177.1,677.4 177.3,679.6 177.3,681C177.2,682.5 176.5,683.7 175.9,685Z" fill="none" stroke="#f6f6f6" stroke-width="0.8" stroke-linejoin="round"/>
<path d="M174.7,683C174.3,683.7 173.3,684.6 172.4,684.7C171.4,684.9 170.1,684.3 169.1,683.9C168.1,683.5 167.3,683.1 166.4,682.4C165.6,681.8 164.5,680.8 164.3,680C164,679.1 164.3,677.9 164.7,677.2C165.2,676.4 166.1,675.8 167,675.5C167.9,675.3 169.1,675.6 170.1,675.9C171.2,676.2 172.4,676.6 173.1,677.3C173.9,678 174.5,679.1 174.7,680.1C175,681 175.1,682.2 174.7,683Z" fill="none" stroke="#f6f6f6" stroke-width="0.8" stroke-linejoin="round"/>
<path d="M175,693C175,693.7 174.7,694.6 174.3,695.2C173.9,695.8 173.2,696.4 172.5,696.6C171.8,696.9 171,696.9 170.3,696.6C169.6,696.4 168.9,695.8 168.5,695.2C168.1,694.6 167.8,693.7 167.8,693C167.8,692.2 168.1,691.3 168.5,690.7C168.9,690.1 169.6,689.5 170.3,689.3C171,689.1 171.8,689.1 172.5,689.3C173.2,689.5 173.9,690.1 174.3,690.7C174.7,691.3 175,692.2 175,693Z" fill="none" stroke="#f6f6f6" stroke-width="0.8" stroke-linejoin="round"/>
<path d="M173,693C173,693.3 172.8,693.7 172.7,694C172.5,694.2 172.2,694.5 171.9,694.6C171.6,694.7 171.2,694.7 170.9,694.6C170.6,694.5 170.3,694.2 170.1,694C170,693.7 169.8,693.3 169.8,693C169.8,692.6 170,692.2 170.1,692C170.3,691.7 170.6,691.5 170.9,691.4C171.2,691.3 171.6,691.3 171.9,691.4C172.2,691.5 172.5,691.7 172.7,692C172.8,692.2 173,692.6 173,693Z" fill="none" stroke="#f6f6f6" stroke-width="0.8" stroke-linejoin="round"/>
<path d="M212.7,718.6C212.9,719.6 213.4,720.7 212.3,721.8C211.2,722.9 208.5,724 206.2,725C203.8,726 201.2,727.1 198.3,727.8C195.3,728.5 191.4,729.2 188.5,729.2C185.6,729.3 183.1,728.6 180.9,728.2C178.8,727.8 177.3,727.2 175.4,726.6C173.5,726 169.9,725.5 169.6,724.6C169.3,723.7 172.1,722.2 173.6,721C175.2,719.9 177,719 179,717.9C181.1,716.8 183.2,715.2 186.1,714.5C189,713.8 192.9,714 196.2,713.8C199.5,713.7 203.3,713.2 205.8,713.5C208.3,713.8 210,714.8 211.2,715.6C212.3,716.5 212.5,717.5 212.7,718.6Z" fill="none" stroke="#f6f6f6" stroke-width="0.8" stroke-linejoin="round"/>
<path d="M202.9,722.6C202.9,723.4 202.3,724.3 201.4,725C200.5,725.7 199.2,726.5 197.8,726.9C196.3,727.3 194.2,727.5 192.4,727.5C190.7,727.4 188.8,727.2 187.2,726.8C185.7,726.4 184.2,725.8 183.1,725.1C182.1,724.4 181.2,723.5 181.2,722.6C181.1,721.8 181.8,720.8 182.8,720C183.7,719.3 185.3,718.5 186.9,718.1C188.5,717.7 190.6,717.7 192.4,717.7C194.2,717.7 196.3,717.8 197.8,718.2C199.4,718.6 200.7,719.4 201.6,720.1C202.4,720.9 202.9,721.8 202.9,722.6Z" fill="none" stroke="#f6f6f6" stroke-width="0.8" stroke-linejoin="round"/>
<path d="M198.4,723.2C198.4,723.9 198,724.6 197.3,725.2C196.6,725.7 195.4,726.2 194.3,726.4C193.1,726.6 191.7,726.6 190.6,726.4C189.4,726.2 188.2,725.7 187.6,725.2C186.9,724.6 186.4,723.9 186.4,723.2C186.4,722.5 186.9,721.8 187.6,721.2C188.2,720.7 189.4,720.2 190.6,720C191.7,719.8 193.1,719.8 194.3,720C195.4,720.2 196.6,720.7 197.3,721.2C198,721.8 198.4,722.5 198.4,723.2Z" fill="none" stroke="#f6f6f6" stroke-width="0.8" stroke-linejoin="round"/>
<circle cx="149.2" cy="725.61" r="1.3" fill="#c8c8c8"/>
<path d="M224.1,707.1C224,707.4 223.5,707.6 223.1,707.7C222.6,707.7 221.9,707.6 221.3,707.3C220.7,707.1 220,706.7 219.5,706.3C219,705.9 218.6,705.4 218.4,704.9C218.2,704.5 218.1,704.1 218.3,703.8C218.5,703.5 218.9,703.3 219.3,703.2C219.8,703.2 220.5,703.3 221.1,703.5C221.7,703.8 222.4,704.2 222.9,704.6C223.4,705 223.9,705.5 224.1,705.9C224.3,706.4 224.3,706.8 224.1,707.1Z" fill="#ececec" stroke="#cfcfcf" stroke-width="0.8" stroke-linejoin="round"/>
<path d="M344.8,678.8C344.6,677.8 347.6,675.5 348.4,674C349.2,672.5 348.6,670.8 349.6,669.8C350.6,668.8 352.4,667.9 354.4,668C356.4,668.1 359.4,669.9 361.6,670.4C363.8,670.9 365.6,670.8 367.6,671C369.6,671.2 372,670.9 373.6,671.6C375.2,672.3 376.1,673.6 377.2,675.2C378.3,676.8 379.6,679.4 380.2,681.2C380.8,683 380.1,685 380.8,686C381.5,687 383.2,686.6 384.4,687.2C385.6,687.8 387.5,688.4 388,689.6C388.5,690.8 388.2,693.2 387.4,694.4C386.6,695.6 384.7,696.6 383.2,696.8C381.7,697 379.6,696.6 378.4,695.6C377.2,694.6 377.2,692.2 376,690.8C374.8,689.4 372.6,688.6 371.2,687.2C369.8,685.8 369,683.6 367.6,682.4C366.2,681.2 364.8,680.1 362.8,680C360.8,679.9 357.8,681.8 355.6,681.8C353.4,681.8 351.4,680.5 349.6,680C347.8,679.5 345,679.8 344.8,678.8Z" fill="#f7c6ca" stroke="#f3a3a9" stroke-width="0.9" stroke-linejoin="round"/>
<path d="M398.8,688.4C399.2,687 401,686.2 402.4,686C403.8,685.8 405.8,686.2 407.2,687.2C408.6,688.2 409,690.8 410.8,692C412.6,693.2 416,694.2 418,694.4C420,694.6 421.9,692.4 422.8,693.2C423.7,694 423.8,697.4 423.4,699.2C423,701 422.3,703.4 420.4,704C418.5,704.6 414.6,703.8 412,702.8C409.4,701.8 406.8,699.4 404.8,698C402.8,696.6 401,696 400,694.4C399,692.8 398.4,689.8 398.8,688.4Z" fill="#f7c6ca" stroke="#f3a3a9" stroke-width="0.9" stroke-linejoin="round"/>
<path d="M379,713.6C379,711.8 381.1,709.2 383.2,708.8C385.3,708.4 388.8,711 391.6,711.2C394.4,711.4 397.8,710.8 400,710C402.2,709.2 403.8,708 404.8,706.4C405.8,704.8 405,702.2 406,700.4C407,698.6 408.8,696.4 410.8,695.6C412.8,694.8 416.4,694.8 418,695.6C419.6,696.4 420,698.8 420.4,700.4C420.8,702 419.4,704.3 420.4,705.2C421.4,706.1 424.7,705.2 426.4,705.8C428.1,706.4 430.2,707.3 430.6,708.8C431,710.3 429.9,713 428.8,714.8C427.7,716.6 425,717.8 424,719.6C423,721.4 423.8,723.8 422.8,725.6C421.8,727.4 420,729 418,730.4C416,731.8 413.2,733.2 410.8,734C408.4,734.8 406,734.8 403.6,735.2C401.2,735.6 398.8,736.8 396.4,736.4C394,736 391.2,734.4 389.2,732.8C387.2,731.2 385.4,729 384.4,726.8C383.4,724.6 384.1,721.8 383.2,719.6C382.3,717.4 379,715.4 379,713.6Z" fill="#f7c6ca" stroke="#f3a3a9" stroke-width="0.9" stroke-linejoin="round"/>
<path d="M400.6,673.4C400.6,674.3 400.2,675.4 399.7,676.1C399.1,676.8 398.2,677.5 397.3,677.7C396.4,678 395.2,678 394.3,677.7C393.4,677.5 392.5,676.8 391.9,676.1C391.4,675.4 391,674.3 391,673.4C391,672.5 391.4,671.4 391.9,670.7C392.5,670 393.4,669.3 394.3,669.1C395.2,668.8 396.4,668.8 397.3,669.1C398.2,669.3 399.1,670 399.7,670.7C400.2,671.4 400.6,672.5 400.6,673.4Z" fill="#f9d8da" stroke="#f3a3a9" stroke-width="0.9" stroke-linejoin="round"/>
<path d="M422.2,675.8C422.2,677.1 421.8,678.6 421.1,679.7C420.4,680.7 419.2,681.7 418.1,682.1C416.9,682.5 415.5,682.5 414.4,682.1C413.2,681.7 412,680.7 411.4,679.7C410.7,678.6 410.2,677.1 410.2,675.8C410.2,674.5 410.7,673 411.4,671.9C412,670.9 413.2,669.9 414.4,669.5C415.5,669.1 416.9,669.1 418.1,669.5C419.2,669.9 420.4,670.9 421.1,671.9C421.8,673 422.2,674.5 422.2,675.8Z" fill="#f7c6ca" stroke="#f3a3a9" stroke-width="0.9" stroke-linejoin="round"/>
<ellipse cx="355.6" cy="675.8" rx="5" ry="4" fill="#f29aa0" filter="url(#bl2)" opacity="0.7"/>
<ellipse cx="416.21" cy="675.8" rx="3.5" ry="4" fill="#f29aa0" filter="url(#bl2)" opacity="0.6"/>
<path d="M407.6,724.2C407.6,725 407.1,726 406.5,726.7C405.8,727.4 404.7,728 403.6,728.3C402.5,728.5 401.1,728.5 400,728.3C399,728 397.8,727.4 397.1,726.7C396.5,726 396,725 396,724.2C396,723.3 396.5,722.3 397.1,721.6C397.8,720.9 399,720.3 400,720.1C401.1,719.8 402.5,719.8 403.6,720.1C404.7,720.3 405.8,720.9 406.5,721.6C407.1,722.3 407.6,723.3 407.6,724.2Z" fill="none" stroke="#fff4f4" stroke-width="1.2" stroke-linejoin="round"/>
<path d="M412.5,723.8C412.6,725.1 412,726.7 411,727.7C410.1,728.7 408.2,729.4 406.7,730C405.1,730.5 403.5,730.9 401.8,730.9C400.1,731 398,731 396.5,730.5C395,729.9 393.6,728.7 392.8,727.6C391.9,726.5 391.4,725 391.4,723.8C391.5,722.6 392.3,721.2 393.1,720.2C394,719.1 395.2,717.9 396.7,717.3C398.1,716.6 400.1,716.3 401.8,716.3C403.5,716.3 405.5,716.7 406.9,717.3C408.4,718 409.4,719.1 410.3,720.2C411.3,721.3 412.4,722.6 412.5,723.8Z" fill="none" stroke="#fff4f4" stroke-width="1.2" stroke-linejoin="round"/>
<path d="M416.2,722.6C416.2,724.2 416.3,725.9 415.4,727.3C414.5,728.7 412.7,729.9 411,730.9C409.3,731.9 407.3,732.9 405.2,733.3C403.1,733.7 400.4,733.8 398.4,733.3C396.4,732.9 394.6,731.5 393.1,730.5C391.6,729.4 390.5,728.2 389.3,726.9C388.2,725.6 386.1,724.1 386,722.6C385.9,721.1 387.7,719.4 388.8,718.1C390,716.8 391.3,715.7 392.9,714.5C394.4,713.4 396.2,711.6 398.2,711.2C400.2,710.8 402.9,711.7 405.1,712.1C407.4,712.5 410,712.7 411.7,713.7C413.4,714.7 414.5,716.5 415.3,717.9C416,719.4 416.2,721 416.2,722.6Z" fill="none" stroke="#fff4f4" stroke-width="1.2" stroke-linejoin="round"/>
<path d="M418,701.6C418,702.8 417.6,704.2 417.1,705.1C416.5,706.1 415.6,706.9 414.7,707.3C413.8,707.7 412.6,707.7 411.7,707.3C410.8,706.9 409.9,706.1 409.3,705.1C408.8,704.2 408.4,702.8 408.4,701.6C408.4,700.4 408.8,699 409.3,698.1C409.9,697.1 410.8,696.3 411.7,695.9C412.6,695.5 413.8,695.5 414.7,695.9C415.6,696.3 416.5,697.1 417.1,698.1C417.6,699 418,700.4 418,701.6Z" fill="none" stroke="#fff4f4" stroke-width="1.2" stroke-linejoin="round"/>
<circle cx="418.61" cy="722.85" r="1.8" fill="#fff"/>
<path d="M373.6,717.1C373.6,717.7 373.4,718.5 372.9,719.1C372.4,719.7 371.4,720.3 370.5,720.6C369.6,721 368.4,721.1 367.5,721.1C366.5,721 365.4,720.7 364.8,720.3C364.1,719.8 363.7,719.1 363.6,718.5C363.5,717.9 363.8,717.1 364.3,716.5C364.8,715.9 365.7,715.3 366.6,715C367.5,714.6 368.7,714.5 369.7,714.5C370.6,714.6 371.7,714.9 372.3,715.4C373,715.8 373.5,716.5 373.6,717.1Z" fill="#f4f4f4" stroke="#f3a3a9" stroke-width="1" stroke-linejoin="round"/>
<circle cx="385.61" cy="679.04" r="1.2" fill="#f0808a"/>
<circle cx="420.17" cy="687.45" r="1.2" fill="#f0808a"/>
<circle cx="355.6" cy="697.41" r="1.2" fill="#f0808a"/>
<circle cx="369.4" cy="707.97" r="1.2" fill="#f0808a"/>
<circle cx="376.25" cy="728.61" r="1.2" fill="#f0808a"/>
<polygon points="344.2,678.8 347.8,676.64 347.8,680.6" fill="#f29aa0"/>
<path d="M196,914.2C195.2,913.2 198.8,911.9 200.8,910.6C202.8,909.3 206,906.8 208,906.4C210,906 211.4,907.9 212.8,908.2C214.2,908.5 215.2,907.8 216.4,908.2C217.6,908.6 219.4,909.5 220,910.6C220.6,911.7 221,913.9 220,914.8C219,915.7 216.4,915.7 214,916C211.6,916.3 208.6,916.9 205.6,916.6C202.6,916.3 196.8,915.2 196,914.2Z" fill="#e4e4e4" stroke="#777" stroke-width="0.8" stroke-linejoin="round"/>
<path d="M162.4,935.8C162.4,934.2 163.8,932.2 164.8,932.2C165.8,932.2 167,935.4 168.4,935.8C169.8,936.2 172,933.8 173.2,934.6C174.4,935.4 176,939 175.6,940.6C175.2,942.2 172.6,944 170.8,944.2C169,944.4 166.2,943.2 164.8,941.8C163.4,940.4 162.4,937.4 162.4,935.8Z" fill="#dcdcdc" stroke="#999" stroke-width="0.8" stroke-linejoin="round"/>
<path d="M171.4,939.4C171.8,937.8 174.1,935 175.6,933.4C177.1,931.8 179.4,931.6 180.4,929.8C181.4,928 180.8,924.4 181.6,922.6C182.4,920.8 183.6,919.6 185.2,919C186.8,918.4 189.4,919.4 191.2,919C193,918.6 194.6,917.6 196,916.6C197.4,915.6 197.6,913.6 199.6,913C201.6,912.4 205.2,912.6 208,913C210.8,913.4 214,914.8 216.4,915.4C218.8,916 220.6,915.4 222.4,916.6C224.2,917.8 225.8,920.8 227.2,922.6C228.6,924.4 230.2,925.8 230.8,927.4C231.4,929 231.8,931 230.8,932.2C229.8,933.4 227,934 224.8,934.6C222.6,935.2 220,935 217.6,935.8C215.2,936.6 213,938.4 210.4,939.4C207.8,940.4 204.6,940.8 202,941.8C199.4,942.8 197.2,944.6 194.8,945.4C192.4,946.2 190.2,946.8 187.6,946.6C185,946.4 181.6,944.8 179.2,944.2C176.8,943.6 174.5,943.8 173.2,943C171.9,942.2 171,941 171.4,939.4Z" fill="#8e8e8e" stroke="#bdbdbd" stroke-width="1.6" stroke-linejoin="round"/>
<ellipse cx="191.21" cy="926.21" rx="4.8" ry="3.6" fill="#555" filter="url(#bl1)" opacity="0.7"/>
<ellipse cx="212.81" cy="927.41" rx="4.8" ry="4.8" fill="#555" filter="url(#bl1)" opacity="0.7"/>
<ellipse cx="200.81" cy="917.81" rx="4.8" ry="3" fill="#666" filter="url(#bl1)" opacity="0.6"/>
<ellipse cx="187.61" cy="935.21" rx="2.64" ry="2.64" fill="#d8d8d8" filter="url(#bl1)" opacity="0.95"/>
<ellipse cx="200.81" cy="933.41" rx="3.6" ry="2.4" fill="#d0d0d0" filter="url(#bl1)" opacity="0.8"/>
<ellipse cx="224.81" cy="928.61" rx="2.4" ry="3" fill="#ddd" filter="url(#bl1)" opacity="0.8"/>
<path d="M193.4,935.2C193.5,936.4 193.3,937.9 192.7,938.9C192,939.8 190.8,940.7 189.7,941.1C188.6,941.4 187.2,941.2 186.1,940.8C185,940.4 183.9,939.7 183.2,938.7C182.5,937.8 182.1,936.4 182.1,935.2C182.1,934 182.5,932.6 183.1,931.6C183.8,930.6 184.9,929.7 186,929.3C187.1,929 188.5,929.3 189.6,929.7C190.6,930.2 191.6,930.9 192.3,931.8C192.9,932.8 193.3,934 193.4,935.2Z" fill="none" stroke="#ffffff" stroke-width="2" stroke-linejoin="round"/>
<path d="M193.4,935.2C193.5,936.4 193.3,937.9 192.7,938.9C192,939.8 190.8,940.7 189.7,941.1C188.6,941.4 187.2,941.2 186.1,940.8C185,940.4 183.9,939.7 183.2,938.7C182.5,937.8 182.1,936.4 182.1,935.2C182.1,934 182.5,932.6 183.1,931.6C183.8,930.6 184.9,929.7 186,929.3C187.1,929 188.5,929.3 189.6,929.7C190.6,930.2 191.6,930.9 192.3,931.8C192.9,932.8 193.3,934 193.4,935.2Z" fill="none" stroke="#333" stroke-width="0.7" stroke-linejoin="round"/>
<path d="M206.1,933.4C206.1,934.1 205.7,935 205.1,935.5C204.4,936 203.3,936.3 202.3,936.5C201.3,936.6 200.3,936.6 199.3,936.5C198.4,936.3 197.2,936 196.6,935.4C196,934.9 195.6,934.1 195.6,933.4C195.7,932.7 196.1,931.9 196.7,931.4C197.3,930.9 198.3,930.5 199.3,930.3C200.2,930.1 201.4,930 202.4,930.2C203.3,930.4 204.3,930.9 204.9,931.4C205.5,931.9 206.1,932.7 206.1,933.4Z" fill="none" stroke="#ffffff" stroke-width="2" stroke-linejoin="round"/>
<path d="M206.1,933.4C206.1,934.1 205.7,935 205.1,935.5C204.4,936 203.3,936.3 202.3,936.5C201.3,936.6 200.3,936.6 199.3,936.5C198.4,936.3 197.2,936 196.6,935.4C196,934.9 195.6,934.1 195.6,933.4C195.7,932.7 196.1,931.9 196.7,931.4C197.3,930.9 198.3,930.5 199.3,930.3C200.2,930.1 201.4,930 202.4,930.2C203.3,930.4 204.3,930.9 204.9,931.4C205.5,931.9 206.1,932.7 206.1,933.4Z" fill="none" stroke="#333" stroke-width="0.7" stroke-linejoin="round"/>
<path d="M209.4,930.3C209.8,931.8 210.2,933.5 209.6,935.1C209,936.6 207.4,938.2 205.8,939.5C204.3,940.9 202.5,942.3 200.5,943.1C198.4,944 195.7,944.7 193.6,944.6C191.4,944.6 189.3,943.7 187.6,943C185.8,942.3 184.5,941.4 183,940.3C181.5,939.3 179.1,938.2 178.7,936.8C178.3,935.4 179.8,933.4 180.7,931.8C181.5,930.2 182.7,928.9 184,927.4C185.4,926 186.8,923.9 188.8,923.1C190.8,922.2 193.6,922.5 196,922.4C198.4,922.4 201.1,922 203,922.6C204.9,923.2 206.5,924.6 207.5,925.9C208.6,927.2 209.1,928.8 209.4,930.3Z" fill="none" stroke="#ffffff" stroke-width="2" stroke-linejoin="round"/>
<path d="M209.4,930.3C209.8,931.8 210.2,933.5 209.6,935.1C209,936.6 207.4,938.2 205.8,939.5C204.3,940.9 202.5,942.3 200.5,943.1C198.4,944 195.7,944.7 193.6,944.6C191.4,944.6 189.3,943.7 187.6,943C185.8,942.3 184.5,941.4 183,940.3C181.5,939.3 179.1,938.2 178.7,936.8C178.3,935.4 179.8,933.4 180.7,931.8C181.5,930.2 182.7,928.9 184,927.4C185.4,926 186.8,923.9 188.8,923.1C190.8,922.2 193.6,922.5 196,922.4C198.4,922.4 201.1,922 203,922.6C204.9,923.2 206.5,924.6 207.5,925.9C208.6,927.2 209.1,928.8 209.4,930.3Z" fill="none" stroke="#333" stroke-width="0.7" stroke-linejoin="round"/>
<path d="M226.7,924.2C226.7,925.9 226.5,927.5 225.9,929.3C225.3,931 224.9,933 223.3,934.6C221.7,936.2 219,937.6 216.6,938.8C214.1,940 211.5,940.9 208.8,941.7C206.1,942.5 203.3,943.3 200.4,943.6C197.5,944 194,944.4 191.6,943.9C189.1,943.4 187.1,942 185.7,940.6C184.2,939.3 182.8,937.7 182.6,936C182.5,934.2 184.1,932.2 184.9,930.4C185.7,928.5 185.9,926.6 187.5,924.9C189.1,923.3 192,921.8 194.4,920.6C196.9,919.4 199.7,918.4 202.4,917.7C205.1,917.1 207.9,916.7 210.5,916.7C213.2,916.6 215.6,916.9 218.2,917.2C220.7,917.6 224.5,917.6 225.9,918.8C227.4,919.9 226.7,922.4 226.7,924.2Z" fill="none" stroke="#ffffff" stroke-width="2" stroke-linejoin="round"/>
<path d="M226.7,924.2C226.7,925.9 226.5,927.5 225.9,929.3C225.3,931 224.9,933 223.3,934.6C221.7,936.2 219,937.6 216.6,938.8C214.1,940 211.5,940.9 208.8,941.7C206.1,942.5 203.3,943.3 200.4,943.6C197.5,944 194,944.4 191.6,943.9C189.1,943.4 187.1,942 185.7,940.6C184.2,939.3 182.8,937.7 182.6,936C182.5,934.2 184.1,932.2 184.9,930.4C185.7,928.5 185.9,926.6 187.5,924.9C189.1,923.3 192,921.8 194.4,920.6C196.9,919.4 199.7,918.4 202.4,917.7C205.1,917.1 207.9,916.7 210.5,916.7C213.2,916.6 215.6,916.9 218.2,917.2C220.7,917.6 224.5,917.6 225.9,918.8C227.4,919.9 226.7,922.4 226.7,924.2Z" fill="none" stroke="#333" stroke-width="0.7" stroke-linejoin="round"/>
<circle cx="165.05" cy="885.04" r="1.5" fill="#111"/>
<circle cx="165.05" cy="895" r="1.5" fill="#111"/>
<circle cx="171.77" cy="908.21" r="1.5" fill="#111"/>
<circle cx="193.85" cy="880.24" r="1.5" fill="#111"/>
<circle cx="198.65" cy="902.57" r="1.5" fill="#111"/>
<circle cx="144.4" cy="937.01" r="1.5" fill="#111"/>
<path d="M380.8,935.8C381,933.2 382,930.8 383.2,928.6C384.4,926.4 386.2,924.4 388,922.6C389.8,920.8 392.8,919.2 394,917.8C395.2,916.4 394,915.1 395.2,914.2C396.4,913.3 399,912.9 401.2,912.4C403.4,911.9 406.8,910.9 408.4,911.2C410,911.5 410.2,912.5 410.8,914.2C411.4,915.9 411.2,919.6 412,921.4C412.8,923.2 413.8,924.4 415.6,925C417.4,925.6 420.8,925.6 422.8,925C424.8,924.4 426.1,922.2 427.6,921.4C429.1,920.6 431,919.4 431.8,920.2C432.6,921 432.7,924.2 432.4,926.2C432.1,928.2 431.2,930.4 430,932.2C428.8,934 426.4,935.2 425.2,937C424,938.8 424,941.5 422.8,943C421.6,944.5 420,945.5 418,946C416,946.5 413.2,945.5 410.8,946C408.4,946.5 406.4,948.5 403.6,949C400.8,949.5 396.8,949.1 394,949C391.2,948.9 388.8,949.2 386.8,948.4C384.8,947.6 383,946.3 382,944.2C381,942.1 380.6,938.4 380.8,935.8Z" fill="#f25050" stroke="#111" stroke-width="1.5" stroke-linejoin="round"/>
<ellipse cx="402.41" cy="916.01" rx="4.8" ry="3" fill="#f8b8b8" filter="url(#bl1)" opacity="0.9"/>
<ellipse cx="425.21" cy="928.61" rx="4.8" ry="4.8" fill="#f8b0b0" filter="url(#bl1)" opacity="0.9"/>
<ellipse cx="415.61" cy="940.61" rx="4.8" ry="3.6" fill="#f8b0b0" filter="url(#bl1)" opacity="0.8"/>
<ellipse cx="395.81" cy="939.17" rx="4.56" ry="2.64" fill="#f9c8c8" filter="url(#bl1)" opacity="0.95"/>
<ellipse cx="400.01" cy="922.61" rx="4.8" ry="2.4" fill="#f01818" filter="url(#bl1)" opacity="0.7"/>
<path d="M380.8,935.8C381,933.2 382,930.8 383.2,928.6C384.4,926.4 386.8,922.2 388,922.6C389.2,923 389.4,926.6 390.4,931C391.4,935.4 394.6,946.1 394,949C393.4,951.9 388.8,949.2 386.8,948.4C384.8,947.6 383,946.3 382,944.2C381,942.1 380.6,938.4 380.8,935.8Z" fill="none" stroke="#f41d1d" stroke-width="1.4" opacity="0"/>
<path d="M401.6,939.2C401.7,939.9 401.5,940.9 400.8,941.5C400.2,942.1 398.8,942.7 397.7,942.9C396.6,943.1 395.1,943 394,942.7C392.9,942.5 391.6,942 391,941.4C390.3,940.8 389.8,939.9 389.8,939.2C389.8,938.4 390.2,937.5 390.9,936.9C391.6,936.2 392.8,935.6 393.9,935.4C395,935.2 396.5,935.4 397.6,935.7C398.7,935.9 399.8,936.4 400.4,937C401.1,937.6 401.5,938.4 401.6,939.2Z" fill="none" stroke="#ffffff" stroke-width="1.4" stroke-linejoin="round"/>
<path d="M407.1,938.2C407.2,939.4 406.6,940.9 405.6,941.8C404.7,942.8 402.8,943.5 401.3,944C399.7,944.5 398.1,944.8 396.4,944.9C394.7,945 392.6,945 391.1,944.4C389.6,943.9 388.2,942.8 387.4,941.8C386.5,940.7 386,939.4 386,938.2C386.1,937 386.9,935.8 387.7,934.8C388.6,933.8 389.8,932.7 391.3,932.1C392.7,931.5 394.7,931.2 396.4,931.2C398.1,931.2 400.1,931.5 401.5,932.1C403,932.7 404,933.8 404.9,934.8C405.9,935.9 407,937 407.1,938.2Z" fill="none" stroke="#ffffff" stroke-width="1.4" stroke-linejoin="round"/>
<path d="M412.7,935.7C412.8,937.3 412.9,939 412.1,940.4C411.4,941.8 409.7,943.2 408.1,944.3C406.5,945.4 404.5,946.5 402.5,947.1C400.4,947.7 397.8,948 395.7,947.7C393.7,947.5 391.7,946.5 390.1,945.6C388.4,944.7 387.1,943.6 385.9,942.4C384.7,941.2 382.9,939.8 382.7,938.4C382.5,936.9 383.8,935.1 384.7,933.7C385.7,932.3 387,931 388.5,929.8C390,928.6 391.7,927 393.7,926.4C395.8,925.9 398.4,926.3 400.6,926.5C402.9,926.7 405.4,926.8 407.2,927.6C408.9,928.4 410.3,929.9 411.2,931.3C412.2,932.6 412.5,934.2 412.7,935.7Z" fill="none" stroke="#ffffff" stroke-width="1.4" stroke-linejoin="round"/>
<path d="M418.6,931C418.6,931.7 418.3,932.6 417.8,933.1C417.3,933.7 416.5,934.2 415.7,934.4C414.9,934.6 413.9,934.6 413.1,934.4C412.3,934.2 411.5,933.7 411,933.1C410.5,932.6 410.2,931.7 410.2,931C410.2,930.3 410.5,929.5 411,928.9C411.5,928.3 412.3,927.8 413.1,927.6C413.9,927.4 414.9,927.4 415.7,927.6C416.5,927.8 417.3,928.3 417.8,928.9C418.3,929.5 418.6,930.3 418.6,931Z" fill="none" stroke="#ffffff" stroke-width="1.4" stroke-linejoin="round"/>
<ellipse cx="365.8" cy="892" rx="5.4" ry="1.56" fill="#0a0a0a" transform="rotate(-15 365.8 892.0)"/>
<ellipse cx="373" cy="943.61" rx="5.04" ry="1.92" fill="#0a0a0a" transform="rotate(25 373.0 943.6)"/>
<ellipse cx="377.81" cy="935.21" rx="2.4" ry="2.16" fill="#0a0a0a" transform="rotate(0 377.8 935.2)"/>
<circle cx="395.21" cy="887.32" r="1.3" fill="#111"/>
<circle cx="399.65" cy="896.8" r="1.3" fill="#111"/>
<circle cx="361.6" cy="908.45" r="1.3" fill="#111"/>
<circle cx="377.81" cy="913.61" r="1.3" fill="#f41d1d"/>
<polyline points="103.4,595.6 260.6,595.6 260.6,753.2" fill="none" stroke="#8c8c8c" stroke-width="1.2"/>
<polyline points="103.4,595.1 103.4,753.2 261.1,753.2" fill="none" stroke="#1a1a1a" stroke-width="1.2"/>
<line x1="178.6" y1="595.6" x2="178.6" y2="753.2" stroke="#111" stroke-width="1.7"/>
<line x1="103.4" y1="702" x2="260.6" y2="702" stroke="#111" stroke-width="1.7"/>
<path d="M103.4,595.6h-3.8M103.4,631.2h-3.8M103.4,666.8h-3.8M103.4,704.3h-3.8M103.4,736.7h-3.8M119.1,753.2v3.8M153.7,753.2v3.8M200.9,753.2v3.8M230.7,753.2v3.8M260.6,753.2v3.8" fill="none" stroke="#222" stroke-width="1"/>
<path d="M103.4,620.5h-1.8M103.4,614.2h-1.8M103.4,609.8h-1.8M103.4,606.3h-1.8M103.4,603.5h-1.8M103.4,601.1h-1.8M103.4,599.1h-1.8M103.4,597.2h-1.8M103.4,656.1h-1.8M103.4,649.8h-1.8M103.4,645.4h-1.8M103.4,641.9h-1.8M103.4,639.1h-1.8M103.4,636.7h-1.8M103.4,634.7h-1.8M103.4,632.8h-1.8M103.4,693.1h-1.8M103.4,686.4h-1.8M103.4,681.8h-1.8M103.4,678.1h-1.8M103.4,675.2h-1.8M103.4,672.6h-1.8M103.4,670.5h-1.8M103.4,668.6h-1.8M103.4,714.2h-1.8M103.4,710.3h-1.8M103.4,707.8h-1.8M103.4,705.9h-1.8M143.2,753.2v1.8M147.3,753.2v1.8M150,753.2v1.8M152.1,753.2v1.8M167.9,753.2v1.8M176.2,753.2v1.8M182.1,753.2v1.8M186.7,753.2v1.8M190.4,753.2v1.8M193.6,753.2v1.8M196.3,753.2v1.8M198.7,753.2v1.8M209.9,753.2v1.8M215.1,753.2v1.8M218.8,753.2v1.8M221.7,753.2v1.8M224.1,753.2v1.8M226.1,753.2v1.8M227.8,753.2v1.8M229.4,753.2v1.8M239.7,753.2v1.8M245,753.2v1.8M248.7,753.2v1.8M251.6,753.2v1.8M254,753.2v1.8M256,753.2v1.8M257.7,753.2v1.8M259.2,753.2v1.8" fill="none" stroke="#555" stroke-width="0.7"/>
<rect x="98.9" y="733.5" width="4" height="5" fill="#111"/>
<line x1="110.47" y1="753.2" x2="110.47" y2="755.8" stroke="#111" stroke-width="1"/>
<line x1="113.62" y1="753.2" x2="113.62" y2="755.8" stroke="#111" stroke-width="1"/>
<line x1="116.76" y1="753.2" x2="116.76" y2="755.8" stroke="#111" stroke-width="1"/>
<line x1="119.91" y1="753.2" x2="119.91" y2="755.8" stroke="#111" stroke-width="1"/>
<line x1="123.05" y1="753.2" x2="123.05" y2="755.8" stroke="#111" stroke-width="1"/>
<line x1="126.19" y1="753.2" x2="126.19" y2="755.8" stroke="#111" stroke-width="1"/>
<polyline points="305.2,595.6 464.8,595.6 464.8,754.6" fill="none" stroke="#8c8c8c" stroke-width="1.2"/>
<polyline points="305.2,595.1 305.2,754.6 465.3,754.6" fill="none" stroke="#1a1a1a" stroke-width="1.2"/>
<line x1="382" y1="595.6" x2="382" y2="754.6" stroke="#111" stroke-width="1.7"/>
<line x1="305.2" y1="702.8" x2="464.8" y2="702.8" stroke="#111" stroke-width="1.7"/>
<path d="M305.2,595.6h-3.8M305.2,631.5h-3.8M305.2,667.5h-3.8M305.2,705.3h-3.8M305.2,737.9h-3.8M321.2,754.6v3.8M356.3,754.6v3.8M404.2,754.6v3.8M434.5,754.6v3.8M464.8,754.6v3.8" fill="none" stroke="#222" stroke-width="1"/>
<path d="M305.2,620.7h-1.8M305.2,614.4h-1.8M305.2,609.9h-1.8M305.2,606.4h-1.8M305.2,603.6h-1.8M305.2,601.2h-1.8M305.2,599.1h-1.8M305.2,597.2h-1.8M305.2,656.7h-1.8M305.2,650.3h-1.8M305.2,645.8h-1.8M305.2,642.4h-1.8M305.2,639.5h-1.8M305.2,637.1h-1.8M305.2,635h-1.8M305.2,633.2h-1.8M305.2,693.9h-1.8M305.2,687.3h-1.8M305.2,682.5h-1.8M305.2,678.9h-1.8M305.2,675.9h-1.8M305.2,673.3h-1.8M305.2,671.1h-1.8M305.2,669.2h-1.8M305.2,715.2h-1.8M305.2,711.4h-1.8M305.2,708.8h-1.8M305.2,706.9h-1.8M345.6,754.6v1.8M349.8,754.6v1.8M352.5,754.6v1.8M354.6,754.6v1.8M370.7,754.6v1.8M379.1,754.6v1.8M385.1,754.6v1.8M389.7,754.6v1.8M393.5,754.6v1.8M396.7,754.6v1.8M399.5,754.6v1.8M402,754.6v1.8M413.3,754.6v1.8M418.6,754.6v1.8M422.4,754.6v1.8M425.3,754.6v1.8M427.7,754.6v1.8M429.8,754.6v1.8M431.5,754.6v1.8M433.1,754.6v1.8M443.6,754.6v1.8M448.9,754.6v1.8M452.7,754.6v1.8M455.7,754.6v1.8M458.1,754.6v1.8M460.1,754.6v1.8M461.9,754.6v1.8M463.4,754.6v1.8" fill="none" stroke="#555" stroke-width="0.7"/>
<rect x="300.7" y="734.73" width="4" height="5" fill="#111"/>
<line x1="312.38" y1="754.6" x2="312.38" y2="757.2" stroke="#111" stroke-width="1"/>
<line x1="315.57" y1="754.6" x2="315.57" y2="757.2" stroke="#111" stroke-width="1"/>
<line x1="318.77" y1="754.6" x2="318.77" y2="757.2" stroke="#111" stroke-width="1"/>
<line x1="321.96" y1="754.6" x2="321.96" y2="757.2" stroke="#111" stroke-width="1"/>
<line x1="325.15" y1="754.6" x2="325.15" y2="757.2" stroke="#111" stroke-width="1"/>
<line x1="328.34" y1="754.6" x2="328.34" y2="757.2" stroke="#111" stroke-width="1"/>
<polyline points="101.4,808.6 261.4,808.6 261.4,968.2" fill="none" stroke="#8c8c8c" stroke-width="1.2"/>
<polyline points="101.4,808.1 101.4,968.2 261.9,968.2" fill="none" stroke="#1a1a1a" stroke-width="1.2"/>
<line x1="178" y1="808.6" x2="178" y2="968.2" stroke="#111" stroke-width="1.7"/>
<line x1="101.4" y1="916" x2="261.4" y2="916" stroke="#111" stroke-width="1.7"/>
<path d="M101.4,808.6h-3.8M101.4,844.7h-3.8M101.4,880.7h-3.8M101.4,918.7h-3.8M101.4,951.4h-3.8M117.4,968.2v3.8M152.6,968.2v3.8M200.6,968.2v3.8M231,968.2v3.8M261.4,968.2v3.8" fill="none" stroke="#222" stroke-width="1"/>
<path d="M101.4,833.8h-1.8M101.4,827.5h-1.8M101.4,823h-1.8M101.4,819.5h-1.8M101.4,816.6h-1.8M101.4,814.2h-1.8M101.4,812.1h-1.8M101.4,810.3h-1.8M101.4,869.9h-1.8M101.4,863.5h-1.8M101.4,859h-1.8M101.4,855.5h-1.8M101.4,852.7h-1.8M101.4,850.3h-1.8M101.4,848.2h-1.8M101.4,846.3h-1.8M101.4,907.3h-1.8M101.4,900.6h-1.8M101.4,895.9h-1.8M101.4,892.2h-1.8M101.4,889.2h-1.8M101.4,886.6h-1.8M101.4,884.4h-1.8M101.4,882.5h-1.8M101.4,928.7h-1.8M101.4,924.8h-1.8M101.4,922.2h-1.8M101.4,920.3h-1.8M141.9,968.2v1.8M146.1,968.2v1.8M148.8,968.2v1.8M150.9,968.2v1.8M167,968.2v1.8M175.5,968.2v1.8M181.5,968.2v1.8M186.2,968.2v1.8M190,968.2v1.8M193.2,968.2v1.8M195.9,968.2v1.8M198.4,968.2v1.8M209.8,968.2v1.8M215.1,968.2v1.8M218.9,968.2v1.8M221.8,968.2v1.8M224.3,968.2v1.8M226.3,968.2v1.8M228.1,968.2v1.8M229.6,968.2v1.8M240.2,968.2v1.8M245.5,968.2v1.8M249.3,968.2v1.8M252.2,968.2v1.8M254.7,968.2v1.8M256.7,968.2v1.8M258.5,968.2v1.8M260,968.2v1.8" fill="none" stroke="#555" stroke-width="0.7"/>
<rect x="96.9" y="948.25" width="4" height="5" fill="#111"/>
<line x1="108.6" y1="968.2" x2="108.6" y2="970.8" stroke="#111" stroke-width="1"/>
<line x1="111.8" y1="968.2" x2="111.8" y2="970.8" stroke="#111" stroke-width="1"/>
<line x1="115" y1="968.2" x2="115" y2="970.8" stroke="#111" stroke-width="1"/>
<line x1="118.2" y1="968.2" x2="118.2" y2="970.8" stroke="#111" stroke-width="1"/>
<line x1="121.4" y1="968.2" x2="121.4" y2="970.8" stroke="#111" stroke-width="1"/>
<line x1="124.6" y1="968.2" x2="124.6" y2="970.8" stroke="#111" stroke-width="1"/>
<polyline points="303.4,809.8 463,809.8 463,968.8" fill="none" stroke="#8c8c8c" stroke-width="1.2"/>
<polyline points="303.4,809.3 303.4,968.8 463.5,968.8" fill="none" stroke="#1a1a1a" stroke-width="1.2"/>
<line x1="379.6" y1="809.8" x2="379.6" y2="968.8" stroke="#111" stroke-width="1.7"/>
<line x1="303.4" y1="917.2" x2="463" y2="917.2" stroke="#111" stroke-width="1.7"/>
<path d="M303.4,809.8h-3.8M303.4,845.7h-3.8M303.4,881.7h-3.8M303.4,919.5h-3.8M303.4,952.1h-3.8M319.4,968.8v3.8M354.5,968.8v3.8M402.4,968.8v3.8M432.7,968.8v3.8M463,968.8v3.8" fill="none" stroke="#222" stroke-width="1"/>
<path d="M303.4,834.9h-1.8M303.4,828.6h-1.8M303.4,824.1h-1.8M303.4,820.6h-1.8M303.4,817.8h-1.8M303.4,815.4h-1.8M303.4,813.3h-1.8M303.4,811.4h-1.8M303.4,870.9h-1.8M303.4,864.5h-1.8M303.4,860h-1.8M303.4,856.6h-1.8M303.4,853.7h-1.8M303.4,851.3h-1.8M303.4,849.2h-1.8M303.4,847.4h-1.8M303.4,908.1h-1.8M303.4,901.5h-1.8M303.4,896.7h-1.8M303.4,893.1h-1.8M303.4,890.1h-1.8M303.4,887.5h-1.8M303.4,885.3h-1.8M303.4,883.4h-1.8M303.4,929.4h-1.8M303.4,925.6h-1.8M303.4,923h-1.8M303.4,921.1h-1.8M343.8,968.8v1.8M348,968.8v1.8M350.7,968.8v1.8M352.8,968.8v1.8M368.9,968.8v1.8M377.3,968.8v1.8M383.3,968.8v1.8M387.9,968.8v1.8M391.7,968.8v1.8M394.9,968.8v1.8M397.7,968.8v1.8M400.2,968.8v1.8M411.5,968.8v1.8M416.8,968.8v1.8M420.6,968.8v1.8M423.5,968.8v1.8M425.9,968.8v1.8M428,968.8v1.8M429.7,968.8v1.8M431.3,968.8v1.8M441.8,968.8v1.8M447.1,968.8v1.8M450.9,968.8v1.8M453.9,968.8v1.8M456.3,968.8v1.8M458.3,968.8v1.8M460.1,968.8v1.8M461.6,968.8v1.8" fill="none" stroke="#555" stroke-width="0.7"/>
<rect x="298.9" y="948.92" width="4" height="5" fill="#111"/>
<line x1="310.58" y1="968.8" x2="310.58" y2="971.4" stroke="#111" stroke-width="1"/>
<line x1="313.77" y1="968.8" x2="313.77" y2="971.4" stroke="#111" stroke-width="1"/>
<line x1="316.97" y1="968.8" x2="316.97" y2="971.4" stroke="#111" stroke-width="1"/>
<line x1="320.16" y1="968.8" x2="320.16" y2="971.4" stroke="#111" stroke-width="1"/>
<line x1="323.35" y1="968.8" x2="323.35" y2="971.4" stroke="#111" stroke-width="1"/>
<line x1="326.54" y1="968.8" x2="326.54" y2="971.4" stroke="#111" stroke-width="1"/>
<text x="177.7" y="590.6" font-size="23.2" text-anchor="middle">AAV-Vec.</text>
<text x="387.1" y="589.2" font-size="23.4" text-anchor="middle">AAV-miR-29b</text>
<text x="179.8" y="803.7" font-size="23.5" text-anchor="middle">AAV-Vec./RT</text>
<text x="391.9" y="800.8" font-size="23.5" text-anchor="middle">AAV-miR-29b/RT</text>
<text x="71" y="609.4" font-size="15.8" letter-spacing="0.2">10<tspan font-size="9.48" dy="-6.64">5</tspan><tspan dy="6.64" font-size="1">&#8203;</tspan></text>
<text x="71.8" y="675" font-size="15.8" letter-spacing="0.2">10<tspan font-size="9.48" dy="-6.64">3</tspan><tspan dy="6.64" font-size="1">&#8203;</tspan></text>
<text x="85.6" y="743.8" font-size="15.8" text-anchor="middle">0</text>
<text x="271.4" y="609.4" font-size="15.8" letter-spacing="0.2">10<tspan font-size="9.48" dy="-6.64">5</tspan><tspan dy="6.64" font-size="1">&#8203;</tspan></text>
<text x="272.2" y="675" font-size="15.8" letter-spacing="0.2">10<tspan font-size="9.48" dy="-6.64">3</tspan><tspan dy="6.64" font-size="1">&#8203;</tspan></text>
<text x="286.6" y="742.4" font-size="15.8" text-anchor="middle">0</text>
<text x="71" y="824.2" font-size="15.8" letter-spacing="0.2">10<tspan font-size="9.48" dy="-6.64">5</tspan><tspan dy="6.64" font-size="1">&#8203;</tspan></text>
<text x="71.8" y="888" font-size="15.8" letter-spacing="0.2">10<tspan font-size="9.48" dy="-6.64">3</tspan><tspan dy="6.64" font-size="1">&#8203;</tspan></text>
<text x="85.6" y="955.2" font-size="15.8" text-anchor="middle">0</text>
<text x="271.4" y="820" font-size="15.8" letter-spacing="0.2">10<tspan font-size="9.48" dy="-6.64">5</tspan><tspan dy="6.64" font-size="1">&#8203;</tspan></text>
<text x="272.2" y="907.8" font-size="15.8" letter-spacing="0.2">10<tspan font-size="9.48" dy="-6.64">3</tspan><tspan dy="6.64" font-size="1">&#8203;</tspan></text>
<text x="287.4" y="954" font-size="15.8" text-anchor="middle">0</text>
<text x="122.8" y="772.6" font-size="15.8" text-anchor="middle">0</text>
<text x="185.6" y="773.6" font-size="15.8" letter-spacing="0.2">10<tspan font-size="9.48" dy="-6.64">3</tspan><tspan dy="6.64" font-size="1">&#8203;</tspan></text>
<text x="246.1" y="773.6" font-size="15.8" letter-spacing="0.2">10<tspan font-size="9.48" dy="-6.64">5</tspan><tspan dy="6.64" font-size="1">&#8203;</tspan></text>
<text x="325.9" y="773" font-size="15.8" text-anchor="middle">0</text>
<text x="388" y="774" font-size="15.8" letter-spacing="0.2">10<tspan font-size="9.48" dy="-6.64">3</tspan><tspan dy="6.64" font-size="1">&#8203;</tspan></text>
<text x="450.6" y="774" font-size="15.8" letter-spacing="0.2">10<tspan font-size="9.48" dy="-6.64">5</tspan><tspan dy="6.64" font-size="1">&#8203;</tspan></text>
<text x="116.4" y="986.5" font-size="15.8" text-anchor="middle">0</text>
<text x="183.3" y="987.5" font-size="15.8" letter-spacing="0.2">10<tspan font-size="9.48" dy="-6.64">3</tspan><tspan dy="6.64" font-size="1">&#8203;</tspan></text>
<text x="246.1" y="987.5" font-size="15.8" letter-spacing="0.2">10<tspan font-size="9.48" dy="-6.64">5</tspan><tspan dy="6.64" font-size="1">&#8203;</tspan></text>
<text x="322.4" y="986.5" font-size="15.8" text-anchor="middle">0</text>
<text x="386.2" y="987.5" font-size="15.8" letter-spacing="0.2">10<tspan font-size="9.48" dy="-6.64">3</tspan><tspan dy="6.64" font-size="1">&#8203;</tspan></text>
<text x="447.1" y="987.5" font-size="15.8" letter-spacing="0.2">10<tspan font-size="9.48" dy="-6.64">5</tspan><tspan dy="6.64" font-size="1">&#8203;</tspan></text>
<text x="217.2" y="738.4" font-size="25.6">T</text>
<text x="234.6" y="746.6" font-size="14.6">EM</text>
<text x="423.6" y="740.6" font-size="25.6">T</text>
<text x="440.2" y="749.6" font-size="14.6">EM</text>
<text x="217.8" y="952.8" font-size="25.6">T</text>
<text x="234.6" y="961.6" font-size="14.6">EM</text>
<text x="420.6" y="952.8" font-size="25.6">T</text>
<text x="437.2" y="961.6" font-size="14.6">EM</text>
<rect x="580.2" y="794.7" width="22.6" height="122.8" fill="#d4d4d4" stroke="#000" stroke-width="1.6"/>
<rect x="618" y="767" width="22.9" height="150.5" fill="#f3999e" stroke="#000" stroke-width="1.6"/>
<rect x="655.8" y="744.6" width="22.9" height="172.9" fill="#606060" stroke="#000" stroke-width="1.6"/>
<rect x="692.9" y="688.8" width="22.6" height="228.7" fill="#f53b40" stroke="#000" stroke-width="1.6"/>
<line x1="591.6" y1="787.1" x2="591.6" y2="793.9" stroke="#000" stroke-width="1.5"/>
<line x1="585.6" y1="787.1" x2="597.6" y2="787.1" stroke="#000" stroke-width="1.5"/>
<line x1="629.4" y1="749.3" x2="629.4" y2="766.2" stroke="#000" stroke-width="1.5"/>
<line x1="623.25" y1="749.3" x2="635.55" y2="749.3" stroke="#000" stroke-width="1.5"/>
<line x1="666.9" y1="737" x2="666.9" y2="743.8" stroke="#000" stroke-width="1.5"/>
<line x1="660.9" y1="737" x2="672.9" y2="737" stroke="#000" stroke-width="1.5"/>
<line x1="704.4" y1="684" x2="704.4" y2="688" stroke="#000" stroke-width="1.5"/>
<line x1="699.4" y1="684" x2="709.4" y2="684" stroke="#000" stroke-width="1.5"/>
<line x1="567.1" y1="654.8" x2="567.1" y2="918.5" stroke="#000" stroke-width="2"/>
<line x1="556.3" y1="917.5" x2="730.6" y2="917.5" stroke="#000" stroke-width="2"/>
<line x1="556.3" y1="655.8" x2="567.1" y2="655.8" stroke="#000" stroke-width="2"/>
<line x1="556.3" y1="709.3" x2="567.1" y2="709.3" stroke="#000" stroke-width="2"/>
<text x="552.6" y="716.7" font-size="22.3" text-anchor="end">20</text>
<line x1="556.3" y1="760.5" x2="567.1" y2="760.5" stroke="#000" stroke-width="2"/>
<line x1="556.3" y1="812.8" x2="567.1" y2="812.8" stroke="#000" stroke-width="2"/>
<text x="553.7" y="820.9" font-size="22.3" text-anchor="end">10</text>
<line x1="556.3" y1="864.6" x2="567.1" y2="864.6" stroke="#000" stroke-width="2"/>
<line x1="556.3" y1="917.5" x2="567.1" y2="917.5" stroke="#000" stroke-width="2"/>
<text x="553.7" y="923.4" font-size="22.3" text-anchor="end">0</text>
<line x1="591" y1="917.5" x2="591" y2="926" stroke="#000" stroke-width="1.7"/>
<line x1="628.8" y1="917.5" x2="628.8" y2="926" stroke="#000" stroke-width="1.7"/>
<line x1="666.6" y1="917.5" x2="666.6" y2="926" stroke="#000" stroke-width="1.7"/>
<line x1="704.7" y1="917.5" x2="704.7" y2="926" stroke="#000" stroke-width="1.7"/>
<circle cx="591.6" cy="781.8" r="4.6" fill="#fff" stroke="#000" stroke-width="1.6"/>
<circle cx="584.3" cy="800.4" r="4.6" fill="#fff" stroke="#000" stroke-width="1.6"/>
<circle cx="599.7" cy="795.8" r="4.6" fill="#fff" stroke="#000" stroke-width="1.6"/>
<rect x="624.75" y="729.55" width="9.3" height="9.3" fill="#fff" stroke="#000" stroke-width="1.6"/>
<rect x="617.05" y="776.45" width="9.3" height="9.3" fill="#fff" stroke="#000" stroke-width="1.6"/>
<rect x="631.85" y="775.35" width="9.3" height="9.3" fill="#fff" stroke="#000" stroke-width="1.6"/>
<circle cx="666.9" cy="719.1" r="4.6" fill="#fff" stroke="#000" stroke-width="1.6"/>
<circle cx="666.9" cy="734.2" r="4.6" fill="#fff" stroke="#000" stroke-width="1.6"/>
<circle cx="659.2" cy="763.3" r="4.6" fill="#fff" stroke="#000" stroke-width="1.6"/>
<circle cx="674.6" cy="758" r="4.6" fill="#fff" stroke="#000" stroke-width="1.6"/>
<rect x="692.35" y="677.75" width="9.3" height="9.3" fill="#fff" stroke="#000" stroke-width="1.6"/>
<rect x="707.45" y="679.15" width="9.3" height="9.3" fill="#fff" stroke="#000" stroke-width="1.6"/>
<rect x="699.75" y="692.15" width="9.3" height="9.3" fill="#fff" stroke="#000" stroke-width="1.6"/>
<polyline points="595.9,770.6 595.9,689.7 667.9,689.7 667.9,706.5" fill="none" stroke="#000" stroke-width="1.7"/>
<polyline points="666.9,674.4 666.9,661.8 704,661.8 704,670.5" fill="none" stroke="#000" stroke-width="1.7"/>
<text x="634.4" y="690.7" font-size="22" text-anchor="middle">*</text>
<text x="685.8" y="664.1" font-size="22" text-anchor="middle">*</text>
<text x="510.1" y="790.5" font-size="27.4" text-anchor="middle" transform="rotate(-90 510.1 790.5)">% of CD3<tspan font-size="17" dy="-10">+</tspan><tspan dy="10" font-size="1">&#8203;</tspan>CD45<tspan font-size="17" dy="-10">+</tspan><tspan dy="10" font-size="1">&#8203;</tspan> T cells</text>
<text x="644.5" y="625" font-size="27.5" text-anchor="middle">CD4 T<tspan font-size="15" dy="9.8">EM</tspan><tspan dy="-9.8" font-size="1">&#8203;</tspan></text>
<text x="743.9" y="555" font-size="56.5">E</text>
<line x1="811.6" y1="602.2" x2="811.6" y2="993" stroke="#000" stroke-width="2.2"/>
<polygon points="811.6,589.2 806,603.2 817.2,603.2" fill="#000"/>
<line x1="810.5" y1="991.9" x2="1206.7" y2="991.9" stroke="#000" stroke-width="2.2"/>
<polygon points="1219.7,991.9 1205.7,986.3 1205.7,997.5" fill="#000"/>
<text x="800.3" y="771" font-size="23" text-anchor="middle" transform="rotate(-90 800.3 771)">CD62L-APC</text>
<text x="1027" y="1012.6" font-size="23.3" text-anchor="middle">CD44-PE</text>
<path d="M930.6,723C930.8,721.6 931.3,719.4 932.4,718.2C933.5,717 936.6,717 937.2,715.8C937.8,714.6 935.8,711.9 936,711C936.2,710.1 937.8,709.8 938.4,710.4C939,711 938,714.3 939.6,714.6C941.2,714.9 945.2,712.6 948,712.2C950.8,711.8 954.4,711.2 956.4,712.2C958.4,713.2 958.6,716 960,718.2C961.4,720.4 964.8,723.8 964.8,725.4C964.8,727 962.8,727.4 960,727.8C957.2,728.2 952,727.7 948,727.8C944,727.9 938.8,728.6 936,728.4C933.2,728.2 932.1,727.5 931.2,726.6C930.3,725.7 930.4,724.4 930.6,723Z" fill="#e6e6e6" stroke="#dedede" stroke-width="0.8" stroke-linejoin="round"/>
<path d="M924,682.2C924.1,681.2 924.8,679.9 926.4,678.6C928,677.3 931.4,675.5 933.6,674.4C935.8,673.3 938.4,671.7 939.6,672C940.8,672.3 941.6,674.9 940.8,676.2C940,677.5 936.8,678.5 934.8,679.8C932.8,681.1 930.3,683.2 928.8,684C927.3,684.8 926.6,684.9 925.8,684.6C925,684.3 923.9,683.2 924,682.2Z" fill="#e6e6e6" stroke="#dedede" stroke-width="0.8" stroke-linejoin="round"/>
<path d="M949.8,682.2C949.8,683.1 949.4,684.2 948.9,684.9C948.3,685.6 947.4,686.3 946.5,686.5C945.6,686.8 944.4,686.8 943.5,686.5C942.6,686.3 941.7,685.6 941.1,684.9C940.6,684.2 940.2,683.1 940.2,682.2C940.2,681.3 940.6,680.2 941.1,679.5C941.7,678.8 942.6,678.1 943.5,677.9C944.4,677.6 945.6,677.6 946.5,677.9C947.4,678.1 948.3,678.8 948.9,679.5C949.4,680.2 949.8,681.3 949.8,682.2Z" fill="#e6e6e6" stroke="#dedede" stroke-width="0.8" stroke-linejoin="round"/>
<ellipse cx="937.21" cy="661.8" rx="1.8" ry="1.8" fill="#ececec"/>
<ellipse cx="944.41" cy="667.8" rx="1.8" ry="1.8" fill="#ececec"/>
<ellipse cx="931.45" cy="689.41" rx="1.68" ry="2.88" fill="#ececec"/>
<ellipse cx="932.41" cy="696.61" rx="1.44" ry="2.4" fill="#ececec"/>
<ellipse cx="900" cy="696.01" rx="1.44" ry="1.44" fill="#ececec"/>
<path d="M958.8,720C958.8,721.1 958.3,722.3 957.4,723.2C956.6,724 955.2,724.8 953.8,725.1C952.5,725.5 950.7,725.5 949.4,725.1C948,724.8 946.6,724 945.8,723.2C945,722.3 944.4,721.1 944.4,720C944.4,718.9 945,717.7 945.8,716.8C946.6,716 948,715.2 949.4,714.9C950.7,714.5 952.5,714.5 953.8,714.9C955.2,715.2 956.6,716 957.4,716.8C958.3,717.7 958.8,718.9 958.8,720Z" fill="none" stroke="#f2f2f2" stroke-width="0.8" stroke-linejoin="round"/>
<path d="M1124.2,718.2C1124.5,717 1125.5,715 1127.2,714C1128.9,713 1132.2,712.9 1134.4,712.2C1136.6,711.5 1138.6,710.8 1140.4,709.8C1142.2,708.8 1143.4,706.5 1145.2,706.2C1147,705.9 1149.4,708.2 1151.2,708C1153,707.8 1154.2,705.6 1156,705C1157.8,704.4 1161,703.6 1162,704.4C1163,705.2 1161,708.7 1162,709.8C1163,710.9 1166.2,710.6 1168,711C1169.8,711.4 1172.4,711.2 1172.8,712.2C1173.2,713.2 1171.4,715.2 1170.4,717C1169.4,718.8 1168.2,721.2 1166.8,723C1165.4,724.8 1164.2,726.4 1162,727.8C1159.8,729.2 1156.2,731.1 1153.6,731.4C1151,731.7 1149,730.2 1146.4,729.6C1143.8,729 1140.8,728.7 1138,727.8C1135.2,726.9 1131.7,725.3 1129.6,724.2C1127.5,723.1 1126.3,722.2 1125.4,721.2C1124.5,720.2 1123.9,719.4 1124.2,718.2Z" fill="#f8dfe0" stroke="#f3b6ba" stroke-width="0.9" stroke-linejoin="round"/>
<path d="M1151.7,720.6C1151.7,720.9 1151.7,721.3 1151.4,721.5C1151.2,721.8 1150.7,722 1150.3,722.1C1149.8,722.3 1149.3,722.4 1148.8,722.4C1148.3,722.4 1147.7,722.4 1147.3,722.2C1146.9,722 1146.6,721.7 1146.3,721.5C1146.1,721.2 1146,720.9 1146,720.6C1145.9,720.3 1145.9,719.9 1146.1,719.7C1146.3,719.4 1146.9,719.2 1147.3,719.1C1147.8,719 1148.3,718.9 1148.8,718.9C1149.3,718.8 1150,718.8 1150.4,719C1150.8,719.1 1151.2,719.4 1151.4,719.7C1151.6,720 1151.7,720.3 1151.7,720.6Z" fill="none" stroke="#f2a4aa" stroke-width="0.9" stroke-linejoin="round"/>
<path d="M1154.8,720.6C1154.9,721.3 1154.7,722 1154.2,722.6C1153.7,723.2 1152.8,723.6 1151.9,724C1151,724.3 1149.8,724.6 1148.8,724.6C1147.8,724.6 1146.5,724.4 1145.6,724.1C1144.8,723.7 1144.1,723.1 1143.7,722.5C1143.2,721.9 1143,721.3 1142.9,720.6C1142.8,720 1142.7,719.1 1143.2,718.5C1143.7,718 1144.8,717.6 1145.8,717.3C1146.7,717 1147.7,716.8 1148.8,716.8C1149.9,716.7 1151.2,716.7 1152.1,717C1153,717.3 1153.7,718 1154.2,718.6C1154.6,719.2 1154.8,719.9 1154.8,720.6Z" fill="none" stroke="#f2a4aa" stroke-width="0.9" stroke-linejoin="round"/>
<path d="M1158.3,720.6C1158.3,721.7 1158.2,722.9 1157.4,723.8C1156.6,724.7 1155.1,725.5 1153.6,726C1152.2,726.6 1150.4,727 1148.8,727C1147.2,727.1 1145.2,726.8 1143.8,726.2C1142.5,725.6 1141.4,724.6 1140.7,723.6C1140,722.7 1139.7,721.7 1139.5,720.6C1139.4,719.6 1139.2,718.2 1139.9,717.3C1140.7,716.4 1142.5,715.7 1144,715.3C1145.5,714.8 1147.1,714.5 1148.8,714.4C1150.5,714.4 1152.6,714.3 1154,714.8C1155.4,715.3 1156.6,716.5 1157.3,717.4C1158,718.4 1158.3,719.5 1158.3,720.6Z" fill="none" stroke="#f2a4aa" stroke-width="0.9" stroke-linejoin="round"/>
<path d="M1162.2,720.6C1162.2,722.1 1161.9,723.9 1160.8,725.1C1159.7,726.4 1157.6,727.5 1155.6,728.3C1153.6,729 1151.1,729.7 1148.8,729.7C1146.5,729.8 1143.7,729.3 1141.8,728.5C1139.9,727.7 1138.5,726.2 1137.5,724.9C1136.5,723.6 1136,722.1 1135.8,720.6C1135.6,719.1 1135.3,717.2 1136.4,715.9C1137.4,714.7 1140,713.7 1142.1,713C1144.2,712.4 1146.5,712 1148.8,711.9C1151.1,711.8 1154.1,711.6 1156.1,712.3C1158.1,713.1 1159.7,714.7 1160.7,716.1C1161.7,717.5 1162.2,719.1 1162.2,720.6Z" fill="none" stroke="#f2a4aa" stroke-width="0.9" stroke-linejoin="round"/>
<path d="M921,932.6C920.8,930.4 922.1,927.8 924,926C925.9,924.2 929.6,922.8 932.4,921.8C935.2,920.8 938.9,921 940.8,920C942.7,919 942.7,916.5 943.8,915.8C944.9,915.1 946.5,915.1 947.4,915.8C948.3,916.5 947.5,919 949.2,920C950.9,921 954.6,921.1 957.6,921.8C960.6,922.5 964.9,922.9 967.2,924.2C969.5,925.5 970.8,927.3 971.4,929.6C972,931.9 971.9,936 970.8,938C969.7,940 967,940.6 964.8,941.6C962.6,942.6 960.8,943.6 957.6,944C954.4,944.4 949.6,944 945.6,944C941.6,944 937,944.8 933.6,944C930.2,943.2 927.3,941.1 925.2,939.2C923.1,937.3 921.2,934.8 921,932.6Z" fill="#b4b4b4" stroke="#222" stroke-width="1.1" stroke-linejoin="round"/>
<ellipse cx="943.21" cy="932.61" rx="14" ry="7" fill="#555" filter="url(#bl2)" opacity="0.8"/>
<ellipse cx="945.61" cy="918.21" rx="2.5" ry="3" fill="#555" filter="url(#bl1)" opacity="0.8"/>
<path d="M964.3,932.6C964.5,934.3 963.4,936.5 961.6,937.9C959.9,939.3 956.5,940.4 953.7,941.1C950.8,941.9 947.6,942.4 944.4,942.5C941.2,942.6 937.4,942.5 934.5,941.7C931.7,940.9 929.1,939.3 927.5,937.8C925.9,936.3 924.9,934.3 924.9,932.6C925,930.9 926.4,929.1 928,927.6C929.7,926.1 932,924.6 934.7,923.7C937.5,922.8 941.2,922.3 944.4,922.3C947.6,922.3 951.4,922.8 954.1,923.7C956.8,924.6 958.9,926.2 960.6,927.6C962.3,929.1 964.1,930.9 964.3,932.6Z" fill="none" stroke="#ffffff" stroke-width="1.8" stroke-linejoin="round"/>
<path d="M964.3,932.6C964.5,934.3 963.4,936.5 961.6,937.9C959.9,939.3 956.5,940.4 953.7,941.1C950.8,941.9 947.6,942.4 944.4,942.5C941.2,942.6 937.4,942.5 934.5,941.7C931.7,940.9 929.1,939.3 927.5,937.8C925.9,936.3 924.9,934.3 924.9,932.6C925,930.9 926.4,929.1 928,927.6C929.7,926.1 932,924.6 934.7,923.7C937.5,922.8 941.2,922.3 944.4,922.3C947.6,922.3 951.4,922.8 954.1,923.7C956.8,924.6 958.9,926.2 960.6,927.6C962.3,929.1 964.1,930.9 964.3,932.6Z" fill="none" stroke="#444" stroke-width="0.7" stroke-linejoin="round"/>
<path d="M960,932.6C960.1,933.9 959.2,935.6 957.9,936.6C956.5,937.7 953.9,938.5 951.6,939.1C949.4,939.7 946.9,940.1 944.4,940.1C941.9,940.2 938.9,940.1 936.7,939.5C934.5,938.9 932.4,937.7 931.2,936.6C929.9,935.4 929.1,933.9 929.2,932.6C929.3,931.3 930.3,929.9 931.6,928.8C932.9,927.6 934.7,926.5 936.8,925.8C939,925.1 941.9,924.7 944.4,924.7C946.9,924.7 949.8,925.1 952,925.8C954.1,926.5 955.7,927.7 957,928.8C958.4,929.9 959.8,931.3 960,932.6Z" fill="none" stroke="#ffffff" stroke-width="1.8" stroke-linejoin="round"/>
<path d="M960,932.6C960.1,933.9 959.2,935.6 957.9,936.6C956.5,937.7 953.9,938.5 951.6,939.1C949.4,939.7 946.9,940.1 944.4,940.1C941.9,940.2 938.9,940.1 936.7,939.5C934.5,938.9 932.4,937.7 931.2,936.6C929.9,935.4 929.1,933.9 929.2,932.6C929.3,931.3 930.3,929.9 931.6,928.8C932.9,927.6 934.7,926.5 936.8,925.8C939,925.1 941.9,924.7 944.4,924.7C946.9,924.7 949.8,925.1 952,925.8C954.1,926.5 955.7,927.7 957,928.8C958.4,929.9 959.8,931.3 960,932.6Z" fill="none" stroke="#444" stroke-width="0.7" stroke-linejoin="round"/>
<path d="M955.6,932.6C955.7,933.5 955.1,934.7 954.1,935.4C953.1,936.2 951.2,936.7 949.6,937.1C948,937.5 946.2,937.8 944.4,937.8C942.6,937.9 940.4,937.8 938.9,937.4C937.3,937 935.8,936.2 934.9,935.4C934,934.6 933.4,933.5 933.5,932.6C933.5,931.7 934.3,930.7 935.2,929.9C936.1,929.2 937.4,928.4 939,927.9C940.5,927.4 942.6,927.2 944.4,927.2C946.2,927.2 948.3,927.4 949.8,927.9C951.4,928.4 952.5,929.2 953.5,930C954.5,930.8 955.5,931.7 955.6,932.6Z" fill="none" stroke="#ffffff" stroke-width="1.8" stroke-linejoin="round"/>
<path d="M955.6,932.6C955.7,933.5 955.1,934.7 954.1,935.4C953.1,936.2 951.2,936.7 949.6,937.1C948,937.5 946.2,937.8 944.4,937.8C942.6,937.9 940.4,937.8 938.9,937.4C937.3,937 935.8,936.2 934.9,935.4C934,934.6 933.4,933.5 933.5,932.6C933.5,931.7 934.3,930.7 935.2,929.9C936.1,929.2 937.4,928.4 939,927.9C940.5,927.4 942.6,927.2 944.4,927.2C946.2,927.2 948.3,927.4 949.8,927.9C951.4,928.4 952.5,929.2 953.5,930C954.5,930.8 955.5,931.7 955.6,932.6Z" fill="none" stroke="#444" stroke-width="0.7" stroke-linejoin="round"/>
<path d="M951.2,932.6C951.3,933.1 950.9,933.8 950.3,934.2C949.7,934.7 948.6,935 947.6,935.2C946.6,935.4 945.5,935.6 944.4,935.6C943.3,935.7 942,935.6 941,935.4C940,935.1 939.1,934.7 938.6,934.2C938,933.7 937.7,933.1 937.7,932.6C937.7,932.1 938.2,931.5 938.8,931.1C939.3,930.6 940.1,930.1 941.1,929.9C942,929.6 943.3,929.5 944.4,929.5C945.5,929.5 946.8,929.6 947.7,929.9C948.7,930.2 949.4,930.6 950,931.1C950.6,931.5 951.2,932.1 951.2,932.6Z" fill="none" stroke="#ffffff" stroke-width="1.8" stroke-linejoin="round"/>
<path d="M951.2,932.6C951.3,933.1 950.9,933.8 950.3,934.2C949.7,934.7 948.6,935 947.6,935.2C946.6,935.4 945.5,935.6 944.4,935.6C943.3,935.7 942,935.6 941,935.4C940,935.1 939.1,934.7 938.6,934.2C938,933.7 937.7,933.1 937.7,932.6C937.7,932.1 938.2,931.5 938.8,931.1C939.3,930.6 940.1,930.1 941.1,929.9C942,929.6 943.3,929.5 944.4,929.5C945.5,929.5 946.8,929.6 947.7,929.9C948.7,930.2 949.4,930.6 950,931.1C950.6,931.5 951.2,932.1 951.2,932.6Z" fill="none" stroke="#444" stroke-width="0.7" stroke-linejoin="round"/>
<circle cx="937.45" cy="877.04" r="1.2" fill="#111"/>
<circle cx="948.01" cy="878.96" r="1.2" fill="#111"/>
<circle cx="949.93" cy="888.44" r="1.2" fill="#111"/>
<circle cx="913.57" cy="892.76" r="1.2" fill="#111"/>
<circle cx="892.2" cy="931.65" r="1.2" fill="#111"/>
<circle cx="906.01" cy="937.17" r="1.2" fill="#111"/>
<path d="M1123.6,934.4C1123.6,933.1 1123.8,931.4 1124.8,930.2C1125.8,929 1127.8,927.9 1129.6,927.2C1131.4,926.5 1133.4,926.9 1135.6,926C1137.8,925.1 1140.2,923.3 1142.8,921.8C1145.4,920.3 1148.8,918.1 1151.2,917C1153.6,915.9 1156,916.2 1157.2,915.2C1158.4,914.2 1157.6,911.9 1158.4,911C1159.2,910.1 1160.8,909.6 1162,909.8C1163.2,910 1164.9,910.9 1165.6,912.2C1166.3,913.5 1165.4,915.9 1166.2,917.6C1167,919.3 1169,920.6 1170.4,922.4C1171.8,924.2 1174,926.2 1174.6,928.4C1175.2,930.6 1174.7,933.4 1174,935.6C1173.3,937.8 1172,939.9 1170.4,941.6C1168.8,943.3 1166.8,944.8 1164.4,945.8C1162,946.8 1158.8,947.6 1156,947.6C1153.2,947.6 1150.6,946.1 1147.6,945.8C1144.6,945.5 1141,946.5 1138,945.8C1135,945.1 1131.8,942.9 1129.6,941.6C1127.4,940.3 1125.8,939.2 1124.8,938C1123.8,936.8 1123.6,935.7 1123.6,934.4Z" fill="#f7a6a6" stroke="#f41d1d" stroke-width="1.4" stroke-linejoin="round"/>
<ellipse cx="1154.21" cy="935.01" rx="7" ry="4.5" fill="#f02020" filter="url(#bl2)" opacity="0.8"/>
<ellipse cx="1134.41" cy="936.21" rx="6" ry="5" fill="#f03030" filter="url(#bl2)" opacity="0.6"/>
<ellipse cx="1161.41" cy="912.81" rx="3.6" ry="3.4" fill="#f23a3a"/>
<path d="M1175.6,935C1175.9,937.1 1174.6,939.9 1172.4,941.6C1170.3,943.3 1166.1,944.5 1162.7,945.4C1159.3,946.4 1155.6,946.9 1151.8,947.1C1148,947.2 1143.4,947.2 1140,946.3C1136.7,945.3 1133.5,943.3 1131.6,941.5C1129.7,939.6 1128.5,937.1 1128.6,935C1128.8,932.9 1130.5,930.7 1132.4,928.8C1134.4,927 1137.1,925.1 1140.3,924C1143.5,922.9 1148,922.3 1151.8,922.3C1155.6,922.3 1160.1,922.9 1163.3,924C1166.5,925.1 1168.8,927.1 1170.9,928.9C1172.9,930.8 1175.4,932.9 1175.6,935Z" fill="none" stroke="#ffffff" stroke-width="1.3" stroke-linejoin="round"/>
<path d="M1171.1,935C1171.3,936.8 1170.4,939.1 1168.9,940.5C1167.3,942 1164.4,943 1161.9,943.7C1159.5,944.5 1156.9,945 1154.2,945.1C1151.5,945.2 1148.2,945.2 1145.8,944.5C1143.4,943.7 1141.2,942 1139.8,940.4C1138.5,938.8 1137.6,936.8 1137.7,935C1137.8,933.2 1139.1,931.4 1140.4,929.8C1141.8,928.3 1143.7,926.7 1146,925.8C1148.3,924.8 1151.5,924.3 1154.2,924.3C1156.9,924.3 1160.1,924.9 1162.4,925.8C1164.6,926.7 1166.3,928.4 1167.8,929.9C1169.2,931.4 1171,933.2 1171.1,935Z" fill="none" stroke="#ffffff" stroke-width="1.3" stroke-linejoin="round"/>
<path d="M1167.4,935C1167.5,936.4 1166.8,938.1 1165.6,939.3C1164.4,940.4 1162.1,941.2 1160.2,941.8C1158.3,942.4 1156.3,942.7 1154.2,942.8C1152.1,942.9 1149.6,942.9 1147.7,942.3C1145.8,941.7 1144.1,940.4 1143,939.2C1142,938 1141.3,936.4 1141.4,935C1141.5,933.6 1142.4,932.2 1143.5,931C1144.6,929.8 1146.1,928.6 1147.8,927.9C1149.6,927.2 1152.1,926.8 1154.2,926.8C1156.3,926.8 1158.8,927.2 1160.6,927.9C1162.3,928.6 1163.6,929.9 1164.7,931.1C1165.9,932.3 1167.2,933.6 1167.4,935Z" fill="none" stroke="#ffffff" stroke-width="1.3" stroke-linejoin="round"/>
<path d="M1163.6,935C1163.7,936 1163.2,937.2 1162.3,938C1161.5,938.8 1159.9,939.4 1158.5,939.8C1157.1,940.2 1155.7,940.5 1154.2,940.5C1152.7,940.6 1150.9,940.6 1149.6,940.2C1148.2,939.7 1147,938.8 1146.2,938C1145.5,937.1 1145,936 1145.1,935C1145.1,934 1145.8,933 1146.6,932.2C1147.3,931.3 1148.4,930.5 1149.7,930C1150.9,929.5 1152.7,929.2 1154.2,929.2C1155.7,929.2 1157.5,929.5 1158.7,930C1160,930.5 1160.9,931.4 1161.7,932.2C1162.5,933.1 1163.5,934 1163.6,935Z" fill="none" stroke="#ffffff" stroke-width="1.3" stroke-linejoin="round"/>
<path d="M1159.9,935C1159.9,935.6 1159.6,936.3 1159.1,936.8C1158.6,937.2 1157.6,937.5 1156.8,937.8C1156,938 1155.1,938.2 1154.2,938.2C1153.3,938.3 1152.2,938.3 1151.4,938C1150.6,937.8 1149.9,937.2 1149.4,936.7C1149,936.2 1148.7,935.6 1148.7,935C1148.7,934.4 1149.2,933.8 1149.6,933.4C1150.1,932.9 1150.7,932.4 1151.5,932.1C1152.2,931.8 1153.3,931.6 1154.2,931.6C1155.1,931.6 1156.2,931.8 1156.9,932.1C1157.7,932.4 1158.2,932.9 1158.7,933.4C1159.2,933.9 1159.8,934.4 1159.9,935Z" fill="none" stroke="#ffffff" stroke-width="1.3" stroke-linejoin="round"/>
<circle cx="1140.65" cy="886.16" r="1.2" fill="#f41d1d"/>
<circle cx="1129.37" cy="899.85" r="1.2" fill="#f41d1d"/>
<circle cx="1147.61" cy="896.85" r="1.2" fill="#f41d1d"/>
<circle cx="1165.61" cy="896.85" r="1.2" fill="#f41d1d"/>
<circle cx="1153.61" cy="906.21" r="1.2" fill="#f41d1d"/>
<circle cx="1158.17" cy="908.01" r="1.2" fill="#f41d1d"/>
<circle cx="1167.05" cy="910.41" r="1.2" fill="#f41d1d"/>
<circle cx="1131.17" cy="920.01" r="1.2" fill="#f41d1d"/>
<circle cx="1174.97" cy="922.05" r="1.2" fill="#f41d1d"/>
<polyline points="851.6,592.8 1009,592.8 1009,749.6" fill="none" stroke="#8c8c8c" stroke-width="1.2"/>
<polyline points="851.6,592.3 851.6,749.6 1009.5,749.6" fill="none" stroke="#1a1a1a" stroke-width="1.2"/>
<line x1="919.2" y1="592.8" x2="919.2" y2="749.6" stroke="#111" stroke-width="1.7"/>
<line x1="851.6" y1="701.2" x2="1009" y2="701.2" stroke="#111" stroke-width="1.7"/>
<path d="M851.6,592.8h-3.8M851.6,628.2h-3.8M851.6,663.7h-3.8M851.6,701h-3.8M851.6,733.1h-3.8M867.3,749.6v3.8M902,749.6v3.8M949.2,749.6v3.8M979.1,749.6v3.8M1009,749.6v3.8" fill="none" stroke="#222" stroke-width="1"/>
<path d="M851.6,617.6h-1.8M851.6,611.3h-1.8M851.6,606.9h-1.8M851.6,603.5h-1.8M851.6,600.7h-1.8M851.6,598.3h-1.8M851.6,596.2h-1.8M851.6,594.4h-1.8M851.6,653h-1.8M851.6,646.8h-1.8M851.6,642.3h-1.8M851.6,638.9h-1.8M851.6,636.1h-1.8M851.6,633.7h-1.8M851.6,631.7h-1.8M851.6,629.9h-1.8M851.6,689.8h-1.8M851.6,683.2h-1.8M851.6,678.5h-1.8M851.6,674.9h-1.8M851.6,672h-1.8M851.6,669.5h-1.8M851.6,667.3h-1.8M851.6,665.4h-1.8M851.6,710.8h-1.8M851.6,707h-1.8M851.6,704.4h-1.8M851.6,702.5h-1.8M891.4,749.6v1.8M895.5,749.6v1.8M898.3,749.6v1.8M900.3,749.6v1.8M916.2,749.6v1.8M924.5,749.6v1.8M930.4,749.6v1.8M935,749.6v1.8M938.7,749.6v1.8M941.9,749.6v1.8M944.6,749.6v1.8M947,749.6v1.8M958.2,749.6v1.8M963.5,749.6v1.8M967.2,749.6v1.8M970.1,749.6v1.8M972.5,749.6v1.8M974.5,749.6v1.8M976.2,749.6v1.8M977.7,749.6v1.8M988.1,749.6v1.8M993.4,749.6v1.8M997.1,749.6v1.8M1000,749.6v1.8M1002.4,749.6v1.8M1004.4,749.6v1.8M1006.1,749.6v1.8M1007.6,749.6v1.8" fill="none" stroke="#555" stroke-width="0.7"/>
<rect x="847.1" y="730" width="4" height="5" fill="#111"/>
<line x1="858.68" y1="749.6" x2="858.68" y2="752.2" stroke="#111" stroke-width="1"/>
<line x1="861.83" y1="749.6" x2="861.83" y2="752.2" stroke="#111" stroke-width="1"/>
<line x1="864.98" y1="749.6" x2="864.98" y2="752.2" stroke="#111" stroke-width="1"/>
<line x1="868.13" y1="749.6" x2="868.13" y2="752.2" stroke="#111" stroke-width="1"/>
<line x1="871.27" y1="749.6" x2="871.27" y2="752.2" stroke="#111" stroke-width="1"/>
<line x1="874.42" y1="749.6" x2="874.42" y2="752.2" stroke="#111" stroke-width="1"/>
<polyline points="1054.2,592.8 1212.4,592.8 1212.4,749.8" fill="none" stroke="#8c8c8c" stroke-width="1.2"/>
<polyline points="1054.2,592.3 1054.2,749.8 1212.9,749.8" fill="none" stroke="#1a1a1a" stroke-width="1.2"/>
<line x1="1121.8" y1="592.8" x2="1121.8" y2="749.8" stroke="#111" stroke-width="1.7"/>
<line x1="1054.2" y1="701.4" x2="1212.4" y2="701.4" stroke="#111" stroke-width="1.7"/>
<path d="M1054.2,592.8h-3.8M1054.2,628.3h-3.8M1054.2,663.8h-3.8M1054.2,701.1h-3.8M1054.2,733.3h-3.8M1070,749.8v3.8M1104.8,749.8v3.8M1152.3,749.8v3.8M1182.3,749.8v3.8M1212.4,749.8v3.8" fill="none" stroke="#222" stroke-width="1"/>
<path d="M1054.2,617.6h-1.8M1054.2,611.4h-1.8M1054.2,606.9h-1.8M1054.2,603.5h-1.8M1054.2,600.7h-1.8M1054.2,598.3h-1.8M1054.2,596.2h-1.8M1054.2,594.4h-1.8M1054.2,653.1h-1.8M1054.2,646.8h-1.8M1054.2,642.4h-1.8M1054.2,639h-1.8M1054.2,636.2h-1.8M1054.2,633.8h-1.8M1054.2,631.7h-1.8M1054.2,629.9h-1.8M1054.2,689.9h-1.8M1054.2,683.3h-1.8M1054.2,678.6h-1.8M1054.2,675h-1.8M1054.2,672.1h-1.8M1054.2,669.6h-1.8M1054.2,667.4h-1.8M1054.2,665.5h-1.8M1054.2,710.9h-1.8M1054.2,707.1h-1.8M1054.2,704.6h-1.8M1054.2,702.7h-1.8M1094.2,749.8v1.8M1098.4,749.8v1.8M1101.1,749.8v1.8M1103.2,749.8v1.8M1119.1,749.8v1.8M1127.5,749.8v1.8M1133.4,749.8v1.8M1138,749.8v1.8M1141.8,749.8v1.8M1144.9,749.8v1.8M1147.7,749.8v1.8M1150.1,749.8v1.8M1161.3,749.8v1.8M1166.6,749.8v1.8M1170.4,749.8v1.8M1173.3,749.8v1.8M1175.7,749.8v1.8M1177.7,749.8v1.8M1179.4,749.8v1.8M1181,749.8v1.8M1191.4,749.8v1.8M1196.7,749.8v1.8M1200.4,749.8v1.8M1203.4,749.8v1.8M1205.7,749.8v1.8M1207.7,749.8v1.8M1209.5,749.8v1.8M1211,749.8v1.8" fill="none" stroke="#555" stroke-width="0.7"/>
<rect x="1049.7" y="730.17" width="4" height="5" fill="#111"/>
<line x1="1061.32" y1="749.8" x2="1061.32" y2="752.4" stroke="#111" stroke-width="1"/>
<line x1="1064.48" y1="749.8" x2="1064.48" y2="752.4" stroke="#111" stroke-width="1"/>
<line x1="1067.65" y1="749.8" x2="1067.65" y2="752.4" stroke="#111" stroke-width="1"/>
<line x1="1070.81" y1="749.8" x2="1070.81" y2="752.4" stroke="#111" stroke-width="1"/>
<line x1="1073.98" y1="749.8" x2="1073.98" y2="752.4" stroke="#111" stroke-width="1"/>
<line x1="1077.14" y1="749.8" x2="1077.14" y2="752.4" stroke="#111" stroke-width="1"/>
<polyline points="851.4,804.8 1010.8,804.8 1010.8,963.6" fill="none" stroke="#8c8c8c" stroke-width="1.2"/>
<polyline points="851.4,804.3 851.4,963.6 1011.3,963.6" fill="none" stroke="#1a1a1a" stroke-width="1.2"/>
<line x1="919.6" y1="804.8" x2="919.6" y2="963.6" stroke="#111" stroke-width="1.7"/>
<line x1="851.4" y1="914.4" x2="1010.8" y2="914.4" stroke="#111" stroke-width="1.7"/>
<path d="M851.4,804.8h-3.8M851.4,840.7h-3.8M851.4,876.6h-3.8M851.4,914.4h-3.8M851.4,946.9h-3.8M867.3,963.6v3.8M902.4,963.6v3.8M950.2,963.6v3.8M980.5,963.6v3.8M1010.8,963.6v3.8" fill="none" stroke="#222" stroke-width="1"/>
<path d="M851.4,829.9h-1.8M851.4,823.6h-1.8M851.4,819.1h-1.8M851.4,815.6h-1.8M851.4,812.8h-1.8M851.4,810.4h-1.8M851.4,808.3h-1.8M851.4,806.4h-1.8M851.4,865.8h-1.8M851.4,859.5h-1.8M851.4,855h-1.8M851.4,851.5h-1.8M851.4,848.7h-1.8M851.4,846.2h-1.8M851.4,844.2h-1.8M851.4,842.3h-1.8M851.4,903h-1.8M851.4,896.3h-1.8M851.4,891.6h-1.8M851.4,888h-1.8M851.4,885h-1.8M851.4,882.4h-1.8M851.4,880.2h-1.8M851.4,878.3h-1.8M851.4,924.3h-1.8M851.4,920.4h-1.8M851.4,917.8h-1.8M851.4,915.9h-1.8M891.7,963.6v1.8M895.9,963.6v1.8M898.7,963.6v1.8M900.7,963.6v1.8M916.8,963.6v1.8M925.2,963.6v1.8M931.2,963.6v1.8M935.8,963.6v1.8M939.6,963.6v1.8M942.8,963.6v1.8M945.6,963.6v1.8M948,963.6v1.8M959.3,963.6v1.8M964.7,963.6v1.8M968.5,963.6v1.8M971.4,963.6v1.8M973.8,963.6v1.8M975.8,963.6v1.8M977.6,963.6v1.8M979.1,963.6v1.8M989.6,963.6v1.8M995,963.6v1.8M998.7,963.6v1.8M1001.7,963.6v1.8M1004.1,963.6v1.8M1006.1,963.6v1.8M1007.9,963.6v1.8M1009.4,963.6v1.8" fill="none" stroke="#555" stroke-width="0.7"/>
<rect x="846.9" y="943.75" width="4" height="5" fill="#111"/>
<line x1="858.57" y1="963.6" x2="858.57" y2="966.2" stroke="#111" stroke-width="1"/>
<line x1="861.76" y1="963.6" x2="861.76" y2="966.2" stroke="#111" stroke-width="1"/>
<line x1="864.95" y1="963.6" x2="864.95" y2="966.2" stroke="#111" stroke-width="1"/>
<line x1="868.14" y1="963.6" x2="868.14" y2="966.2" stroke="#111" stroke-width="1"/>
<line x1="871.32" y1="963.6" x2="871.32" y2="966.2" stroke="#111" stroke-width="1"/>
<line x1="874.51" y1="963.6" x2="874.51" y2="966.2" stroke="#111" stroke-width="1"/>
<polyline points="1051.8,805.6 1211.8,805.6 1211.8,964" fill="none" stroke="#8c8c8c" stroke-width="1.2"/>
<polyline points="1051.8,805.1 1051.8,964 1212.3,964" fill="none" stroke="#1a1a1a" stroke-width="1.2"/>
<line x1="1120.4" y1="805.6" x2="1120.4" y2="964" stroke="#111" stroke-width="1.7"/>
<line x1="1051.8" y1="915.4" x2="1211.8" y2="915.4" stroke="#111" stroke-width="1.7"/>
<path d="M1051.8,805.6h-3.8M1051.8,841.4h-3.8M1051.8,877.2h-3.8M1051.8,914.9h-3.8M1051.8,947.4h-3.8M1067.8,964v3.8M1103,964v3.8M1151,964v3.8M1181.4,964v3.8M1211.8,964v3.8" fill="none" stroke="#222" stroke-width="1"/>
<path d="M1051.8,830.6h-1.8M1051.8,824.3h-1.8M1051.8,819.8h-1.8M1051.8,816.4h-1.8M1051.8,813.5h-1.8M1051.8,811.1h-1.8M1051.8,809.1h-1.8M1051.8,807.2h-1.8M1051.8,866.4h-1.8M1051.8,860.1h-1.8M1051.8,855.6h-1.8M1051.8,852.2h-1.8M1051.8,849.3h-1.8M1051.8,846.9h-1.8M1051.8,844.9h-1.8M1051.8,843h-1.8M1051.8,903.5h-1.8M1051.8,896.9h-1.8M1051.8,892.2h-1.8M1051.8,888.5h-1.8M1051.8,885.6h-1.8M1051.8,883h-1.8M1051.8,880.9h-1.8M1051.8,878.9h-1.8M1051.8,924.8h-1.8M1051.8,920.9h-1.8M1051.8,918.4h-1.8M1051.8,916.4h-1.8M1092.3,964v1.8M1096.5,964v1.8M1099.2,964v1.8M1101.3,964v1.8M1117.4,964v1.8M1125.9,964v1.8M1131.9,964v1.8M1136.6,964v1.8M1140.4,964v1.8M1143.6,964v1.8M1146.3,964v1.8M1148.8,964v1.8M1160.2,964v1.8M1165.5,964v1.8M1169.3,964v1.8M1172.2,964v1.8M1174.7,964v1.8M1176.7,964v1.8M1178.5,964v1.8M1180,964v1.8M1190.6,964v1.8M1195.9,964v1.8M1199.7,964v1.8M1202.6,964v1.8M1205.1,964v1.8M1207.1,964v1.8M1208.9,964v1.8M1210.4,964v1.8" fill="none" stroke="#555" stroke-width="0.7"/>
<rect x="1047.3" y="944.2" width="4" height="5" fill="#111"/>
<line x1="1059" y1="964" x2="1059" y2="966.6" stroke="#111" stroke-width="1"/>
<line x1="1062.2" y1="964" x2="1062.2" y2="966.6" stroke="#111" stroke-width="1"/>
<line x1="1065.4" y1="964" x2="1065.4" y2="966.6" stroke="#111" stroke-width="1"/>
<line x1="1068.6" y1="964" x2="1068.6" y2="966.6" stroke="#111" stroke-width="1"/>
<line x1="1071.8" y1="964" x2="1071.8" y2="966.6" stroke="#111" stroke-width="1"/>
<line x1="1075" y1="964" x2="1075" y2="966.6" stroke="#111" stroke-width="1"/>
<text x="926.4" y="587.2" font-size="23.2" text-anchor="middle">AAV-Vec.</text>
<text x="1135.8" y="585" font-size="23.4" text-anchor="middle">AAV-miR-29b</text>
<text x="928" y="799.6" font-size="23.5" text-anchor="middle">AAV-Vec./RT</text>
<text x="1140" y="797.1" font-size="23.5" text-anchor="middle">AAV-miR-29b/RT</text>
<text x="819.8" y="606" font-size="15.8" letter-spacing="0.2">10<tspan font-size="9.48" dy="-6.64">5</tspan><tspan dy="6.64" font-size="1">&#8203;</tspan></text>
<text x="820.6" y="671.2" font-size="15.8" letter-spacing="0.2">10<tspan font-size="9.48" dy="-6.64">3</tspan><tspan dy="6.64" font-size="1">&#8203;</tspan></text>
<text x="834.2" y="740.4" font-size="15.8" text-anchor="middle">0</text>
<text x="1020" y="606" font-size="15.8" letter-spacing="0.2">10<tspan font-size="9.48" dy="-6.64">5</tspan><tspan dy="6.64" font-size="1">&#8203;</tspan></text>
<text x="1020.8" y="671.2" font-size="15.8" letter-spacing="0.2">10<tspan font-size="9.48" dy="-6.64">3</tspan><tspan dy="6.64" font-size="1">&#8203;</tspan></text>
<text x="1035" y="738.2" font-size="15.8" text-anchor="middle">0</text>
<text x="819.8" y="821" font-size="15.8" letter-spacing="0.2">10<tspan font-size="9.48" dy="-6.64">5</tspan><tspan dy="6.64" font-size="1">&#8203;</tspan></text>
<text x="820.6" y="884" font-size="15.8" letter-spacing="0.2">10<tspan font-size="9.48" dy="-6.64">3</tspan><tspan dy="6.64" font-size="1">&#8203;</tspan></text>
<text x="834.2" y="950.8" font-size="15.8" text-anchor="middle">0</text>
<text x="1020" y="816" font-size="15.8" letter-spacing="0.2">10<tspan font-size="9.48" dy="-6.64">5</tspan><tspan dy="6.64" font-size="1">&#8203;</tspan></text>
<text x="1020.8" y="904.2" font-size="15.8" letter-spacing="0.2">10<tspan font-size="9.48" dy="-6.64">3</tspan><tspan dy="6.64" font-size="1">&#8203;</tspan></text>
<text x="1035.8" y="950.2" font-size="15.8" text-anchor="middle">0</text>
<text x="871.3" y="768.7" font-size="15.8" text-anchor="middle">0</text>
<text x="934.2" y="769.7" font-size="15.8" letter-spacing="0.2">10<tspan font-size="9.48" dy="-6.64">3</tspan><tspan dy="6.64" font-size="1">&#8203;</tspan></text>
<text x="994.6" y="769.7" font-size="15.8" letter-spacing="0.2">10<tspan font-size="9.48" dy="-6.64">5</tspan><tspan dy="6.64" font-size="1">&#8203;</tspan></text>
<text x="1073.9" y="768.7" font-size="15.8" text-anchor="middle">0</text>
<text x="1136.1" y="769.7" font-size="15.8" letter-spacing="0.2">10<tspan font-size="9.48" dy="-6.64">3</tspan><tspan dy="6.64" font-size="1">&#8203;</tspan></text>
<text x="1198.6" y="769.7" font-size="15.8" letter-spacing="0.2">10<tspan font-size="9.48" dy="-6.64">5</tspan><tspan dy="6.64" font-size="1">&#8203;</tspan></text>
<text x="864.6" y="982.6" font-size="15.8" text-anchor="middle">0</text>
<text x="932.1" y="983.6" font-size="15.8" letter-spacing="0.2">10<tspan font-size="9.48" dy="-6.64">3</tspan><tspan dy="6.64" font-size="1">&#8203;</tspan></text>
<text x="994" y="983.6" font-size="15.8" letter-spacing="0.2">10<tspan font-size="9.48" dy="-6.64">5</tspan><tspan dy="6.64" font-size="1">&#8203;</tspan></text>
<text x="1070.9" y="982.6" font-size="15.8" text-anchor="middle">0</text>
<text x="1134.5" y="983.6" font-size="15.8" letter-spacing="0.2">10<tspan font-size="9.48" dy="-6.64">3</tspan><tspan dy="6.64" font-size="1">&#8203;</tspan></text>
<text x="1196.3" y="983.6" font-size="15.8" letter-spacing="0.2">10<tspan font-size="9.48" dy="-6.64">5</tspan><tspan dy="6.64" font-size="1">&#8203;</tspan></text>
<text x="966.2" y="734.6" font-size="25.6">T</text>
<text x="982.8" y="743.4" font-size="14.6">EM</text>
<text x="1171.8" y="737.2" font-size="25.6">T</text>
<text x="1188.4" y="745.8" font-size="14.6">EM</text>
<text x="966.8" y="949.6" font-size="25.6">T</text>
<text x="982.8" y="957.4" font-size="14.6">EM</text>
<text x="1168.8" y="949.2" font-size="25.6">T</text>
<text x="1185.8" y="957.4" font-size="14.6">EM</text>
<rect x="1327.1" y="851.4" width="22.8" height="66.7" fill="#d4d4d4" stroke="#000" stroke-width="1.6"/>
<rect x="1364.8" y="836.7" width="22.9" height="81.4" fill="#f3999e" stroke="#000" stroke-width="1.6"/>
<rect x="1402.3" y="797.8" width="22.9" height="120.3" fill="#606060" stroke="#000" stroke-width="1.6"/>
<rect x="1439.1" y="741.3" width="22.8" height="176.8" fill="#f53b40" stroke="#000" stroke-width="1.6"/>
<line x1="1338.5" y1="848" x2="1338.5" y2="850.6" stroke="#000" stroke-width="1.5"/>
<line x1="1333.5" y1="848" x2="1343.5" y2="848" stroke="#000" stroke-width="1.5"/>
<line x1="1375.9" y1="827" x2="1375.9" y2="835.9" stroke="#000" stroke-width="1.5"/>
<line x1="1369.9" y1="827" x2="1381.9" y2="827" stroke="#000" stroke-width="1.5"/>
<line x1="1413.4" y1="791.1" x2="1413.4" y2="797" stroke="#000" stroke-width="1.5"/>
<line x1="1407.4" y1="791.1" x2="1419.4" y2="791.1" stroke="#000" stroke-width="1.5"/>
<line x1="1450.8" y1="727.9" x2="1450.8" y2="740.5" stroke="#000" stroke-width="1.5"/>
<line x1="1444.8" y1="727.9" x2="1456.8" y2="727.9" stroke="#000" stroke-width="1.5"/>
<line x1="1313.7" y1="657.2" x2="1313.7" y2="919.1" stroke="#000" stroke-width="2"/>
<line x1="1301.1" y1="918.1" x2="1477.1" y2="918.1" stroke="#000" stroke-width="2"/>
<line x1="1301.1" y1="658.2" x2="1313.7" y2="658.2" stroke="#000" stroke-width="2"/>
<text x="1296.7" y="665.6" font-size="22.3" text-anchor="end">80</text>
<line x1="1301.1" y1="724" x2="1313.7" y2="724" stroke="#000" stroke-width="2"/>
<line x1="1301.1" y1="788.2" x2="1313.7" y2="788.2" stroke="#000" stroke-width="2"/>
<text x="1296.7" y="794.8" font-size="22.3" text-anchor="end">40</text>
<line x1="1301.1" y1="853.7" x2="1313.7" y2="853.7" stroke="#000" stroke-width="2"/>
<line x1="1301.1" y1="918.1" x2="1313.7" y2="918.1" stroke="#000" stroke-width="2"/>
<text x="1296.3" y="925.5" font-size="22.3" text-anchor="end">0</text>
<line x1="1338.9" y1="918.1" x2="1338.9" y2="926.6" stroke="#000" stroke-width="1.7"/>
<line x1="1375.6" y1="918.1" x2="1375.6" y2="926.6" stroke="#000" stroke-width="1.7"/>
<line x1="1413.1" y1="918.1" x2="1413.1" y2="926.6" stroke="#000" stroke-width="1.7"/>
<line x1="1450.9" y1="918.1" x2="1450.9" y2="926.6" stroke="#000" stroke-width="1.7"/>
<circle cx="1330.8" cy="849.9" r="4.6" fill="#fff" stroke="#000" stroke-width="1.6"/>
<circle cx="1346.2" cy="849.5" r="4.6" fill="#fff" stroke="#000" stroke-width="1.6"/>
<circle cx="1338.5" cy="845.7" r="4.6" fill="#fff" stroke="#000" stroke-width="1.6"/>
<rect x="1371.25" y="817.65" width="9.3" height="9.3" fill="#fff" stroke="#000" stroke-width="1.6"/>
<rect x="1371.25" y="828.05" width="9.3" height="9.3" fill="#fff" stroke="#000" stroke-width="1.6"/>
<rect x="1371.25" y="845.55" width="9.3" height="9.3" fill="#fff" stroke="#000" stroke-width="1.6"/>
<circle cx="1413.4" cy="784.8" r="4.6" fill="#fff" stroke="#000" stroke-width="1.6"/>
<circle cx="1405.7" cy="804.1" r="4.6" fill="#fff" stroke="#000" stroke-width="1.6"/>
<circle cx="1420.7" cy="802.3" r="4.6" fill="#fff" stroke="#000" stroke-width="1.6"/>
<rect x="1446.15" y="714.85" width="9.3" height="9.3" fill="#fff" stroke="#000" stroke-width="1.6"/>
<rect x="1446.15" y="734.45" width="9.3" height="9.3" fill="#fff" stroke="#000" stroke-width="1.6"/>
<rect x="1446.15" y="755.05" width="9.3" height="9.3" fill="#fff" stroke="#000" stroke-width="1.6"/>
<polyline points="1340.6,825.7 1340.6,758.2 1412.7,758.2 1412.7,775.3" fill="none" stroke="#000" stroke-width="1.7"/>
<polyline points="1411.6,733.8 1411.6,700.6 1448.7,700.6 1448.7,710.1" fill="none" stroke="#000" stroke-width="1.7"/>
<text x="1379.5" y="760.2" font-size="22" text-anchor="middle">*</text>
<text x="1430.6" y="701.9" font-size="22" text-anchor="middle">*</text>
<text x="1259.7" y="790.5" font-size="27.4" text-anchor="middle" transform="rotate(-90 1259.7 790.5)">% of CD3<tspan font-size="17" dy="-10">+</tspan><tspan dy="10" font-size="1">&#8203;</tspan>CD45<tspan font-size="17" dy="-10">+</tspan><tspan dy="10" font-size="1">&#8203;</tspan> T cells</text>
<text x="1393.8" y="625" font-size="27.5" text-anchor="middle">CD8 T<tspan font-size="15" dy="9.8">EM</tspan><tspan dy="-9.8" font-size="1">&#8203;</tspan></text>
<text x="1468.4" y="555" font-size="56.5">F</text>
<line x1="1519.4" y1="703.8" x2="1711.3" y2="703.8" stroke="#dcdcdc" stroke-width="1.3"/>
<path d="M1566.2,703.8C1567.9,703.1 1568.8,702.2 1572.5,701.2C1576.2,700.3 1576.7,701.2 1580,700.2C1583.3,699.2 1582.8,699.6 1585,697.5C1587.2,695.4 1586.6,694.2 1588.1,692.5C1589.6,690.8 1589.3,690.7 1590.6,691C1592,691.3 1591.6,691.5 1593.1,693.8C1594.6,696 1594.4,698.4 1596.2,699.4C1598.1,700.4 1597.8,698.7 1600,697.5C1602.2,696.3 1602,695.3 1604.4,695C1606.7,694.7 1606.2,695.2 1608.8,696.2C1611.2,697.3 1611.4,698.2 1613.8,699C1616.1,699.8 1615,698.4 1617.5,699.4C1620,700.3 1618.8,701.4 1623.1,702.5C1627.5,703.6 1630.9,703.2 1633.8,703.5L1633.8,703.8L1566.2,703.8Z" fill="#efefef"/>
<path d="M1566.2,703.8C1567.9,703.1 1568.8,702.2 1572.5,701.2C1576.2,700.3 1576.7,701.2 1580,700.2C1583.3,699.2 1582.8,699.6 1585,697.5C1587.2,695.4 1586.6,694.2 1588.1,692.5C1589.6,690.8 1589.3,690.7 1590.6,691C1592,691.3 1591.6,691.5 1593.1,693.8C1594.6,696 1594.4,698.4 1596.2,699.4C1598.1,700.4 1597.8,698.7 1600,697.5C1602.2,696.3 1602,695.3 1604.4,695C1606.7,694.7 1606.2,695.2 1608.8,696.2C1611.2,697.3 1611.4,698.2 1613.8,699C1616.1,699.8 1615,698.4 1617.5,699.4C1620,700.3 1618.8,701.4 1623.1,702.5C1627.5,703.6 1630.9,703.2 1633.8,703.5" fill="none" stroke="#b4b4b4" stroke-width="1.3" stroke-linejoin="round"/>
<line x1="1519.4" y1="774.4" x2="1711.3" y2="774.4" stroke="#f3b4ba" stroke-width="1.3"/>
<path d="M1555,774.4C1557,774 1558.5,773.5 1562.5,773.1C1566.5,772.8 1566.7,774.6 1570,773.1C1573.3,771.6 1572.3,771 1575,767.5C1577.7,764 1577,762.9 1580,760C1583,757.1 1583.6,756.8 1586.2,756.5C1588.9,756.2 1587.7,757.1 1590,758.8C1592.3,760.4 1592.2,761 1595,762.5C1597.8,764 1598,764.9 1600.6,764.4C1603.3,763.9 1602.8,763.3 1605,760.6C1607.2,758 1607.1,756.3 1608.8,754.4C1610.4,752.5 1609.6,753 1611.2,753.5C1612.9,754 1612.7,753.9 1615,756.2C1617.3,758.6 1617.3,759 1620,762.5C1622.7,766 1622.7,766.5 1625,769.4C1627.3,772.2 1626.8,771.8 1628.8,773.1C1630.8,774.5 1631.5,774 1632.5,774.4L1632.5,774.4L1555.0,774.4Z" fill="#f6cdd1"/>
<path d="M1555,774.4C1557,774 1558.5,773.5 1562.5,773.1C1566.5,772.8 1566.7,774.6 1570,773.1C1573.3,771.6 1572.3,771 1575,767.5C1577.7,764 1577,762.9 1580,760C1583,757.1 1583.6,756.8 1586.2,756.5C1588.9,756.2 1587.7,757.1 1590,758.8C1592.3,760.4 1592.2,761 1595,762.5C1597.8,764 1598,764.9 1600.6,764.4C1603.3,763.9 1602.8,763.3 1605,760.6C1607.2,758 1607.1,756.3 1608.8,754.4C1610.4,752.5 1609.6,753 1611.2,753.5C1612.9,754 1612.7,753.9 1615,756.2C1617.3,758.6 1617.3,759 1620,762.5C1622.7,766 1622.7,766.5 1625,769.4C1627.3,772.2 1626.8,771.8 1628.8,773.1C1630.8,774.5 1631.5,774 1632.5,774.4" fill="none" stroke="#ee8a92" stroke-width="1.3" stroke-linejoin="round"/>
<line x1="1519.4" y1="845" x2="1711.3" y2="845" stroke="#9a9a9a" stroke-width="1.3"/>
<path d="M1561.2,845C1562.9,844.3 1563.8,844.2 1567.5,842.5C1571.2,840.8 1571.3,840.2 1575,838.5C1578.7,836.8 1578.6,838.9 1581.2,836.2C1583.9,833.6 1583.2,831.5 1585,828.8C1586.8,826 1586.5,826 1588.1,826C1589.8,826 1589.1,827 1591.2,828.8C1593.4,830.5 1593.9,830.8 1596.2,832.5C1598.6,834.2 1597.8,833.5 1600,835C1602.2,836.5 1602,838 1604.4,838.1C1606.7,838.3 1606.2,838.1 1608.8,835.6C1611.2,833.1 1611.4,831.6 1613.8,828.8C1616.1,825.9 1615.7,825.3 1617.5,825C1619.3,824.7 1619,824.8 1620.6,827.5C1622.3,830.2 1621.9,831.5 1623.8,835C1625.6,838.5 1625.2,838.3 1627.5,840.6C1629.8,843 1629.5,842.6 1632.5,843.8C1635.5,844.9 1637.1,844.7 1638.8,845L1638.8,845.0L1561.2,845.0Z" fill="#a9a9a9"/>
<path d="M1561.2,845C1562.9,844.3 1563.8,844.2 1567.5,842.5C1571.2,840.8 1571.3,840.2 1575,838.5C1578.7,836.8 1578.6,838.9 1581.2,836.2C1583.9,833.6 1583.2,831.5 1585,828.8C1586.8,826 1586.5,826 1588.1,826C1589.8,826 1589.1,827 1591.2,828.8C1593.4,830.5 1593.9,830.8 1596.2,832.5C1598.6,834.2 1597.8,833.5 1600,835C1602.2,836.5 1602,838 1604.4,838.1C1606.7,838.3 1606.2,838.1 1608.8,835.6C1611.2,833.1 1611.4,831.6 1613.8,828.8C1616.1,825.9 1615.7,825.3 1617.5,825C1619.3,824.7 1619,824.8 1620.6,827.5C1622.3,830.2 1621.9,831.5 1623.8,835C1625.6,838.5 1625.2,838.3 1627.5,840.6C1629.8,843 1629.5,842.6 1632.5,843.8C1635.5,844.9 1637.1,844.7 1638.8,845" fill="none" stroke="#4c4c4c" stroke-width="1.3" stroke-linejoin="round"/>
<path d="M1524.4,915.4C1525.5,914.9 1526.2,914.5 1528.8,913.8C1531.2,913 1531.1,912.4 1533.8,912.5C1536.4,912.6 1536.2,913.2 1538.8,914C1541.2,914.8 1537.5,915 1543.1,915.4C1548.8,915.7 1554.2,916 1560,915.4C1565.8,914.8 1562.3,914.2 1565,913.1C1567.7,912 1566.7,911.8 1570,911.2C1573.3,910.8 1574.2,911.9 1577.5,911.2C1580.8,910.6 1579.8,910 1582.5,909C1585.2,908 1584.8,907.2 1587.5,907.5C1590.2,907.8 1590.3,909.5 1592.5,910C1594.7,910.5 1593.6,911.4 1595.6,909.4C1597.6,907.4 1597.8,905.8 1600,902.5C1602.2,899.2 1601.4,898.5 1603.8,896.9C1606.1,895.2 1606.1,896.8 1608.8,896.2C1611.4,895.7 1610.8,895.1 1613.8,894.8C1616.8,894.4 1617.3,893.9 1620,895C1622.7,896.1 1621.8,895.8 1623.8,898.8C1625.8,901.8 1625.5,902.6 1627.5,906.2C1629.5,909.9 1628.8,910.1 1631.2,912.5C1633.8,914.9 1635.4,914.6 1636.9,915.4L1636.9,915.4L1524.4,915.4Z" fill="#f1939b"/>
<path d="M1524.4,915.4C1525.5,914.9 1526.2,914.5 1528.8,913.8C1531.2,913 1531.1,912.4 1533.8,912.5C1536.4,912.6 1536.2,913.2 1538.8,914C1541.2,914.8 1537.5,915 1543.1,915.4C1548.8,915.7 1554.2,916 1560,915.4C1565.8,914.8 1562.3,914.2 1565,913.1C1567.7,912 1566.7,911.8 1570,911.2C1573.3,910.8 1574.2,911.9 1577.5,911.2C1580.8,910.6 1579.8,910 1582.5,909C1585.2,908 1584.8,907.2 1587.5,907.5C1590.2,907.8 1590.3,909.5 1592.5,910C1594.7,910.5 1593.6,911.4 1595.6,909.4C1597.6,907.4 1597.8,905.8 1600,902.5C1602.2,899.2 1601.4,898.5 1603.8,896.9C1606.1,895.2 1606.1,896.8 1608.8,896.2C1611.4,895.7 1610.8,895.1 1613.8,894.8C1616.8,894.4 1617.3,893.9 1620,895C1622.7,896.1 1621.8,895.8 1623.8,898.8C1625.8,901.8 1625.5,902.6 1627.5,906.2C1629.5,909.9 1628.8,910.1 1631.2,912.5C1633.8,914.9 1635.4,914.6 1636.9,915.4" fill="none" stroke="#f3262c" stroke-width="1.6" stroke-linejoin="round"/>
<rect x="1519.4" y="634.4" width="191.9" height="281" fill="none" stroke="#8a8a8a" stroke-width="1.4"/>
<line x1="1582.5" y1="634.4" x2="1582.5" y2="918.4" stroke="#111" stroke-width="1.3" stroke-dasharray="4.2 3.2"/>
<text x="1528.5" y="652.5" font-size="19.6">AAV-Vec.</text>
<text x="1525.6" y="722.5" font-size="19.6">AAV-miR-29b</text>
<text x="1525.6" y="791.5" font-size="19.6">AAV-Vec./RT</text>
<text x="1526.5" y="862.8" font-size="19.6">AAV-miR-29b/RT</text>
<text x="1706.8" y="701.3" font-size="18.5" text-anchor="end">106</text>
<text x="1707" y="771.9" font-size="18.5" text-anchor="end">118</text>
<text x="1706.2" y="841.9" font-size="18.5" text-anchor="end">144</text>
<text x="1706.5" y="911" font-size="18.5" text-anchor="end">172</text>
<path d="M1582.5,915.4v3.2M1593.4,915.4v1.6M1599.8,915.4v1.6M1604.4,915.4v1.6M1607.9,915.4v1.6M1610.7,915.4v1.6M1613.2,915.4v1.6M1615.3,915.4v1.6M1617.1,915.4v1.6M1618.8,915.4v3.2M1629.7,915.4v1.6M1636.1,915.4v1.6M1640.7,915.4v1.6M1644.2,915.4v1.6M1647.0,915.4v1.6M1649.5,915.4v1.6M1651.6,915.4v1.6M1653.4,915.4v1.6M1655.1,915.4v3.2M1666.0,915.4v1.6M1672.4,915.4v1.6M1677.0,915.4v1.6M1680.5,915.4v1.6M1683.3,915.4v1.6M1685.8,915.4v1.6M1687.9,915.4v1.6M1689.7,915.4v1.6M1691.4,915.4v3.2M1546.5,915.4v3.2M1563.0,915.4v3.2M1527.0,915.4v1.6M1530.0,915.4v1.6M1533.0,915.4v1.6M1536.0,915.4v2.4M1524.0,915.4v1.6M1555.0,915.4v1.6M1569.0,915.4v1.6M1574.0,915.4v1.6M1578.0,915.4v1.6M1700.0,915.4v1.6M1704.0,915.4v1.6M1708.0,915.4v1.6M1711.0,915.4v3.2" fill="none" stroke="#555" stroke-width="1"/>
<text x="1546.5" y="932.5" font-size="18" text-anchor="middle">0</text>
<text x="1569.8" y="934.8" font-size="18">10<tspan font-size="11.16" dy="-6.48">2</tspan><tspan dy="6.48" font-size="1">&#8203;</tspan></text>
<text x="1654.4" y="934.8" font-size="18">10<tspan font-size="11.16" dy="-6.48">4</tspan><tspan dy="6.48" font-size="1">&#8203;</tspan></text>
<text x="1609.6" y="960.9" font-size="23.7" text-anchor="middle">CD86-PE</text>
<text x="1790.8" y="624" font-size="27.2">Intracellular IFN<tspan font-family="'Liberation Serif',serif" font-size="23">γ</tspan></text>
<rect x="1834.1" y="808.3" width="23.4" height="107.6" fill="#d4d4d4" stroke="#000" stroke-width="1.6"/>
<rect x="1872.3" y="771.2" width="23.2" height="144.7" fill="#f3999e" stroke="#000" stroke-width="1.6"/>
<rect x="1910.1" y="756.3" width="23.2" height="159.6" fill="#606060" stroke="#000" stroke-width="1.6"/>
<rect x="1948.2" y="713" width="23.1" height="202.9" fill="#f53b40" stroke="#000" stroke-width="1.6"/>
<line x1="1845.7" y1="803" x2="1845.7" y2="807.5" stroke="#000" stroke-width="1.5"/>
<line x1="1840.7" y1="803" x2="1850.7" y2="803" stroke="#000" stroke-width="1.5"/>
<line x1="1883.6" y1="766" x2="1883.6" y2="770.4" stroke="#000" stroke-width="1.5"/>
<line x1="1878.6" y1="766" x2="1888.6" y2="766" stroke="#000" stroke-width="1.5"/>
<line x1="1921.7" y1="749.3" x2="1921.7" y2="755.5" stroke="#000" stroke-width="1.5"/>
<line x1="1915.7" y1="749.3" x2="1927.7" y2="749.3" stroke="#000" stroke-width="1.5"/>
<line x1="1959.8" y1="698.4" x2="1959.8" y2="712.2" stroke="#000" stroke-width="1.5"/>
<line x1="1953.8" y1="698.4" x2="1965.8" y2="698.4" stroke="#000" stroke-width="1.5"/>
<line x1="1821.1" y1="652.2" x2="1821.1" y2="916.9" stroke="#000" stroke-width="2"/>
<line x1="1807.6" y1="915.9" x2="1985.8" y2="915.9" stroke="#000" stroke-width="2"/>
<line x1="1807.6" y1="653.2" x2="1821.1" y2="653.2" stroke="#000" stroke-width="2"/>
<line x1="1807.6" y1="705.8" x2="1821.1" y2="705.8" stroke="#000" stroke-width="2"/>
<text x="1804.1" y="715.8" font-size="22.3" text-anchor="end">200</text>
<line x1="1807.6" y1="758.4" x2="1821.1" y2="758.4" stroke="#000" stroke-width="2"/>
<line x1="1807.6" y1="810.9" x2="1821.1" y2="810.9" stroke="#000" stroke-width="2"/>
<text x="1802.8" y="819" font-size="22.3" text-anchor="end">100</text>
<line x1="1807.6" y1="863.5" x2="1821.1" y2="863.5" stroke="#000" stroke-width="2"/>
<line x1="1807.6" y1="915.9" x2="1821.1" y2="915.9" stroke="#000" stroke-width="2"/>
<text x="1804.5" y="923.9" font-size="22.3" text-anchor="end">0</text>
<line x1="1845.8" y1="915.9" x2="1845.8" y2="924.4" stroke="#000" stroke-width="1.7"/>
<line x1="1883.6" y1="915.9" x2="1883.6" y2="924.4" stroke="#000" stroke-width="1.7"/>
<line x1="1921.7" y1="915.9" x2="1921.7" y2="924.4" stroke="#000" stroke-width="1.7"/>
<line x1="1959.5" y1="915.9" x2="1959.5" y2="924.4" stroke="#000" stroke-width="1.7"/>
<circle cx="1838.4" cy="799.7" r="4.6" fill="#fff" stroke="#000" stroke-width="1.6"/>
<circle cx="1853.5" cy="805.1" r="4.6" fill="#fff" stroke="#000" stroke-width="1.6"/>
<circle cx="1845.7" cy="814.9" r="4.6" fill="#fff" stroke="#000" stroke-width="1.6"/>
<rect x="1871.45" y="756.95" width="9.3" height="9.3" fill="#fff" stroke="#000" stroke-width="1.6"/>
<rect x="1886.65" y="761.65" width="9.3" height="9.3" fill="#fff" stroke="#000" stroke-width="1.6"/>
<rect x="1878.95" y="773.15" width="9.3" height="9.3" fill="#fff" stroke="#000" stroke-width="1.6"/>
<circle cx="1921.7" cy="744.3" r="4.6" fill="#fff" stroke="#000" stroke-width="1.6"/>
<circle cx="1929.5" cy="757" r="4.6" fill="#fff" stroke="#000" stroke-width="1.6"/>
<circle cx="1913.9" cy="765.1" r="4.6" fill="#fff" stroke="#000" stroke-width="1.6"/>
<rect x="1955.15" y="684.85" width="9.3" height="9.3" fill="#fff" stroke="#000" stroke-width="1.6"/>
<rect x="1955.15" y="705.55" width="9.3" height="9.3" fill="#fff" stroke="#000" stroke-width="1.6"/>
<rect x="1955.15" y="731.15" width="9.3" height="9.3" fill="#fff" stroke="#000" stroke-width="1.6"/>
<polyline points="1845.8,771.6 1845.8,711.5 1919,711.5 1919,728.4" fill="none" stroke="#000" stroke-width="1.7"/>
<polyline points="1845.8,735.1 1883,735.1 1883,742.6" fill="none" stroke="#000" stroke-width="1.7"/>
<polyline points="1917.9,701.7 1917.9,670.3 1956.1,670.3 1956.1,678.7" fill="none" stroke="#000" stroke-width="1.7"/>
<text x="1881.9" y="714.5" font-size="22" text-anchor="middle">*</text>
<text x="1864.7" y="737.4" font-size="22" text-anchor="middle">*</text>
<text x="1934.9" y="669.6" font-size="22" text-anchor="middle">*</text>
<text x="1756.3" y="795.6" font-size="27.6" text-anchor="middle" transform="rotate(-90 1756.3 795.6)">IFN<tspan font-family="'Liberation Serif',serif" font-size="23">γ</tspan> MFI</text>
<text x="4.4" y="1121.2" font-size="56.5">G</text>
<g transform="translate(105 1135) scale(0.04848)" fill="none" stroke="#1c1c1c" stroke-width="17" stroke-linecap="round" stroke-linejoin="round">
<path d="M590,420C650,300 750,225 850,240C950,255 1050,450 1150,505L1225,490M660,420C720,330 800,290 860,300C930,320 1030,480 1130,545L1200,530L1225,490" stroke-width="13"/>
<path d="M335,790C335,640 420,420 630,420C840,420 925,640 930,800"/>
<path d="M575,990C575,900 520,770 420,770C330,770 290,900 300,1000C310,1080 380,1130 420,1160C440,1200 490,1330 540,1400C570,1440 600,1480 630,1480C660,1480 690,1440 720,1400C770,1330 820,1200 840,1160C880,1130 950,1080 962,1000C970,900 930,770 830,770C740,770 690,900 690,990"/>
<path d="M345,930C380,850 460,820 520,900C470,860 400,880 345,930Z M915,930C880,850 800,820 740,900C790,860 860,880 915,930Z" fill="#b5b5b5" stroke="#b5b5b5" stroke-width="6"/>
<ellipse cx="553" cy="1225" rx="24" ry="40" fill="#111" stroke="none"/><ellipse cx="712" cy="1225" rx="24" ry="40" fill="#111" stroke="none"/>
<path d="M585,1380L670,1380L628,1430Z M520,1370L560,1410L575,1385Z M735,1370L695,1410L680,1385Z" fill="#111" stroke="#111" stroke-width="8"/>
<path d="M490,1340L380,1365M470,1385L400,1450M500,1420L460,1520M770,1340L880,1365M790,1385L860,1450M760,1420L800,1520" stroke-width="15"/>
</g>
<line x1="181.2" y1="1179.7" x2="602.4" y2="1179.7" stroke="#000" stroke-width="1.9"/>
<line x1="182" y1="1169.4" x2="182" y2="1189.8" stroke="#000" stroke-width="1.9"/>
<line x1="238.1" y1="1169.4" x2="238.1" y2="1189.8" stroke="#000" stroke-width="1.9"/>
<line x1="289.2" y1="1169.4" x2="289.2" y2="1189.8" stroke="#000" stroke-width="1.9"/>
<line x1="305.7" y1="1169.4" x2="305.7" y2="1189.8" stroke="#000" stroke-width="1.9"/>
<line x1="346.7" y1="1169.4" x2="346.7" y2="1189.8" stroke="#000" stroke-width="1.9"/>
<line x1="364.3" y1="1169.4" x2="364.3" y2="1189.8" stroke="#000" stroke-width="1.9"/>
<line x1="403.9" y1="1169.4" x2="403.9" y2="1189.8" stroke="#000" stroke-width="1.9"/>
<line x1="420.8" y1="1169.4" x2="420.8" y2="1189.8" stroke="#000" stroke-width="1.9"/>
<line x1="482" y1="1169.4" x2="482" y2="1189.8" stroke="#000" stroke-width="1.9"/>
<text x="181.5" y="1209.4" font-size="20.8" text-anchor="middle">0</text>
<text x="238.7" y="1209.4" font-size="20.8" text-anchor="middle">4</text>
<text x="288.4" y="1209.4" font-size="20.8" text-anchor="middle">9</text>
<text x="346.2" y="1209.4" font-size="20.8" text-anchor="middle">14</text>
<text x="403.6" y="1209.4" font-size="20.8" text-anchor="middle">19</text>
<text x="305.6" y="1204.3" font-size="16.4" text-anchor="middle">10</text>
<text x="365.6" y="1204.3" font-size="16.4" text-anchor="middle">15</text>
<text x="426" y="1204.3" font-size="16.4" text-anchor="middle">20</text>
<text x="483.8" y="1204.3" font-size="16.4" text-anchor="middle">25</text>
<text x="279" y="1137.6" font-size="22" fill="#f4221f">RT (5Gy)</text>
<polyline points="289,1151.5 289,1146.2 304.9,1146.2 304.9,1151.5" fill="none" stroke="#f4221f" stroke-width="1.6"/>
<polygon points="283.1,1150.6 294.9,1150.6 289,1166.6" fill="#f4221f"/>
<polygon points="299,1150.6 310.8,1150.6 304.9,1166.6" fill="#f4221f"/>
<polygon points="239.2,1213 233,1228.6 245.4,1228.6" fill="#000"/>
<line x1="239.2" y1="1228" x2="239.2" y2="1235" stroke="#000" stroke-width="1.9"/>
<polygon points="289.2,1213 283,1228.6 295.4,1228.6" fill="#000"/>
<line x1="289.2" y1="1228" x2="289.2" y2="1235" stroke="#000" stroke-width="1.9"/>
<polygon points="346.7,1213 340.5,1228.6 352.9,1228.6" fill="#000"/>
<line x1="346.7" y1="1228" x2="346.7" y2="1235" stroke="#000" stroke-width="1.9"/>
<polygon points="403.9,1213 397.7,1228.6 410.1,1228.6" fill="#000"/>
<line x1="403.9" y1="1228" x2="403.9" y2="1235" stroke="#000" stroke-width="1.9"/>
<polygon points="305.8,1213 299.4,1228.6 312.2,1228.6" fill="#6658fb"/>
<polygon points="363.2,1213 356.8,1228.6 369.6,1228.6" fill="#6658fb"/>
<polygon points="420.8,1213 414.4,1228.6 427.2,1228.6" fill="#6658fb"/>
<polygon points="482,1213 475.6,1228.6 488.4,1228.6" fill="#6658fb"/>
<polygon points="483.1,1122.3 476.4,1138 489.8,1138" fill="#6658fb"/>
<line x1="238.3" y1="1234.9" x2="404.8" y2="1234.9" stroke="#000" stroke-width="1.9"/>
<text x="276" y="1255.2" font-size="21.5">AAV (i.m.)</text>
<text x="494.4" y="1136.6" font-size="17.4">Anti-mCD8a Abs</text>
<text x="494.4" y="1155.3" font-size="17.4">or anti-mPD1 Abs</text>
<polyline points="152.9,1287.1 301.1,1287.1 301.1,1343.78 306.9,1343.78 306.9,1400.46 377.5,1400.46 377.5,1457.14 383.3,1457.14 383.3,1513.82 508.2,1513.82" fill="none" stroke="#3fcf72" stroke-width="2.4" stroke-linejoin="miter"/>
<polyline points="152.9,1287.1 294.8,1287.1 294.8,1343.78 301.1,1343.78 301.1,1400.46 306.9,1400.46 306.9,1457.14 377.5,1457.14 377.5,1513.82 383.3,1513.82 383.3,1570.5" fill="none" stroke="#9c9ca0" stroke-width="2.4" stroke-linejoin="miter"/>
<polyline points="294.8,1287.1 383.3,1287.1 383.3,1335.1 508.2,1335.1" fill="none" stroke="#f4606c" stroke-width="2.4" stroke-linejoin="miter"/>
<polyline points="294.8,1287.1 324.4,1287.1 324.4,1335.1 377.5,1335.1 377.5,1382.4 508.2,1382.4" fill="none" stroke="#f0922e" stroke-width="2.4" stroke-linejoin="miter"/>
<polyline points="294.8,1287.1 307.9,1287.1 307.9,1343.78 312.8,1343.78 312.8,1400.46 401.6,1400.46 401.6,1457.14 413.4,1457.14 413.4,1513.82 431.2,1513.82 431.2,1570.5" fill="none" stroke="#4636ff" stroke-width="2.4" stroke-linejoin="miter"/>
<line x1="152.9" y1="1287.1" x2="295.4" y2="1287.1" stroke="#9c9ca0" stroke-width="2.4"/>
<line x1="299.9" y1="1288.3" x2="299.91" y2="1343.78" stroke="#3fcf72" stroke-width="0.01"/>
<line x1="152.9" y1="1285.3" x2="152.9" y2="1585.8" stroke="#000" stroke-width="3.7"/>
<line x1="138.4" y1="1570.5" x2="510" y2="1570.5" stroke="#000" stroke-width="3.7"/>
<line x1="138.4" y1="1287.1" x2="152.9" y2="1287.1" stroke="#000" stroke-width="3.5"/>
<line x1="138.4" y1="1343.78" x2="152.9" y2="1343.78" stroke="#000" stroke-width="3.5"/>
<line x1="138.4" y1="1400.46" x2="152.9" y2="1400.46" stroke="#000" stroke-width="3.5"/>
<line x1="138.4" y1="1457.14" x2="152.9" y2="1457.14" stroke="#000" stroke-width="3.5"/>
<line x1="138.4" y1="1513.82" x2="152.9" y2="1513.82" stroke="#000" stroke-width="3.5"/>
<line x1="271.32" y1="1570.5" x2="271.32" y2="1585.8" stroke="#000" stroke-width="3.5"/>
<line x1="389.74" y1="1570.5" x2="389.74" y2="1585.8" stroke="#000" stroke-width="3.5"/>
<line x1="508.16" y1="1570.5" x2="508.16" y2="1585.8" stroke="#000" stroke-width="3.5"/>
<text x="130.2" y="1294.6" font-size="23.2" text-anchor="end">100</text>
<text x="130.2" y="1353.7" font-size="23.2" text-anchor="end">80</text>
<text x="130.2" y="1410.1" font-size="23.2" text-anchor="end">60</text>
<text x="130.2" y="1465.7" font-size="23.2" text-anchor="end">40</text>
<text x="130.2" y="1521.8" font-size="23.2" text-anchor="end">20</text>
<text x="130.2" y="1578.4" font-size="23.2" text-anchor="end">0</text>
<text x="151.3" y="1608.4" font-size="23.2" text-anchor="middle">0</text>
<text x="271.7" y="1608.4" font-size="23.2" text-anchor="middle">20</text>
<text x="387.6" y="1608.4" font-size="23.2" text-anchor="middle">40</text>
<text x="509" y="1608.4" font-size="23.2" text-anchor="middle">60</text>
<text x="323" y="1641.4" font-size="26.6" text-anchor="middle">Days</text>
<text x="72.9" y="1426" font-size="27.3" text-anchor="middle" transform="rotate(-90 72.9 1426)">Survival rate (%)</text>
<text x="171" y="1558.1" font-size="19"><tspan font-style="italic">p</tspan>&lt;0.001</text>
<rect x="370.5" y="1450.14" width="14" height="14" fill="#58d583" stroke="#0a0a0a" stroke-width="1.6"/>
<rect x="380.2" y="1506.82" width="14" height="14" fill="#58d583" stroke="#0a0a0a" stroke-width="1.6"/>
<rect x="501.2" y="1506.82" width="14" height="14" fill="#58d583" stroke="#0a0a0a" stroke-width="1.6"/>
<rect x="472.6" y="1328.1" width="14" height="14" fill="#f47e86" stroke="#0a0a0a" stroke-width="1.6"/>
<rect x="478.4" y="1328.1" width="14" height="14" fill="#f47e86" stroke="#0a0a0a" stroke-width="1.6"/>
<rect x="484.5" y="1328.1" width="14" height="14" fill="#f47e86" stroke="#0a0a0a" stroke-width="1.6"/>
<rect x="490.5" y="1328.1" width="14" height="14" fill="#f47e86" stroke="#0a0a0a" stroke-width="1.6"/>
<rect x="501.2" y="1328.1" width="14" height="14" fill="#f47e86" stroke="#0a0a0a" stroke-width="1.6"/>
<rect x="376.6" y="1328.1" width="14" height="14" fill="#f47e86" stroke="#0a0a0a" stroke-width="1.6"/>
<polygon points="324.5,1326.5 333.1,1335.1 324.5,1343.7 315.9,1335.1" fill="#f2a646" stroke="#0a0a0a" stroke-width="1.5" stroke-linejoin="miter"/>
<polygon points="377.3,1373.8 385.9,1382.4 377.3,1391 368.7,1382.4" fill="#f2a646" stroke="#0a0a0a" stroke-width="1.5" stroke-linejoin="miter"/>
<polygon points="490.4,1373.8 499,1382.4 490.4,1391 481.8,1382.4" fill="#f2a646" stroke="#0a0a0a" stroke-width="1.5" stroke-linejoin="miter"/>
<polygon points="495.8,1373.8 504.4,1382.4 495.8,1391 487.2,1382.4" fill="#f2a646" stroke="#0a0a0a" stroke-width="1.5" stroke-linejoin="miter"/>
<polygon points="501.1,1373.8 509.7,1382.4 501.1,1391 492.5,1382.4" fill="#f2a646" stroke="#0a0a0a" stroke-width="1.5" stroke-linejoin="miter"/>
<polygon points="508.2,1373.8 516.8,1382.4 508.2,1391 499.6,1382.4" fill="#f2a646" stroke="#0a0a0a" stroke-width="1.5" stroke-linejoin="miter"/>
<rect x="301.6" y="1336.78" width="14" height="14" fill="#6458fb" stroke="#0a0a0a" stroke-width="1.6"/>
<rect x="307.2" y="1393.46" width="14" height="14" fill="#6458fb" stroke="#0a0a0a" stroke-width="1.6"/>
<rect x="394.3" y="1450.14" width="14" height="14" fill="#6458fb" stroke="#0a0a0a" stroke-width="1.6"/>
<rect x="406.3" y="1506.82" width="14" height="14" fill="#6458fb" stroke="#0a0a0a" stroke-width="1.6"/>
<rect x="424" y="1563.9" width="14" height="14" fill="#6458fb" stroke="#0a0a0a" stroke-width="1.6"/>
<circle cx="294.8" cy="1343.78" r="6.6" fill="#a9a9ad" stroke="#0a0a0a" stroke-width="1.6"/>
<circle cx="301.1" cy="1400.46" r="6.6" fill="#a9a9ad" stroke="#0a0a0a" stroke-width="1.6"/>
<circle cx="306.9" cy="1457.14" r="6.6" fill="#a9a9ad" stroke="#0a0a0a" stroke-width="1.6"/>
<circle cx="377.7" cy="1513.82" r="6.6" fill="#a9a9ad" stroke="#0a0a0a" stroke-width="1.6"/>
<circle cx="383.5" cy="1570.9" r="6.6" fill="#a9a9ad" stroke="#0a0a0a" stroke-width="1.6"/>
<text x="862" y="1318.7" font-size="23.7">Survival rate</text>
<line x1="873.2" y1="1324.5" x2="1009.2" y2="1324.5" stroke="#000" stroke-width="1.6"/>
<line x1="571" y1="1341.7" x2="603" y2="1341.7" stroke="#9c9ca0" stroke-width="2"/>
<circle cx="587.1" cy="1341.7" r="5.6" fill="#a9a9ad" stroke="#0a0a0a" stroke-width="1.5"/>
<text x="605.6" y="1349.3" font-size="23.7">AAV-Vec.</text>
<text x="999.2" y="1348.6" font-size="23.9" text-anchor="end">0% (0/5)</text>
<line x1="571" y1="1377.4" x2="603" y2="1377.4" stroke="#4636ff" stroke-width="2"/>
<rect x="581.5" y="1371.8" width="11.2" height="11.2" fill="#6458fb" stroke="#0a0a0a" stroke-width="1.5"/>
<text x="605.6" y="1384.8" font-size="23.7">AAV-miR-29b</text>
<text x="999.2" y="1384.3" font-size="23.9" text-anchor="end">0% (0/5)</text>
<line x1="571" y1="1413.5" x2="603" y2="1413.5" stroke="#f0922e" stroke-width="2"/>
<polygon points="587.1,1405.9 594.7,1413.5 587.1,1421.1 579.5,1413.5" fill="#f2a646" stroke="#0a0a0a" stroke-width="1.4" stroke-linejoin="miter"/>
<text x="605.6" y="1421.1" font-size="23.7">AAV-miR-29b/RT/IgG</text>
<text x="999.2" y="1420.6" font-size="23.9" text-anchor="end">66.7% (4/6)</text>
<line x1="571" y1="1452.8" x2="603" y2="1452.8" stroke="#3fcf72" stroke-width="2"/>
<rect x="581.5" y="1447.2" width="11.2" height="11.2" fill="#58d583" stroke="#0a0a0a" stroke-width="1.5"/>
<text x="605.6" y="1459" font-size="23.7">AAV-miR-29b/RT/<tspan font-family="'Liberation Serif',serif" font-size="24.5">α</tspan>CD8a</text>
<text x="999.2" y="1459" font-size="23.9" text-anchor="end">16.7% (1/6)</text>
<line x1="571" y1="1490.1" x2="603" y2="1490.1" stroke="#f4606c" stroke-width="2"/>
<rect x="581.5" y="1484.5" width="11.2" height="11.2" fill="#f47e86" stroke="#0a0a0a" stroke-width="1.5"/>
<text x="605.6" y="1496.5" font-size="23.7">AAV-miR-29b/RT/<tspan font-family="'Liberation Serif',serif" font-size="24.5">α</tspan>PD1</text>
<text x="999.2" y="1493.5" font-size="23.9" text-anchor="end">83.3% (5/6)</text>
<text x="1007.4" y="1125" font-size="56.5">H</text>
<g clip-path="url(#cpM)" fill="none">
<path d="M1100,1293.6A964,964 0 0 1 1970,1293.6" fill="none" stroke="#edf2f9" stroke-width="21"/>
<path d="M1100,1287.4A969.6,969.6 0 0 1 1970,1287.4" fill="none" stroke="#c6d7ed" stroke-width="8.5" stroke-dasharray="2.5 2.35"/>
<path d="M1100,1299.9A958.4,958.4 0 0 1 1970,1299.9" fill="none" stroke="#c6d7ed" stroke-width="8.5" stroke-dasharray="2.5 2.3"/>
<path d="M1100,1293.6A964,964 0 0 1 1970,1293.6" fill="none" stroke="#f7fafd" stroke-width="2.4"/>
<path d="M1100,1281.3A975,975 0 0 1 1970,1281.3" fill="none" stroke="#6a83a4" stroke-width="2.9" stroke-dasharray="0.01 4.85" stroke-linecap="round"/>
<path d="M1100,1306A953,953 0 0 1 1970,1306" fill="none" stroke="#6a83a4" stroke-width="2.9" stroke-dasharray="0.01 4.74" stroke-linecap="round"/>
</g>
<line x1="1349" y1="1131.8" x2="1349" y2="1650" stroke="#55608a" stroke-width="3.2" stroke-dasharray="11.2 13.6"/>
<polygon points="1184.45,1145.61 1196.44,1140.14 1195.79,1160.6 1205.56,1156.3 1202.96,1179.5 1212.73,1174.29 1205.3,1214.69 1202.96,1184.71 1195.79,1191.88 1195.79,1166.47 1187.06,1173.63" fill="url(#lgO)"/>
<polygon points="1644.24,1114.85 1655.15,1121.39 1637.58,1131.82 1647.27,1138.48 1627.58,1148.48 1636.97,1154.24 1598.79,1171.82 1620.61,1151.82 1613.03,1150.61 1630.91,1137.88 1622.73,1132.91" fill="url(#lgO)"/>
<text x="1153" y="1143" font-size="22.3">RT</text>
<text x="1656.6" y="1116.3" font-size="22.3">RT</text>
<g transform="translate(1241 1259) rotate(-13.3)" stroke-linecap="round" stroke-linejoin="round">
<path d="M3,3.7L4.3,4.2L5.6,4.1L6.9,3.6L8.2,2.6L9.4,1.4L10.7,0L12,-1.4L13.3,-2.6L14.6,-3.6L15.9,-4.1L17.2,-4.2L18.5,-3.7L19.7,-2.9L21,-1.7L22.3,-0.3L23.6,1.1L24.9,2.4L26.2,3.4L27.5,4L28.8,4.2L30,3.9L31.3,3.1L32.6,2L33.9,0.7L35.2,-0.7L36.5,-2.1L37.8,-3.2L39.1,-3.9L40.3,-4.2L41.6,-4L42.9,-3.4L44.2,-2.3" fill="none" stroke="#2b7aa8" stroke-width="1.5"/>
<path d="M0,-0.7L1.3,-2.2L2.6,-3.4L3.9,-4.3L5.2,-4.6L6.5,-4.4L7.8,-3.7L9,-2.6L10.3,-1.2L11.6,0.4L12.9,1.9L14.2,3.2L15.5,4.1L16.8,4.6L18.1,4.5L19.4,3.9L20.7,2.9L22,1.5L23.3,-0.1L24.5,-1.6L25.8,-2.9L27.1,-4L28.4,-4.5L29.7,-4.5L31,-4.1L32.3,-3.1L33.6,-1.8L34.9,-0.3L36.2,1.3L37.5,2.7L38.8,3.8L40,4.4L41.3,4.6L42.6,4.2L43.9,3.3L45.2,2.1" fill="none" stroke="#17175c" stroke-width="2.1"/>
</g>
<g transform="translate(1279.5 1281.5) rotate(9)" stroke-linecap="round" stroke-linejoin="round">
<path d="M3,3.7L4.3,4.2L5.6,4.1L6.9,3.5L8.2,2.5L9.5,1.2L10.8,-0.3L12.2,-1.7L13.5,-2.9L14.8,-3.8L16.1,-4.2L17.4,-4.1L18.7,-3.5L20,-2.5L21.3,-1.1L22.6,0.3L23.9,1.7L25.2,2.9L26.5,3.8L27.9,4.2L29.2,4.1L30.5,3.5L31.8,2.4L33.1,1.1L34.4,-0.4L35.7,-1.8L37,-3L38.3,-3.8L39.6,-4.2L40.9,-4L42.2,-3.4L43.6,-2.4" fill="none" stroke="#2b7aa8" stroke-width="1.5"/>
<path d="M0,-0.7L1.3,-2.2L2.6,-3.5L3.9,-4.3L5.2,-4.6L6.6,-4.3L7.9,-3.5L9.2,-2.3L10.5,-0.8L11.8,0.8L13.1,2.3L14.4,3.5L15.7,4.3L17,4.6L18.3,4.3L19.7,3.5L21,2.2L22.3,0.7L23.6,-0.9L24.9,-2.4L26.2,-3.6L27.5,-4.4L28.8,-4.6L30.1,-4.3L31.4,-3.4L32.8,-2.2L34.1,-0.6L35.4,1L36.7,2.5L38,3.6L39.3,4.4L40.6,4.6L41.9,4.2L43.2,3.4L44.6,2.1" fill="none" stroke="#17175c" stroke-width="2.1"/>
</g>
<text x="1209.2" y="1283.1" font-size="18.6">dsDNA</text>
<text x="1115.2" y="1316.3" font-size="13.2" fill="#1b16f0" font-weight="bold">KRAS WT</text>
<path d="M1243.5,1288.5Q1231,1297 1227.8,1308.4" fill="none" stroke="#111" stroke-width="1.3" stroke-linecap="round"/>
<polygon points="1226.2,1314.1 1225.13,1304.97 1228.04,1307.55 1231.87,1306.86" fill="#111"/>
<text x="1182.6" y="1341.5" font-size="18.7">cGAS</text>
<path d="M1209.5,1346Q1200,1358 1198.8,1369.9" fill="none" stroke="#111" stroke-width="0.9" stroke-linecap="round"/>
<polygon points="1198.4,1374.1 1196.51,1367.88 1198.87,1369.32 1201.48,1368.38" fill="#111"/>
<text x="1153.2" y="1405.3" font-size="19">STING</text>
<path d="M1182.8,1413.2Q1174,1428 1174.2,1443.8" fill="none" stroke="#111" stroke-width="1.4" stroke-linecap="round"/>
<polygon points="1174.3,1449.7 1170.18,1441.26 1174.21,1442.9 1178.18,1441.15" fill="#111"/>
<text x="1140.6" y="1478.3" font-size="18.8">pIRF3</text>
<path d="M1123.5,1537.9L1155,1511.9" fill="none" stroke="#a9c7dc" stroke-width="6.4" stroke-linecap="round"/>
<path d="M1123.5,1537.9L1155,1511.9" fill="none" stroke="#eaf3fa" stroke-width="4.2" stroke-linecap="round"/>
<path d="M1174.2,1500.3Q1193,1492 1213.6,1488.9" fill="none" stroke="#a9c7dc" stroke-width="6.4" stroke-linecap="round"/>
<path d="M1174.2,1500.3Q1193,1492 1213.6,1488.9" fill="none" stroke="#eaf3fa" stroke-width="4.2" stroke-linecap="round"/>
<path d="M1235.3,1488.9Q1256,1492 1274.8,1500.3" fill="none" stroke="#a9c7dc" stroke-width="6.4" stroke-linecap="round"/>
<path d="M1235.3,1488.9Q1256,1492 1274.8,1500.3" fill="none" stroke="#eaf3fa" stroke-width="4.2" stroke-linecap="round"/>
<path d="M1293.8,1511.9L1325.5,1537.9" fill="none" stroke="#a9c7dc" stroke-width="6.4" stroke-linecap="round"/>
<path d="M1293.8,1511.9L1325.5,1537.9" fill="none" stroke="#eaf3fa" stroke-width="4.2" stroke-linecap="round"/>
<path d="M1167.6,1498.8Q1158.5,1512 1159,1529.6" fill="none" stroke="#111" stroke-width="1.1" stroke-linecap="round"/>
<polygon points="1159.2,1535.2 1155.21,1527.32 1159.01,1528.8 1162.71,1527.09" fill="#111"/>
<path d="M1131.5,1596.5L1132.8,1595.6L1134.1,1594.2L1135.4,1592.5L1136.7,1590.7L1138,1589L1139.3,1587.6L1140.6,1586.8L1141.9,1586.5L1143.2,1586.9L1144.6,1587.8L1145.9,1589.2L1147.2,1590.9L1148.5,1592.7L1149.8,1594.4L1151.1,1595.8L1152.4,1596.6L1153.7,1596.9L1155,1596.5L1156.3,1595.6L1157.6,1594.2L1158.9,1592.5L1160.2,1590.7L1161.5,1589L1162.8,1587.6L1164.1,1586.8L1165.4,1586.5L1166.8,1586.9L1168.1,1587.8L1169.4,1589.2L1170.7,1590.9L1172,1592.7L1173.3,1594.4L1174.6,1595.8L1175.9,1596.6L1177.2,1596.9L1178.5,1596.5" fill="none" stroke="#9c9c9c" stroke-width="1.6" stroke-linecap="round" stroke-linejoin="round"/>
<path d="M1131.5,1591.7L1132.8,1589.9L1134.1,1588.4L1135.4,1587.2L1136.7,1586.6L1138,1586.6L1139.3,1587.2L1140.6,1588.4L1141.9,1589.9L1143.2,1591.7L1144.6,1593.5L1145.9,1595L1147.2,1596.2L1148.5,1596.8L1149.8,1596.8L1151.1,1596.2L1152.4,1595L1153.7,1593.5L1155,1591.7L1156.3,1589.9L1157.6,1588.4L1158.9,1587.2L1160.2,1586.6L1161.5,1586.6L1162.8,1587.2L1164.1,1588.4L1165.4,1589.9L1166.8,1591.7L1168.1,1593.5L1169.4,1595L1170.7,1596.2L1172,1596.8L1173.3,1596.8L1174.6,1596.2L1175.9,1595L1177.2,1593.5L1178.5,1591.7" fill="none" stroke="#b9b9b9" stroke-width="1.6" stroke-linecap="round" stroke-linejoin="round"/>
<path d="M1272.5,1596.5L1273.8,1595.6L1275.1,1594.2L1276.4,1592.5L1277.7,1590.7L1279,1589L1280.3,1587.6L1281.6,1586.8L1282.9,1586.5L1284.2,1586.9L1285.6,1587.8L1286.9,1589.2L1288.2,1590.9L1289.5,1592.7L1290.8,1594.4L1292.1,1595.8L1293.4,1596.6L1294.7,1596.9L1296,1596.5L1297.3,1595.6L1298.6,1594.2L1299.9,1592.5L1301.2,1590.7L1302.5,1589L1303.8,1587.6L1305.1,1586.8L1306.4,1586.5L1307.8,1586.9L1309.1,1587.8L1310.4,1589.2L1311.7,1590.9L1313,1592.7L1314.3,1594.4L1315.6,1595.8L1316.9,1596.6L1318.2,1596.9L1319.5,1596.5" fill="none" stroke="#9c9c9c" stroke-width="1.6" stroke-linecap="round" stroke-linejoin="round"/>
<path d="M1272.5,1591.7L1273.8,1589.9L1275.1,1588.4L1276.4,1587.2L1277.7,1586.6L1279,1586.6L1280.3,1587.2L1281.6,1588.4L1282.9,1589.9L1284.2,1591.7L1285.6,1593.5L1286.9,1595L1288.2,1596.2L1289.5,1596.8L1290.8,1596.8L1292.1,1596.2L1293.4,1595L1294.7,1593.5L1296,1591.7L1297.3,1589.9L1298.6,1588.4L1299.9,1587.2L1301.2,1586.6L1302.5,1586.6L1303.8,1587.2L1305.1,1588.4L1306.4,1589.9L1307.8,1591.7L1309.1,1593.5L1310.4,1595L1311.7,1596.2L1313,1596.8L1314.3,1596.8L1315.6,1596.2L1316.9,1595L1318.2,1593.5L1319.5,1591.7" fill="none" stroke="#b9b9b9" stroke-width="1.6" stroke-linecap="round" stroke-linejoin="round"/>
<path d="M1178.5,1596.5L1179.8,1595.6L1181.1,1594.2L1182.4,1592.5L1183.7,1590.7L1185,1589L1186.3,1587.6L1187.6,1586.8L1188.9,1586.5L1190.2,1586.9L1191.6,1587.8L1192.9,1589.2L1194.2,1590.9L1195.5,1592.7L1196.8,1594.4L1198.1,1595.8L1199.4,1596.6L1200.7,1596.9L1202,1596.5L1203.3,1595.6L1204.6,1594.2L1205.9,1592.5L1207.2,1590.7L1208.5,1589L1209.8,1587.6L1211.1,1586.8L1212.4,1586.5L1213.8,1586.9L1215.1,1587.8L1216.4,1589.2L1217.7,1590.9L1219,1592.7L1220.3,1594.4L1221.6,1595.8L1222.9,1596.6L1224.2,1596.9L1225.5,1596.5L1226.8,1595.6L1228.1,1594.2L1229.4,1592.5L1230.7,1590.7L1232,1589L1233.3,1587.6L1234.6,1586.8L1235.9,1586.5L1237.2,1586.9L1238.6,1587.8L1239.9,1589.2L1241.2,1590.9L1242.5,1592.7L1243.8,1594.4L1245.1,1595.8L1246.4,1596.6L1247.7,1596.9L1249,1596.5L1250.3,1595.6L1251.6,1594.2L1252.9,1592.5L1254.2,1590.7L1255.5,1589L1256.8,1587.6L1258.1,1586.8L1259.4,1586.5L1260.8,1586.9L1262.1,1587.8L1263.4,1589.2L1264.7,1590.9L1266,1592.7L1267.3,1594.4L1268.6,1595.8L1269.9,1596.6L1271.2,1596.9L1272.5,1596.5" fill="none" stroke="#1d4f8c" stroke-width="1.9" stroke-linecap="round" stroke-linejoin="round"/>
<path d="M1178.5,1591.7L1179.8,1589.9L1181.1,1588.4L1182.4,1587.2L1183.7,1586.6L1185,1586.6L1186.3,1587.2L1187.6,1588.4L1188.9,1589.9L1190.2,1591.7L1191.6,1593.5L1192.9,1595L1194.2,1596.2L1195.5,1596.8L1196.8,1596.8L1198.1,1596.2L1199.4,1595L1200.7,1593.5L1202,1591.7L1203.3,1589.9L1204.6,1588.4L1205.9,1587.2L1207.2,1586.6L1208.5,1586.6L1209.8,1587.2L1211.1,1588.4L1212.4,1589.9L1213.8,1591.7L1215.1,1593.5L1216.4,1595L1217.7,1596.2L1219,1596.8L1220.3,1596.8L1221.6,1596.2L1222.9,1595L1224.2,1593.5L1225.5,1591.7L1226.8,1589.9L1228.1,1588.4L1229.4,1587.2L1230.7,1586.6L1232,1586.6L1233.3,1587.2L1234.6,1588.4L1235.9,1589.9L1237.2,1591.7L1238.6,1593.5L1239.9,1595L1241.2,1596.2L1242.5,1596.8L1243.8,1596.8L1245.1,1596.2L1246.4,1595L1247.7,1593.5L1249,1591.7L1250.3,1589.9L1251.6,1588.4L1252.9,1587.2L1254.2,1586.6L1255.5,1586.6L1256.8,1587.2L1258.1,1588.4L1259.4,1589.9L1260.8,1591.7L1262.1,1593.5L1263.4,1595L1264.7,1596.2L1266,1596.8L1267.3,1596.8L1268.6,1596.2L1269.9,1595L1271.2,1593.5L1272.5,1591.7" fill="none" stroke="#d61f28" stroke-width="1.9" stroke-linecap="round" stroke-linejoin="round"/>
<ellipse cx="1150.7" cy="1573.5" rx="22" ry="13.6" fill="#e4ec2f" stroke="#8a8ab0" stroke-width="0.7"/>
<text x="1150.7" y="1578.7" font-size="14.6" text-anchor="middle" fill="#1c1c30">IRF3</text>
<polyline points="1179.6,1588 1179.6,1566.6 1217.6,1566.6" fill="none" stroke="#000" stroke-width="1.9" stroke-linejoin="miter"/>
<polygon points="1226.1,1566.6 1216.6,1562.1 1216.6,1571.1" fill="#000"/>
<text x="1231" y="1572.2" font-size="14.6" stroke="#000" stroke-width="0.25">Type I IFN</text>
<g transform="translate(1539.5 1220.5) rotate(2.4)" stroke-linecap="round" stroke-linejoin="round">
<path d="M3,3.7L4.3,4.2L5.6,4.1L7,3.6L8.3,2.8L9.6,1.6L10.9,0.2L12.2,-1.1L13.6,-2.4L14.9,-3.4L16.2,-4L17.5,-4.2L18.8,-3.9L20.2,-3.2L21.5,-2.2L22.8,-0.9L24.1,0.5L25.4,1.8L26.8,3L28.1,3.8L29.4,4.2L30.7,4.1L32,3.6L33.3,2.7L34.7,1.5L36,0.2L37.3,-1.2L38.6,-2.4L39.9,-3.4L41.3,-4L42.6,-4.2L43.9,-3.9L45.2,-3.2L46.5,-2.1" fill="none" stroke="#2b7aa8" stroke-width="1.5"/>
<path d="M0,-0.7L1.3,-2.1L2.6,-3.3L3.9,-4.2L5.1,-4.6L6.4,-4.5L7.7,-4L9,-3.1L10.3,-1.8L11.6,-0.4L12.8,1.1L14.1,2.5L15.4,3.6L16.7,4.3L18,4.6L19.3,4.4L20.6,3.8L21.8,2.8L23.1,1.4L24.4,-0L25.7,-1.5L27,-2.8L28.3,-3.8L29.6,-4.4L30.8,-4.6L32.1,-4.3L33.4,-3.5L34.7,-2.4L36,-1.1L37.3,0.4L38.5,1.8L39.8,3.1L41.1,4L42.4,4.5L43.7,4.6L45,4.1L46.3,3.3L47.5,2.1" fill="none" stroke="#17175c" stroke-width="2.1"/>
</g>
<g transform="translate(1521.5 1251.5) rotate(-20.1)" stroke-linecap="round" stroke-linejoin="round">
<path d="M3,3.7L4.3,4.2L5.6,4.1L6.9,3.7L8.2,2.9L9.5,1.8L10.8,0.5L12,-0.9L13.3,-2.1L14.6,-3.2L15.9,-3.9L17.2,-4.2L18.5,-4.1L19.8,-3.5L21.1,-2.6L22.4,-1.5L23.7,-0.1L25,1.2L26.3,2.4L27.5,3.4L28.8,4L30.1,4.2L31.4,4L32.7,3.4L34,2.4L35.3,1.2L36.6,-0.2L37.9,-1.5L39.2,-2.7L40.5,-3.6L41.8,-4.1L43.1,-4.2L44.3,-3.9L45.6,-3.1L46.9,-2.1" fill="none" stroke="#2b7aa8" stroke-width="1.5"/>
<path d="M0,-0.7L1.3,-2.1L2.6,-3.3L3.9,-4.2L5.2,-4.6L6.5,-4.5L7.8,-4L9.1,-3.1L10.4,-1.8L11.7,-0.4L13,1.1L14.2,2.5L15.5,3.6L16.8,4.3L18.1,4.6L19.4,4.4L20.7,3.8L22,2.8L23.3,1.4L24.6,-0L25.9,-1.5L27.2,-2.8L28.5,-3.8L29.8,-4.4L31.1,-4.6L32.4,-4.3L33.7,-3.5L35,-2.4L36.3,-1.1L37.6,0.4L38.9,1.8L40.2,3.1L41.5,4L42.7,4.5L44,4.6L45.3,4.1L46.6,3.3L47.9,2.1" fill="none" stroke="#17175c" stroke-width="2.1"/>
</g>
<g transform="translate(1556.5 1262.5) rotate(7.9)" stroke-linecap="round" stroke-linejoin="round">
<path d="M3,3.7L4.3,4.2L5.6,4.1L6.9,3.6L8.3,2.8L9.6,1.6L10.9,0.2L12.2,-1.1L13.5,-2.4L14.8,-3.4L16.2,-4L17.5,-4.2L18.8,-3.9L20.1,-3.2L21.4,-2.2L22.7,-0.9L24.1,0.5L25.4,1.8L26.7,3L28,3.8L29.3,4.2L30.6,4.1L32,3.6L33.3,2.7L34.6,1.5L35.9,0.2L37.2,-1.2L38.5,-2.4L39.9,-3.4L41.2,-4L42.5,-4.2L43.8,-3.9L45.1,-3.2L46.4,-2.1" fill="none" stroke="#2b7aa8" stroke-width="1.5"/>
<path d="M0,-0.7L1.3,-2.2L2.6,-3.4L4,-4.2L5.3,-4.6L6.6,-4.5L7.9,-3.9L9.2,-2.8L10.5,-1.5L11.9,-0L13.2,1.5L14.5,2.8L15.8,3.9L17.1,4.5L18.5,4.6L19.8,4.2L21.1,3.4L22.4,2.2L23.7,0.7L25,-0.8L26.4,-2.2L27.7,-3.4L29,-4.2L30.3,-4.6L31.6,-4.4L32.9,-3.8L34.3,-2.8L35.6,-1.4L36.9,0.1L38.2,1.6L39.5,2.9L40.9,3.9L42.2,4.5L43.5,4.6L44.8,4.2L46.1,3.3L47.4,2.1" fill="none" stroke="#17175c" stroke-width="2.1"/>
</g>
<text x="1592" y="1229.7" font-size="18.6">dsDNA</text>
<path d="M1643,1229.6Q1667,1234 1676,1248" fill="none" stroke="#111" stroke-width="1" stroke-linecap="round"/>
<polygon points="1678.7,1252.1 1672.38,1247.85 1675.66,1247.4 1677.42,1244.59" fill="#111"/>
<text x="1673" y="1268.3" font-size="18.7">cGAS</text>
<path d="M1717.4,1271Q1732,1279 1737.7,1290.5" fill="none" stroke="#111" stroke-width="0.8" stroke-linecap="round"/>
<polygon points="1739.4,1294 1734.95,1290.06 1737.45,1290.05 1738.98,1288.07" fill="#111"/>
<text x="1718" y="1329" font-size="19">STING</text>
<line x1="1790.8" y1="1309.2" x2="1790.8" y2="1331.9" stroke="#f5141e" stroke-width="1.4"/>
<polygon points="1790.8,1334.9 1785.4,1329.3 1790.8,1330.6 1796.2,1329.3" fill="#f5141e"/>
<text x="1870.6" y="1316.4" font-size="13.2" fill="#f5141e" font-weight="bold">KRAS Mutant</text>
<path d="M1755.2,1346.6Q1775,1358 1772.1,1381.7" fill="none" stroke="#111" stroke-width="1.2" stroke-linecap="round"/>
<polygon points="1771.4,1387.6 1768.7,1378.71 1772.22,1380.85 1776.15,1379.61" fill="#111"/>
<text x="1747.2" y="1414.1" font-size="18.8">pIRF3</text>
<line x1="1810.1" y1="1397" x2="1810.1" y2="1419.5" stroke="#f5141e" stroke-width="1.4"/>
<polygon points="1810.1,1422.5 1804.7,1416.9 1810.1,1418.2 1815.5,1416.9" fill="#f5141e"/>
<line x1="1781.5" y1="1433" x2="1781.5" y2="1499" stroke="#000" stroke-width="1.3"/>
<polygon points="1781.5,1502.6 1776.5,1498 1781.5,1499.61 1786.5,1498" fill="#000"/>
<text x="1414.6" y="1282.1" font-size="22.3">KRAS<tspan font-size="13.2" dy="-7.2">G12D</tspan><tspan dy="7.2" font-size="1">&#8203;</tspan></text>
<path d="M1475.2,1292.3V1315.8M1469.5,1315.8H1480.8" fill="none" stroke="#111" stroke-width="1.5"/>
<g transform="translate(1416.5 1314.6) rotate(-14.7)" fill="none" stroke-linecap="round">
<path d="M1.5,0v7.5M26.6,0v7.5M5.5,0v7.5M30.7,0v7.5M9.6,0v7.5M34.7,0v7.5M13.6,0v7.5M38.7,0v7.5" fill="none" stroke="#d39ae0" stroke-width="1.5"/>
<path d="M0,0H15.1A5,5.8 0 0 1 25.1,0H40.2" fill="none" stroke="#b45ccc" stroke-width="1.8"/>
</g>
<g transform="translate(1494.7 1315.3) rotate(16.4)" fill="none" stroke-linecap="round">
<path d="M1.5,0v7.5M25.9,0v7.5M5.4,0v7.5M29.7,0v7.5M9.2,0v7.5M33.6,0v7.5M13.1,0v7.5M37.5,0v7.5" fill="none" stroke="#d39ae0" stroke-width="1.5"/>
<path d="M0,0H14.6A4.9,5.6 0 0 1 24.4,0H39" fill="none" stroke="#b45ccc" stroke-width="1.8"/>
</g>
<text x="1427" y="1345" font-size="18.8">miR-29b</text>
<path d="M1474.9,1362.2V1389.8M1469.2,1389.8H1480.5" fill="none" stroke="#111" stroke-width="1.5"/>
<g transform="translate(1359.7 1399.8) rotate(0)" fill="none" stroke-linecap="round">
<path d="M1.5,0v8.5M26.2,0v8.5M5.4,0v8.5M30.1,0v8.5M9.4,0v8.5M34.1,0v8.5M13.3,0v8.5M38,0v8.5" fill="none" stroke="#d39ae0" stroke-width="1.5"/>
<path d="M0,0H14.8A4.9,5.7 0 0 1 24.7,0H39.5" fill="none" stroke="#b45ccc" stroke-width="1.8"/>
</g>
<path d="M1359.6,1412.2v7.6M1363.6,1412.2v7.6M1367.6,1412.2v7.6M1371.7,1412.2v7.6M1375.7,1412.2v7.6M1379.7,1412.2v7.6M1383.7,1412.2v7.6M1387.7,1412.2v7.6M1391.8,1412.2v7.6M1395.8,1412.2v7.6M1399.8,1412.2v7.6M1403.8,1412.2v7.6M1407.8,1412.2v7.6M1411.9,1412.2v7.6M1415.9,1412.2v7.6M1419.9,1412.2v7.6M1423.9,1412.2v7.6M1427.9,1412.2v7.6M1432,1412.2v7.6M1436,1412.2v7.6M1440,1412.2v7.6" fill="none" stroke="#69c6d6" stroke-width="1.6"/>
<line x1="1357.6" y1="1420.9" x2="1441" y2="1420.9" stroke="#2a6b90" stroke-width="1.8"/>
<text x="1446" y="1422.3" font-size="18.7">DNMT3b</text>
<path d="M1355.8,1533L1408,1499.8" fill="none" stroke="#d5c3b3" stroke-width="7.6" stroke-linecap="round"/>
<path d="M1355.8,1533L1408,1499.8" fill="none" stroke="#f2ece6" stroke-width="5" stroke-linecap="round"/>
<path d="M1435.5,1483.4L1493.4,1457.4" fill="none" stroke="#d5c3b3" stroke-width="7.6" stroke-linecap="round"/>
<path d="M1435.5,1483.4L1493.4,1457.4" fill="none" stroke="#f2ece6" stroke-width="5" stroke-linecap="round"/>
<path d="M1524,1446.2L1584.4,1432.2" fill="none" stroke="#d5c3b3" stroke-width="7.6" stroke-linecap="round"/>
<path d="M1524,1446.2L1584.4,1432.2" fill="none" stroke="#f2ece6" stroke-width="5" stroke-linecap="round"/>
<path d="M1616,1428.4Q1648,1426.6 1680.4,1428" fill="none" stroke="#d5c3b3" stroke-width="7.6" stroke-linecap="round"/>
<path d="M1616,1428.4Q1648,1426.6 1680.4,1428" fill="none" stroke="#f2ece6" stroke-width="5" stroke-linecap="round"/>
<path d="M1710.6,1431.8Q1745,1437 1773.4,1445.6" fill="none" stroke="#d5c3b3" stroke-width="7.6" stroke-linecap="round"/>
<path d="M1710.6,1431.8Q1745,1437 1773.4,1445.6" fill="none" stroke="#f2ece6" stroke-width="5" stroke-linecap="round"/>
<path d="M1802.6,1456.6L1861,1482" fill="none" stroke="#d5c3b3" stroke-width="7.6" stroke-linecap="round"/>
<path d="M1802.6,1456.6L1861,1482" fill="none" stroke="#f2ece6" stroke-width="5" stroke-linecap="round"/>
<path d="M1887.4,1498L1941,1533" fill="none" stroke="#d5c3b3" stroke-width="7.6" stroke-linecap="round"/>
<path d="M1887.4,1498L1941,1533" fill="none" stroke="#f2ece6" stroke-width="5" stroke-linecap="round"/>
<path d="M1607.1,1410.4C1607.3,1411.7 1603,1413 1602.1,1414.5C1601.2,1415.9 1603.3,1418 1601.8,1419.2C1600.2,1420.3 1595.3,1420.4 1592.8,1421.4C1590.3,1422.4 1589.5,1424.6 1586.8,1425.1C1584.1,1425.7 1579.9,1424.6 1576.7,1424.8C1573.4,1424.9 1570.2,1426.2 1567.3,1426C1564.5,1425.8 1562.4,1423.9 1559.4,1423.3C1556.3,1422.8 1551.3,1423.6 1549,1422.7C1546.8,1421.9 1547.8,1419.4 1546.1,1418.2C1544.3,1416.9 1539,1416.3 1538.3,1415C1537.6,1413.7 1541.7,1411.9 1541.8,1410.4C1541.9,1408.9 1538.1,1407.2 1538.9,1405.9C1539.7,1404.6 1544.8,1404.1 1546.5,1402.8C1548.3,1401.5 1547.3,1399.1 1549.4,1398.3C1551.5,1397.4 1556.3,1398 1559.3,1397.4C1562.3,1396.8 1564.5,1395 1567.3,1394.8C1570.2,1394.6 1573.3,1396.3 1576.5,1396.5C1579.7,1396.6 1583.8,1395.4 1586.5,1395.9C1589.2,1396.4 1590.2,1398.5 1592.8,1399.4C1595.3,1400.4 1600.3,1400.5 1601.7,1401.6C1603.2,1402.8 1600.5,1405 1601.4,1406.4C1602.3,1407.9 1607,1409.1 1607.1,1410.4Z" fill="#eeb6ba" stroke="#dc9aa2" stroke-width="1.1"/>
<text x="1573.6" y="1413.6" font-size="14.6" text-anchor="middle" fill="#1a0a0a" stroke="#1a0a0a" stroke-width="0.2">DNMT3b</text>
<path d="M1562,1426.4C1563.6,1446 1546,1476 1489.5,1507.3" fill="none" stroke="url(#lgR)" stroke-width="1.7" stroke-linecap="round"/>
<polygon points="1479.6,1511.4 1488,1503.77 1487.49,1508.53 1490.94,1511.85" fill="#8f2230"/>
<text x="1440.3" y="1486.2" font-size="14.3" stroke="#000" stroke-width="0.2">Methylation</text>
<path d="M1633,1475C1636,1440 1650,1405 1673,1377" fill="none" stroke="url(#lgK)" stroke-width="1.5" stroke-linecap="round"/>
<polygon points="1678.7,1370.9 1675.47,1380.59 1673.81,1376.72 1669.72,1375.77" fill="#111"/>
<path d="M1393,1578.4H1408C1416,1578.4 1420,1570 1426,1572C1432,1575 1432,1578.4 1440,1578.4H1456C1466,1578.4 1470,1570 1476,1572C1482,1575 1482,1578.4 1493,1578.4" fill="none" stroke="#4a3c8c" stroke-width="1.1"/>
<path d="M1407.6,1550.4L1414.5,1556M1427.3,1547.6L1424.5,1554M1467.7,1547.6V1552.5M1453.2,1578.6V1587.6" fill="none" stroke="#7a1a1a" stroke-width="1.4"/>
<g transform="translate(1419 1565.4) rotate(18)">
<rect x="-10" y="-12" width="20" height="24" rx="7" fill="#5fc9d6"/>
<path d="M-2,-12v24M3.5,-11.5v23M8,-9.5v19" stroke="#3a8fc0" stroke-width="2.2" fill="none"/>
<ellipse cx="-4.5" cy="0" rx="5.5" ry="11.5" fill="#6fd2dc"/>
</g>
<g transform="translate(1468.8 1565.4) rotate(18)">
<rect x="-10" y="-12" width="20" height="24" rx="7" fill="#5fc9d6"/>
<path d="M-2,-12v24M3.5,-11.5v23M8,-9.5v19" stroke="#3a8fc0" stroke-width="2.2" fill="none"/>
<ellipse cx="-4.5" cy="0" rx="5.5" ry="11.5" fill="#6fd2dc"/>
</g>
<circle cx="1402.4" cy="1545.7" r="8.3" fill="#ea211d" stroke="#5c1010" stroke-width="1.1"/>
<text x="1402.4" y="1549.3" font-size="10.2" text-anchor="middle" fill="#3a0505">Me</text>
<circle cx="1428.9" cy="1538.2" r="10" fill="#ea211d" stroke="#5c1010" stroke-width="1.1"/>
<text x="1428.9" y="1541.8" font-size="10.2" text-anchor="middle" fill="#3a0505">Me</text>
<circle cx="1467.7" cy="1538.2" r="9.8" fill="#ea211d" stroke="#5c1010" stroke-width="1.1"/>
<text x="1467.7" y="1541.8" font-size="10.2" text-anchor="middle" fill="#3a0505">Me</text>
<circle cx="1453.7" cy="1597" r="10" fill="#ea211d" stroke="#5c1010" stroke-width="1.1"/>
<text x="1453.7" y="1600.6" font-size="10.2" text-anchor="middle" fill="#3a0505">Me</text>
<path d="M1495,1567.7V1572.5M1498.9,1564V1576.2M1502.8,1563.2V1577M1506.7,1565.7V1574.5M1510.6,1570.2V1570M1514.5,1574.7V1565.5M1518.4,1577V1563.2M1522.3,1576V1564.2M1526.2,1572.2V1568M1530.1,1567.4V1572.8M1534,1563.9V1576.3M1537.9,1563.3V1576.9M1541.8,1566V1574.2M1545.7,1570.6V1569.6M1549.6,1575V1565.2M1553.5,1577.1V1563.1M1557.4,1575.8V1564.4M1561.3,1571.9V1568.3M1565.2,1567V1573.2" fill="none" stroke="#86d3e2" stroke-width="1.3"/>
<path d="M1495,1567.7V1572.5M1498.9,1564V1576.2M1502.8,1563.2V1577M1506.7,1565.7V1574.5M1510.6,1570.2V1570M1514.5,1574.7V1565.5M1518.4,1577V1563.2M1522.3,1576V1564.2M1526.2,1572.2V1568M1530.1,1567.4V1572.8M1534,1563.9V1576.3M1537.9,1563.3V1576.9M1541.8,1566V1574.2M1545.7,1570.6V1569.6M1549.6,1575V1565.2M1553.5,1577.1V1563.1M1557.4,1575.8V1564.4M1561.3,1571.9V1568.3M1565.2,1567V1573.2" fill="none" stroke="#f0a0a8" stroke-width="1.3" stroke-dasharray="3 3"/>
<path d="M1493.1,1570.1L1494.4,1568.4L1495.7,1566.8L1497,1565.4L1498.3,1564.2L1499.6,1563.4L1500.9,1562.9L1502.2,1562.8L1503.5,1563.2L1504.8,1563.9L1506.1,1564.9L1507.5,1566.3L1508.8,1567.8L1510.1,1569.5L1511.4,1571.2L1512.7,1572.9L1514,1574.4L1515.3,1575.7L1516.6,1576.6L1517.9,1577.2L1519.2,1577.4L1520.5,1577.2L1521.8,1576.6L1523.1,1575.7L1524.4,1574.4L1525.7,1572.9L1527,1571.2L1528.3,1569.5L1529.6,1567.8L1530.9,1566.3L1532.2,1564.9L1533.6,1563.9L1534.9,1563.2L1536.2,1562.8L1537.5,1562.9L1538.8,1563.4L1540.1,1564.2L1541.4,1565.4L1542.7,1566.8L1544,1568.4L1545.3,1570.1L1546.6,1571.8L1547.9,1573.4L1549.2,1574.8L1550.5,1576L1551.8,1576.8L1553.1,1577.3L1554.4,1577.4L1555.7,1577L1557,1576.3L1558.3,1575.3L1559.7,1573.9L1561,1572.4L1562.3,1570.7L1563.6,1569L1564.9,1567.3L1566.2,1565.8" fill="none" stroke="#1e5b98" stroke-width="1.9" stroke-linecap="round" stroke-linejoin="round"/>
<path d="M1493.1,1570.1L1494.4,1571.8L1495.7,1573.4L1497,1574.8L1498.3,1576L1499.6,1576.8L1500.9,1577.3L1502.2,1577.4L1503.5,1577L1504.8,1576.3L1506.1,1575.3L1507.5,1573.9L1508.8,1572.4L1510.1,1570.7L1511.4,1569L1512.7,1567.3L1514,1565.8L1515.3,1564.5L1516.6,1563.6L1517.9,1563L1519.2,1562.8L1520.5,1563L1521.8,1563.6L1523.1,1564.5L1524.4,1565.8L1525.7,1567.3L1527,1569L1528.3,1570.7L1529.6,1572.4L1530.9,1573.9L1532.2,1575.3L1533.6,1576.3L1534.9,1577L1536.2,1577.4L1537.5,1577.3L1538.8,1576.8L1540.1,1576L1541.4,1574.8L1542.7,1573.4L1544,1571.8L1545.3,1570.1L1546.6,1568.4L1547.9,1566.8L1549.2,1565.4L1550.5,1564.2L1551.8,1563.4L1553.1,1562.9L1554.4,1562.8L1555.7,1563.2L1557,1563.9L1558.3,1564.9L1559.7,1566.3L1561,1567.8L1562.3,1569.5L1563.6,1571.2L1564.9,1572.9L1566.2,1574.4" fill="none" stroke="#c71d1d" stroke-width="1.9" stroke-linecap="round" stroke-linejoin="round"/>
<path d="M1563,1562.5l4.5,0" fill="none" stroke="#c71d1d" stroke-width="2"/>
<polyline points="1526.9,1562.6 1526.9,1550.2 1535,1550.2" fill="none" stroke="#000" stroke-width="1.3"/>
<polygon points="1541.8,1550.2 1534.6,1546.9 1534.6,1553.5" fill="#000"/>
<path d="M1523.6,1540.6L1536.6,1555.2M1536.6,1540.6L1523.6,1555.2" fill="none" stroke="#f5141e" stroke-width="1.5"/>
<text x="1554.6" y="1557" font-size="22.5">STING</text>
<path d="M1696.5,1580.2L1697.8,1579.3L1699.1,1578L1700.4,1576.3L1701.7,1574.6L1703.1,1573L1704.4,1571.7L1705.7,1570.9L1707,1570.6L1708.3,1571L1709.6,1571.9L1710.9,1573.2L1712.2,1574.9L1713.5,1576.6L1714.9,1578.2L1716.2,1579.5L1717.5,1580.3L1718.8,1580.6L1720.1,1580.2L1721.4,1579.3L1722.7,1578L1724,1576.3L1725.3,1574.6L1726.7,1573L1728,1571.7L1729.3,1570.9L1730.6,1570.6L1731.9,1571L1733.2,1571.9L1734.5,1573.2L1735.8,1574.9L1737.1,1576.6L1738.5,1578.2L1739.8,1579.5L1741.1,1580.3L1742.4,1580.6L1743.7,1580.2" fill="none" stroke="#9c9c9c" stroke-width="1.6" stroke-linecap="round" stroke-linejoin="round"/>
<path d="M1696.5,1575.6L1697.8,1573.9L1699.1,1572.4L1700.4,1571.3L1701.7,1570.7L1703.1,1570.7L1704.4,1571.3L1705.7,1572.4L1707,1573.9L1708.3,1575.6L1709.6,1577.3L1710.9,1578.8L1712.2,1579.9L1713.5,1580.5L1714.9,1580.5L1716.2,1579.9L1717.5,1578.8L1718.8,1577.3L1720.1,1575.6L1721.4,1573.9L1722.7,1572.4L1724,1571.3L1725.3,1570.7L1726.7,1570.7L1728,1571.3L1729.3,1572.4L1730.6,1573.9L1731.9,1575.6L1733.2,1577.3L1734.5,1578.8L1735.8,1579.9L1737.1,1580.5L1738.5,1580.5L1739.8,1579.9L1741.1,1578.8L1742.4,1577.3L1743.7,1575.6" fill="none" stroke="#b9b9b9" stroke-width="1.6" stroke-linecap="round" stroke-linejoin="round"/>
<path d="M1838,1580.2L1839.3,1579.3L1840.6,1578L1841.9,1576.3L1843.2,1574.6L1844.6,1573L1845.9,1571.7L1847.2,1570.9L1848.5,1570.6L1849.8,1571L1851.1,1571.9L1852.4,1573.2L1853.7,1574.9L1855,1576.6L1856.4,1578.2L1857.7,1579.5L1859,1580.3L1860.3,1580.6L1861.6,1580.2L1862.9,1579.3L1864.2,1578L1865.5,1576.3L1866.8,1574.6L1868.2,1573L1869.5,1571.7L1870.8,1570.9L1872.1,1570.6L1873.4,1571L1874.7,1571.9L1876,1573.2L1877.3,1574.9L1878.6,1576.6L1880,1578.2L1881.3,1579.5L1882.6,1580.3L1883.9,1580.6L1885.2,1580.2" fill="none" stroke="#9c9c9c" stroke-width="1.6" stroke-linecap="round" stroke-linejoin="round"/>
<path d="M1838,1575.6L1839.3,1573.9L1840.6,1572.4L1841.9,1571.3L1843.2,1570.7L1844.6,1570.7L1845.9,1571.3L1847.2,1572.4L1848.5,1573.9L1849.8,1575.6L1851.1,1577.3L1852.4,1578.8L1853.7,1579.9L1855,1580.5L1856.4,1580.5L1857.7,1579.9L1859,1578.8L1860.3,1577.3L1861.6,1575.6L1862.9,1573.9L1864.2,1572.4L1865.5,1571.3L1866.8,1570.7L1868.2,1570.7L1869.5,1571.3L1870.8,1572.4L1872.1,1573.9L1873.4,1575.6L1874.7,1577.3L1876,1578.8L1877.3,1579.9L1878.6,1580.5L1880,1580.5L1881.3,1579.9L1882.6,1578.8L1883.9,1577.3L1885.2,1575.6" fill="none" stroke="#b9b9b9" stroke-width="1.6" stroke-linecap="round" stroke-linejoin="round"/>
<path d="M1743.7,1580.2L1745,1579.4L1746.3,1578L1747.6,1576.4L1748.9,1574.7L1750.2,1573.1L1751.5,1571.8L1752.8,1570.9L1754,1570.6L1755.3,1570.9L1756.6,1571.7L1757.9,1573L1759.2,1574.6L1760.5,1576.3L1761.8,1577.9L1763.1,1579.3L1764.4,1580.2L1765.7,1580.6L1767,1580.4L1768.3,1579.6L1769.6,1578.4L1770.9,1576.8L1772.1,1575.1L1773.4,1573.5L1774.7,1572.1L1776,1571.1L1777.3,1570.6L1778.6,1570.8L1779.9,1571.5L1781.2,1572.6L1782.5,1574.2L1783.8,1575.9L1785.1,1577.5L1786.4,1579L1787.7,1580L1789,1580.6L1790.3,1580.5L1791.5,1579.9L1792.8,1578.7L1794.1,1577.2L1795.4,1575.5L1796.7,1573.9L1798,1572.4L1799.3,1571.3L1800.6,1570.7L1801.9,1570.7L1803.2,1571.2L1804.5,1572.3L1805.8,1573.8L1807.1,1575.4L1808.4,1577.1L1809.7,1578.7L1810.9,1579.8L1812.2,1580.5L1813.5,1580.6L1814.8,1580.1L1816.1,1579.1L1817.4,1577.6L1818.7,1576L1820,1574.3L1821.3,1572.7L1822.6,1571.5L1823.9,1570.8L1825.2,1570.6L1826.5,1571L1827.8,1572L1829,1573.4L1830.3,1575L1831.6,1576.7L1832.9,1578.3L1834.2,1579.6L1835.5,1580.4L1836.8,1580.6L1838.1,1580.2" fill="none" stroke="#1b2a8c" stroke-width="1.9" stroke-linecap="round" stroke-linejoin="round"/>
<path d="M1743.7,1575.6L1745,1573.9L1746.3,1572.4L1747.6,1571.3L1748.9,1570.7L1750.2,1570.7L1751.5,1571.2L1752.8,1572.3L1754,1573.7L1755.3,1575.4L1756.6,1577.1L1757.9,1578.6L1759.2,1579.8L1760.5,1580.5L1761.8,1580.6L1763.1,1580.1L1764.4,1579.1L1765.7,1577.7L1767,1576L1768.3,1574.3L1769.6,1572.8L1770.9,1571.5L1772.1,1570.8L1773.4,1570.6L1774.7,1571L1776,1572L1777.3,1573.3L1778.6,1575L1779.9,1576.7L1781.2,1578.3L1782.5,1579.5L1783.8,1580.3L1785.1,1580.6L1786.4,1580.3L1787.7,1579.4L1789,1578.1L1790.3,1576.5L1791.5,1574.7L1792.8,1573.1L1794.1,1571.8L1795.4,1570.9L1796.7,1570.6L1798,1570.9L1799.3,1571.7L1800.6,1572.9L1801.9,1574.5L1803.2,1576.2L1804.5,1577.9L1805.8,1579.2L1807.1,1580.2L1808.4,1580.6L1809.7,1580.4L1810.9,1579.7L1812.2,1578.4L1813.5,1576.9L1814.8,1575.2L1816.1,1573.5L1817.4,1572.1L1818.7,1571.1L1820,1570.6L1821.3,1570.7L1822.6,1571.4L1823.9,1572.6L1825.2,1574.1L1826.5,1575.8L1827.8,1577.5L1829,1578.9L1830.3,1580L1831.6,1580.5L1832.9,1580.5L1834.2,1579.9L1835.5,1578.8L1836.8,1577.3L1838.1,1575.6" fill="none" stroke="#d01d26" stroke-width="1.9" stroke-linecap="round" stroke-linejoin="round"/>
<ellipse cx="1712.4" cy="1562" rx="22" ry="13.6" fill="#e4ec2f" stroke="#8a8ab0" stroke-width="0.7"/>
<text x="1712.4" y="1567.2" font-size="14.6" text-anchor="middle" fill="#1c1c30">IRF3</text>
<polyline points="1744,1572.5 1744,1550.4 1781.7,1550.4" fill="none" stroke="#000" stroke-width="1.9" stroke-linejoin="miter"/>
<polygon points="1790.2,1550.4 1780.7,1545.9 1780.7,1554.9" fill="#000"/>
<text x="1796.2" y="1557" font-size="18.7">Type I IFN</text>
<line x1="1897.6" y1="1535" x2="1897.6" y2="1564" stroke="#f5141e" stroke-width="1.4"/>
<polygon points="1897.6,1567 1892.2,1561.4 1897.6,1562.7 1903,1561.4" fill="#f5141e"/>
</svg>
</body></html>
